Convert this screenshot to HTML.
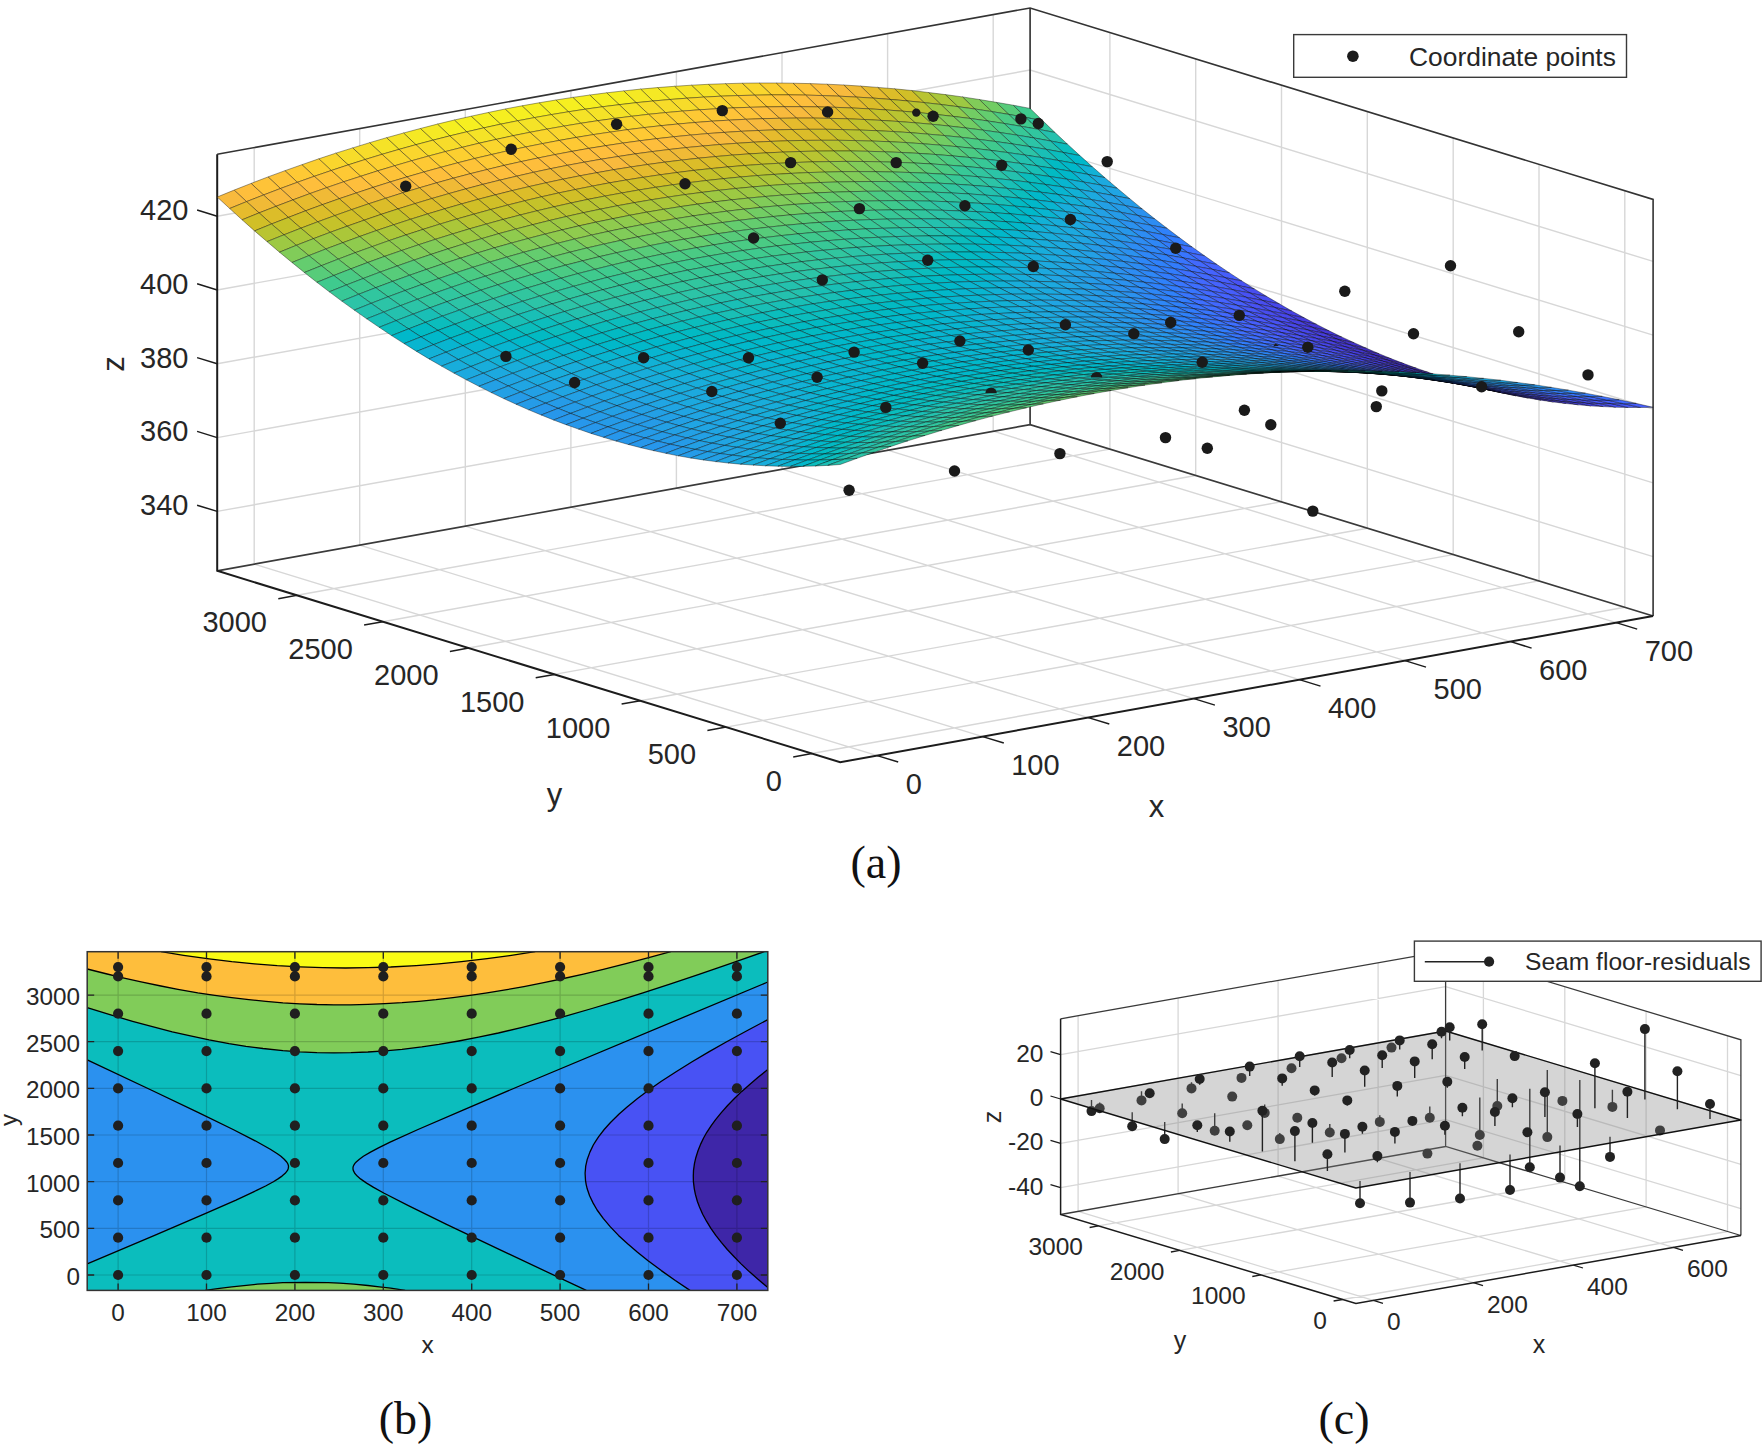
<!DOCTYPE html><html><head><meta charset="utf-8"><title>Surface fitting</title>
<style>html,body{margin:0;padding:0;background:#fff}svg{display:block}text{font-family:"Liberation Sans",Arial,sans-serif;fill:#262626}.s{font-family:"Liberation Serif","Times New Roman",serif;fill:#111}</style></head><body>
<svg width="1764" height="1448" viewBox="0 0 1764 1448">
<rect width="1764" height="1448" fill="#fff"/>
<g id="panel-a">
<path fill="none" stroke="#d7d7d7" stroke-width="1.4" d="M877.2,755.6L254.2,564.2M254.2,564.2L254.2,147.6M982.7,736.6L359.7,545.2M359.7,545.2L359.7,128.6M1088.3,717.6L465.3,526.2M465.3,526.2L465.3,109.6M1193.9,698.6L570.9,507.2M570.9,507.2L570.9,90.6M1299.4,679.6L676.4,488.2M676.4,488.2L676.4,71.6M1405.0,660.6L782.0,469.2M782.0,469.2L782.0,52.6M1510.6,641.6L887.6,450.2M887.6,450.2L887.6,33.6M1616.2,622.6L993.2,431.2M993.2,431.2L993.2,14.6M811.9,753.5L1624.8,607.3M1624.8,607.3L1624.8,190.7M726.1,727.1L1539.0,580.9M1539.0,580.9L1539.0,164.3M640.3,700.8L1453.2,554.6M1453.2,554.6L1453.2,138.0M554.4,674.4L1367.3,528.2M1367.3,528.2L1367.3,111.6M468.6,648.0L1281.5,501.8M1281.5,501.8L1281.5,85.2M382.8,621.7L1195.7,475.5M1195.7,475.5L1195.7,58.9M297.0,595.3L1109.9,449.1M1109.9,449.1L1109.9,32.5M217.2,511.4L1030.1,365.2M1030.1,365.2L1653.1,556.6M217.2,437.6L1030.1,291.4M1030.1,291.4L1653.1,482.8M217.2,363.8L1030.1,217.6M1030.1,217.6L1653.1,409.0M217.2,290.0L1030.1,143.8M1030.1,143.8L1653.1,335.2M217.2,216.2L1030.1,70.0M1030.1,70.0L1653.1,261.4"/>
<path fill="none" stroke="#3a3a3a" stroke-width="1.7" d="M217.2,570.8L1030.1,424.6L1653.1,616.0M1030.1,424.6L1030.1,8.0"/>
<path fill="none" stroke="#333" stroke-width="1.6" d="M217.2,154.2L1030.1,8.0L1653.1,199.4L1653.1,616.0"/>
<path fill="none" stroke="#1c1c1c" stroke-width="2" stroke-linejoin="miter" d="M1653.1,616.0L840.2,762.2L217.2,570.8L217.2,154.2"/>
<path fill="none" stroke="#1c1c1c" stroke-width="1.5" d="M877.2,755.6L898.2,762.0M982.7,736.6L1003.8,743.0M1088.3,717.6L1109.3,724.0M1193.9,698.6L1214.9,705.1M1299.4,679.6L1320.5,686.1M1405.0,660.6L1426.0,667.1M1510.6,641.6L1531.6,648.1M1616.2,622.6L1637.2,629.1M811.9,753.5L793.2,756.9M726.1,727.1L707.4,730.5M640.3,700.8L621.6,704.1M554.4,674.4L535.7,677.8M468.6,648.0L449.9,651.4M382.8,621.7L364.1,625.0M297.0,595.3L278.3,598.7M217.2,511.4L197.1,505.2M217.2,437.6L197.1,431.4M217.2,363.8L197.1,357.6M217.2,290.0L197.1,283.8M217.2,216.2L197.1,210.0"/>
<g font-size="29"><text x="188.5" y="515.2" text-anchor="end">340</text><text x="188.5" y="441.4" text-anchor="end">360</text><text x="188.5" y="367.6" text-anchor="end">380</text><text x="188.5" y="293.8" text-anchor="end">400</text><text x="188.5" y="220.0" text-anchor="end">420</text><text x="781.9" y="790.6" text-anchor="end">0</text><text x="696.1" y="764.2" text-anchor="end">500</text><text x="610.3" y="737.9" text-anchor="end">1000</text><text x="524.4" y="711.5" text-anchor="end">1500</text><text x="438.6" y="685.1" text-anchor="end">2000</text><text x="352.8" y="658.8" text-anchor="end">2500</text><text x="267.0" y="632.4" text-anchor="end">3000</text><text x="905.7" y="794.2">0</text><text x="1011.2" y="775.2">100</text><text x="1116.8" y="756.2">200</text><text x="1222.4" y="737.2">300</text><text x="1327.9" y="718.2">400</text><text x="1433.5" y="699.2">500</text><text x="1539.1" y="680.2">600</text><text x="1644.7" y="661.2">700</text></g>
<text x="1156.5" y="817" font-size="31" text-anchor="middle">x</text>
<text x="554.5" y="805" font-size="31" text-anchor="middle">y</text>
<text transform="translate(124,364) rotate(-90)" font-size="31" text-anchor="middle">z</text>
<g stroke="#000" stroke-opacity="0.5" stroke-width="0.75" stroke-linejoin="round"><path d="M1025.6,117.4L1042.6,120.6L1030.1,108.4L1013.2,105.2z" fill="#3fca8e"/><path d="M1038.1,129.3L1055.0,132.5L1042.6,120.6L1025.6,117.4z" fill="#31c69f"/><path d="M1050.5,141.0L1067.5,144.2L1055.0,132.5L1038.1,129.3z" fill="#24c1ae"/><path d="M1063.0,152.4L1079.9,155.6L1067.5,144.2L1050.5,141.0z" fill="#0bbdbd"/><path d="M1075.5,163.5L1092.4,166.8L1079.9,155.6L1063.0,152.4z" fill="#01b8ca"/><path d="M1087.9,174.4L1104.9,177.7L1092.4,166.8L1075.5,163.5z" fill="#12b1d6"/><path d="M1100.4,185.0L1117.3,188.3L1104.9,177.7L1087.9,174.4z" fill="#1ca9df"/><path d="M1112.8,195.4L1129.8,198.7L1117.3,188.3L1100.4,185.0z" fill="#20a5e3"/><path d="M1125.3,205.6L1142.2,208.9L1129.8,198.7L1112.8,195.4z" fill="#259be8"/><path d="M1137.8,215.5L1154.7,218.8L1142.2,208.9L1125.3,205.6z" fill="#2b91ef"/><path d="M1150.2,225.1L1167.2,228.4L1154.7,218.8L1137.8,215.5z" fill="#2d8cf3"/><path d="M1162.7,234.5L1179.6,237.8L1167.2,228.4L1150.2,225.1z" fill="#2f81fa"/><path d="M1175.1,243.6L1192.1,247.0L1179.6,237.8L1162.7,234.5z" fill="#327cfc"/><path d="M1187.6,252.5L1204.5,255.8L1192.1,247.0L1175.1,243.6z" fill="#3e6fff"/><path d="M1200.1,261.1L1217.0,264.5L1204.5,255.8L1187.6,252.5z" fill="#4269fe"/><path d="M1212.5,269.4L1229.5,272.9L1217.0,264.5L1200.1,261.1z" fill="#4563fd"/><path d="M1225.0,277.6L1241.9,281.0L1229.5,272.9L1212.5,269.4z" fill="#465efb"/><path d="M1237.4,285.4L1254.4,288.9L1241.9,281.0L1225.0,277.6z" fill="#4852f4"/><path d="M1249.9,293.0L1266.8,296.5L1254.4,288.9L1237.4,285.4z" fill="#484df0"/><path d="M1262.4,300.4L1279.3,303.8L1266.8,296.5L1249.9,293.0z" fill="#484df0"/><path d="M1274.8,307.5L1291.8,311.0L1279.3,303.8L1262.4,300.4z" fill="#4747eb"/><path d="M1287.3,314.3L1304.2,317.8L1291.8,311.0L1274.8,307.5z" fill="#4741e5"/><path d="M1299.7,320.9L1316.7,324.4L1304.2,317.8L1287.3,314.3z" fill="#463cde"/><path d="M1312.2,327.3L1329.1,330.8L1316.7,324.4L1299.7,320.9z" fill="#4537d5"/><path d="M1324.7,333.4L1341.6,336.9L1329.1,330.8L1312.2,327.3z" fill="#4537d5"/><path d="M1337.1,339.2L1354.1,342.7L1341.6,336.9L1324.7,333.4z" fill="#4332cb"/><path d="M1349.6,344.8L1366.5,348.3L1354.1,342.7L1337.1,339.2z" fill="#4332cb"/><path d="M1362.0,350.1L1379.0,353.7L1366.5,348.3L1349.6,344.8z" fill="#422ec0"/><path d="M1374.5,355.2L1391.4,358.8L1379.0,353.7L1362.0,350.1z" fill="#422ec0"/><path d="M1387.0,360.0L1403.9,363.6L1391.4,358.8L1374.5,355.2z" fill="#422ec0"/><path d="M1399.4,364.6L1416.4,368.2L1403.9,363.6L1387.0,360.0z" fill="#422ec0"/><path d="M1411.9,368.9L1428.8,372.5L1416.4,368.2L1399.4,364.6z" fill="#402ab4"/><path d="M1424.3,373.0L1441.3,376.6L1428.8,372.5L1411.9,368.9z" fill="#402ab4"/><path d="M1436.8,376.8L1453.7,380.4L1441.3,376.6L1424.3,373.0z" fill="#402ab4"/><path d="M1449.3,380.4L1466.2,384.0L1453.7,380.4L1436.8,376.8z" fill="#402ab4"/><path d="M1461.7,383.7L1478.7,387.3L1466.2,384.0L1449.3,380.4z" fill="#422ec0"/><path d="M1474.2,386.7L1491.1,390.4L1478.7,387.3L1461.7,383.7z" fill="#422ec0"/><path d="M1486.6,389.5L1503.6,393.2L1491.1,390.4L1474.2,386.7z" fill="#422ec0"/><path d="M1499.1,392.1L1516.0,395.8L1503.6,393.2L1486.6,389.5z" fill="#422ec0"/><path d="M1511.6,394.4L1528.5,398.1L1516.0,395.8L1499.1,392.1z" fill="#4332cb"/><path d="M1524.0,396.4L1541.0,400.2L1528.5,398.1L1511.6,394.4z" fill="#4332cb"/><path d="M1536.5,398.2L1553.4,402.0L1541.0,400.2L1524.0,396.4z" fill="#4537d5"/><path d="M1548.9,399.7L1565.9,403.5L1553.4,402.0L1536.5,398.2z" fill="#4537d5"/><path d="M1561.4,401.0L1578.3,404.8L1565.9,403.5L1548.9,399.7z" fill="#463cde"/><path d="M1573.9,402.1L1590.8,405.9L1578.3,404.8L1561.4,401.0z" fill="#4741e5"/><path d="M1586.3,402.8L1603.3,406.6L1590.8,405.9L1573.9,402.1z" fill="#4747eb"/><path d="M1598.8,403.4L1615.7,407.2L1603.3,406.6L1586.3,402.8z" fill="#484df0"/><path d="M1611.2,403.6L1628.2,407.5L1615.7,407.2L1598.8,403.4z" fill="#4852f4"/><path d="M1623.7,403.7L1640.6,407.5L1628.2,407.5L1611.2,403.6z" fill="#4758f8"/><path d="M1636.2,403.4L1653.1,407.3L1640.6,407.5L1623.7,403.7z" fill="#465efb"/><path d="M1008.7,114.4L1025.6,117.4L1013.2,105.2L996.2,102.3z" fill="#57cc7a"/><path d="M1021.1,126.3L1038.1,129.3L1025.6,117.4L1008.7,114.4z" fill="#3fca8e"/><path d="M1033.6,137.9L1050.5,141.0L1038.1,129.3L1021.1,126.3z" fill="#31c69f"/><path d="M1046.1,149.3L1063.0,152.4L1050.5,141.0L1033.6,137.9z" fill="#24c1ae"/><path d="M1058.5,160.5L1075.5,163.5L1063.0,152.4L1046.1,149.3z" fill="#0bbdbd"/><path d="M1071.0,171.3L1087.9,174.4L1075.5,163.5L1058.5,160.5z" fill="#01b8ca"/><path d="M1083.4,182.0L1100.4,185.0L1087.9,174.4L1071.0,171.3z" fill="#12b1d6"/><path d="M1095.9,192.3L1112.8,195.4L1100.4,185.0L1083.4,182.0z" fill="#1ca9df"/><path d="M1108.4,202.5L1125.3,205.6L1112.8,195.4L1095.9,192.3z" fill="#23a0e5"/><path d="M1120.8,212.3L1137.8,215.5L1125.3,205.6L1108.4,202.5z" fill="#259be8"/><path d="M1133.3,222.0L1150.2,225.1L1137.8,215.5L1120.8,212.3z" fill="#2b91ef"/><path d="M1145.7,231.3L1162.7,234.5L1150.2,225.1L1133.3,222.0z" fill="#2d8cf3"/><path d="M1158.2,240.4L1175.1,243.6L1162.7,234.5L1145.7,231.3z" fill="#2f81fa"/><path d="M1170.7,249.3L1187.6,252.5L1175.1,243.6L1158.2,240.4z" fill="#327cfc"/><path d="M1183.1,257.9L1200.1,261.1L1187.6,252.5L1170.7,249.3z" fill="#3875fe"/><path d="M1195.6,266.3L1212.5,269.4L1200.1,261.1L1183.1,257.9z" fill="#4269fe"/><path d="M1208.0,274.4L1225.0,277.6L1212.5,269.4L1195.6,266.3z" fill="#4563fd"/><path d="M1220.5,282.2L1237.4,285.4L1225.0,277.6L1208.0,274.4z" fill="#465efb"/><path d="M1233.0,289.8L1249.9,293.0L1237.4,285.4L1220.5,282.2z" fill="#4758f8"/><path d="M1245.4,297.1L1262.4,300.4L1249.9,293.0L1233.0,289.8z" fill="#4852f4"/><path d="M1257.9,304.2L1274.8,307.5L1262.4,300.4L1245.4,297.1z" fill="#484df0"/><path d="M1270.3,311.1L1287.3,314.3L1274.8,307.5L1257.9,304.2z" fill="#484df0"/><path d="M1282.8,317.6L1299.7,320.9L1287.3,314.3L1270.3,311.1z" fill="#4747eb"/><path d="M1295.3,324.0L1312.2,327.3L1299.7,320.9L1282.8,317.6z" fill="#4741e5"/><path d="M1307.7,330.0L1324.7,333.4L1312.2,327.3L1295.3,324.0z" fill="#463cde"/><path d="M1320.2,335.9L1337.1,339.2L1324.7,333.4L1307.7,330.0z" fill="#463cde"/><path d="M1332.6,341.4L1349.6,344.8L1337.1,339.2L1320.2,335.9z" fill="#4537d5"/><path d="M1345.1,346.8L1362.0,350.1L1349.6,344.8L1332.6,341.4z" fill="#4537d5"/><path d="M1357.6,351.8L1374.5,355.2L1362.0,350.1L1345.1,346.8z" fill="#4537d5"/><path d="M1370.0,356.6L1387.0,360.0L1374.5,355.2L1357.6,351.8z" fill="#4332cb"/><path d="M1382.5,361.2L1399.4,364.6L1387.0,360.0L1370.0,356.6z" fill="#4332cb"/><path d="M1394.9,365.5L1411.9,368.9L1399.4,364.6L1382.5,361.2z" fill="#4332cb"/><path d="M1407.4,369.6L1424.3,373.0L1411.9,368.9L1394.9,365.5z" fill="#4332cb"/><path d="M1419.9,373.4L1436.8,376.8L1424.3,373.0L1407.4,369.6z" fill="#4332cb"/><path d="M1432.3,376.9L1449.3,380.4L1436.8,376.8L1419.9,373.4z" fill="#4332cb"/><path d="M1444.8,380.2L1461.7,383.7L1449.3,380.4L1432.3,376.9z" fill="#4332cb"/><path d="M1457.2,383.3L1474.2,386.7L1461.7,383.7L1444.8,380.2z" fill="#4537d5"/><path d="M1469.7,386.0L1486.6,389.5L1474.2,386.7L1457.2,383.3z" fill="#4537d5"/><path d="M1482.2,388.6L1499.1,392.1L1486.6,389.5L1469.7,386.0z" fill="#4537d5"/><path d="M1494.6,390.9L1511.6,394.4L1499.1,392.1L1482.2,388.6z" fill="#463cde"/><path d="M1507.1,392.9L1524.0,396.4L1511.6,394.4L1494.6,390.9z" fill="#463cde"/><path d="M1519.5,394.7L1536.5,398.2L1524.0,396.4L1507.1,392.9z" fill="#4741e5"/><path d="M1532.0,396.2L1548.9,399.7L1536.5,398.2L1519.5,394.7z" fill="#4741e5"/><path d="M1544.5,397.5L1561.4,401.0L1548.9,399.7L1532.0,396.2z" fill="#4747eb"/><path d="M1556.9,398.5L1573.9,402.1L1561.4,401.0L1544.5,397.5z" fill="#484df0"/><path d="M1569.4,399.3L1586.3,402.8L1573.9,402.1L1556.9,398.5z" fill="#4852f4"/><path d="M1581.8,399.8L1598.8,403.4L1586.3,402.8L1569.4,399.3z" fill="#4852f4"/><path d="M1594.3,400.0L1611.2,403.6L1598.8,403.4L1581.8,399.8z" fill="#4758f8"/><path d="M1606.8,400.0L1623.7,403.7L1611.2,403.6L1594.3,400.0z" fill="#465efb"/><path d="M1619.2,399.8L1636.2,403.4L1623.7,403.7L1606.8,400.0z" fill="#4269fe"/><path d="M991.8,111.6L1008.7,114.4L996.2,102.3L979.3,99.5z" fill="#72cd64"/><path d="M1004.2,123.5L1021.1,126.3L1008.7,114.4L991.8,111.6z" fill="#4acb84"/><path d="M1016.7,135.1L1033.6,137.9L1021.1,126.3L1004.2,123.5z" fill="#37c897"/><path d="M1029.1,146.5L1046.1,149.3L1033.6,137.9L1016.7,135.1z" fill="#2cc4a7"/><path d="M1041.6,157.6L1058.5,160.5L1046.1,149.3L1029.1,146.5z" fill="#19bfb6"/><path d="M1054.1,168.5L1071.0,171.3L1058.5,160.5L1041.6,157.6z" fill="#02bac3"/><path d="M1066.5,179.1L1083.4,182.0L1071.0,171.3L1054.1,168.5z" fill="#01b8ca"/><path d="M1079.0,189.5L1095.9,192.3L1083.4,182.0L1066.5,179.1z" fill="#12b1d6"/><path d="M1091.4,199.6L1108.4,202.5L1095.9,192.3L1079.0,189.5z" fill="#1ca9df"/><path d="M1103.9,209.4L1120.8,212.3L1108.4,202.5L1091.4,199.6z" fill="#23a0e5"/><path d="M1116.4,219.0L1133.3,222.0L1120.8,212.3L1103.9,209.4z" fill="#259be8"/><path d="M1128.8,228.4L1145.7,231.3L1133.3,222.0L1116.4,219.0z" fill="#2b91ef"/><path d="M1141.3,237.5L1158.2,240.4L1145.7,231.3L1128.8,228.4z" fill="#2d8cf3"/><path d="M1153.7,246.3L1170.7,249.3L1158.2,240.4L1141.3,237.5z" fill="#2e87f7"/><path d="M1166.2,254.9L1183.1,257.9L1170.7,249.3L1153.7,246.3z" fill="#327cfc"/><path d="M1178.7,263.3L1195.6,266.3L1183.1,257.9L1166.2,254.9z" fill="#3875fe"/><path d="M1191.1,271.4L1208.0,274.4L1195.6,266.3L1178.7,263.3z" fill="#3e6fff"/><path d="M1203.6,279.2L1220.5,282.2L1208.0,274.4L1191.1,271.4z" fill="#4269fe"/><path d="M1216.0,286.8L1233.0,289.8L1220.5,282.2L1203.6,279.2z" fill="#4563fd"/><path d="M1228.5,294.1L1245.4,297.1L1233.0,289.8L1216.0,286.8z" fill="#465efb"/><path d="M1241.0,301.2L1257.9,304.2L1245.4,297.1L1228.5,294.1z" fill="#4758f8"/><path d="M1253.4,308.0L1270.3,311.1L1257.9,304.2L1241.0,301.2z" fill="#4852f4"/><path d="M1265.9,314.6L1282.8,317.6L1270.3,311.1L1253.4,308.0z" fill="#484df0"/><path d="M1278.3,320.9L1295.3,324.0L1282.8,317.6L1265.9,314.6z" fill="#484df0"/><path d="M1290.8,326.9L1307.7,330.0L1295.3,324.0L1278.3,320.9z" fill="#4747eb"/><path d="M1303.3,332.8L1320.2,335.9L1307.7,330.0L1290.8,326.9z" fill="#4747eb"/><path d="M1315.7,338.3L1332.6,341.4L1320.2,335.9L1303.3,332.8z" fill="#4741e5"/><path d="M1328.2,343.6L1345.1,346.8L1332.6,341.4L1315.7,338.3z" fill="#4741e5"/><path d="M1340.6,348.7L1357.6,351.8L1345.1,346.8L1328.2,343.6z" fill="#463cde"/><path d="M1353.1,353.5L1370.0,356.6L1357.6,351.8L1340.6,348.7z" fill="#463cde"/><path d="M1365.6,358.0L1382.5,361.2L1370.0,356.6L1353.1,353.5z" fill="#463cde"/><path d="M1378.0,362.3L1394.9,365.5L1382.5,361.2L1365.6,358.0z" fill="#463cde"/><path d="M1390.5,366.4L1407.4,369.6L1394.9,365.5L1378.0,362.3z" fill="#463cde"/><path d="M1402.9,370.1L1419.9,373.4L1407.4,369.6L1390.5,366.4z" fill="#463cde"/><path d="M1415.4,373.7L1432.3,376.9L1419.9,373.4L1402.9,370.1z" fill="#463cde"/><path d="M1427.9,377.0L1444.8,380.2L1432.3,376.9L1415.4,373.7z" fill="#463cde"/><path d="M1440.3,380.0L1457.2,383.3L1444.8,380.2L1427.9,377.0z" fill="#463cde"/><path d="M1452.8,382.8L1469.7,386.0L1457.2,383.3L1440.3,380.0z" fill="#4741e5"/><path d="M1465.2,385.3L1482.2,388.6L1469.7,386.0L1452.8,382.8z" fill="#4741e5"/><path d="M1477.7,387.6L1494.6,390.9L1482.2,388.6L1465.2,385.3z" fill="#4741e5"/><path d="M1490.2,389.6L1507.1,392.9L1494.6,390.9L1477.7,387.6z" fill="#4747eb"/><path d="M1502.6,391.4L1519.5,394.7L1507.1,392.9L1490.2,389.6z" fill="#4747eb"/><path d="M1515.1,392.9L1532.0,396.2L1519.5,394.7L1502.6,391.4z" fill="#484df0"/><path d="M1527.5,394.1L1544.5,397.5L1532.0,396.2L1515.1,392.9z" fill="#4852f4"/><path d="M1540.0,395.1L1556.9,398.5L1544.5,397.5L1527.5,394.1z" fill="#4852f4"/><path d="M1552.5,395.9L1569.4,399.3L1556.9,398.5L1540.0,395.1z" fill="#4758f8"/><path d="M1564.9,396.4L1581.8,399.8L1569.4,399.3L1552.5,395.9z" fill="#465efb"/><path d="M1577.4,396.6L1594.3,400.0L1581.8,399.8L1564.9,396.4z" fill="#4563fd"/><path d="M1589.8,396.6L1606.8,400.0L1594.3,400.0L1577.4,396.6z" fill="#4269fe"/><path d="M1602.3,396.4L1619.2,399.8L1606.8,400.0L1589.8,396.6z" fill="#3e6fff"/><path d="M974.8,109.0L991.8,111.6L979.3,99.5L962.4,96.9z" fill="#81cc59"/><path d="M987.3,120.9L1004.2,123.5L991.8,111.6L974.8,109.0z" fill="#64cd6f"/><path d="M999.7,132.5L1016.7,135.1L1004.2,123.5L987.3,120.9z" fill="#4acb84"/><path d="M1012.2,143.9L1029.1,146.5L1016.7,135.1L999.7,132.5z" fill="#37c897"/><path d="M1024.7,155.0L1041.6,157.6L1029.1,146.5L1012.2,143.9z" fill="#2cc4a7"/><path d="M1037.1,165.9L1054.1,168.5L1041.6,157.6L1024.7,155.0z" fill="#19bfb6"/><path d="M1049.6,176.5L1066.5,179.1L1054.1,168.5L1037.1,165.9z" fill="#02bac3"/><path d="M1062.0,186.8L1079.0,189.5L1066.5,179.1L1049.6,176.5z" fill="#08b5d0"/><path d="M1074.5,196.9L1091.4,199.6L1079.0,189.5L1062.0,186.8z" fill="#12b1d6"/><path d="M1087.0,206.7L1103.9,209.4L1091.4,199.6L1074.5,196.9z" fill="#1ca9df"/><path d="M1099.4,216.3L1116.4,219.0L1103.9,209.4L1087.0,206.7z" fill="#23a0e5"/><path d="M1111.9,225.7L1128.8,228.4L1116.4,219.0L1099.4,216.3z" fill="#259be8"/><path d="M1124.3,234.8L1141.3,237.5L1128.8,228.4L1111.9,225.7z" fill="#2797eb"/><path d="M1136.8,243.6L1153.7,246.3L1141.3,237.5L1124.3,234.8z" fill="#2d8cf3"/><path d="M1149.3,252.2L1166.2,254.9L1153.7,246.3L1136.8,243.6z" fill="#2e87f7"/><path d="M1161.7,260.5L1178.7,263.3L1166.2,254.9L1149.3,252.2z" fill="#2f81fa"/><path d="M1174.2,268.6L1191.1,271.4L1178.7,263.3L1161.7,260.5z" fill="#327cfc"/><path d="M1186.6,276.4L1203.6,279.2L1191.1,271.4L1174.2,268.6z" fill="#3e6fff"/><path d="M1199.1,284.0L1216.0,286.8L1203.6,279.2L1186.6,276.4z" fill="#4269fe"/><path d="M1211.6,291.3L1228.5,294.1L1216.0,286.8L1199.1,284.0z" fill="#4563fd"/><path d="M1224.0,298.3L1241.0,301.2L1228.5,294.1L1211.6,291.3z" fill="#4563fd"/><path d="M1236.5,305.2L1253.4,308.0L1241.0,301.2L1224.0,298.3z" fill="#465efb"/><path d="M1248.9,311.7L1265.9,314.6L1253.4,308.0L1236.5,305.2z" fill="#4758f8"/><path d="M1261.4,318.0L1278.3,320.9L1265.9,314.6L1248.9,311.7z" fill="#4852f4"/><path d="M1273.9,324.1L1290.8,326.9L1278.3,320.9L1261.4,318.0z" fill="#4852f4"/><path d="M1286.3,329.9L1303.3,332.8L1290.8,326.9L1273.9,324.1z" fill="#484df0"/><path d="M1298.8,335.4L1315.7,338.3L1303.3,332.8L1286.3,329.9z" fill="#484df0"/><path d="M1311.2,340.7L1328.2,343.6L1315.7,338.3L1298.8,335.4z" fill="#4747eb"/><path d="M1323.7,345.7L1340.6,348.7L1328.2,343.6L1311.2,340.7z" fill="#4747eb"/><path d="M1336.2,350.5L1353.1,353.5L1340.6,348.7L1323.7,345.7z" fill="#4747eb"/><path d="M1348.6,355.1L1365.6,358.0L1353.1,353.5L1336.2,350.5z" fill="#4747eb"/><path d="M1361.1,359.3L1378.0,362.3L1365.6,358.0L1348.6,355.1z" fill="#4741e5"/><path d="M1373.5,363.4L1390.5,366.4L1378.0,362.3L1361.1,359.3z" fill="#4741e5"/><path d="M1386.0,367.1L1402.9,370.1L1390.5,366.4L1373.5,363.4z" fill="#4741e5"/><path d="M1398.5,370.7L1415.4,373.7L1402.9,370.1L1386.0,367.1z" fill="#4741e5"/><path d="M1410.9,373.9L1427.9,377.0L1415.4,373.7L1398.5,370.7z" fill="#4747eb"/><path d="M1423.4,377.0L1440.3,380.0L1427.9,377.0L1410.9,373.9z" fill="#4747eb"/><path d="M1435.8,379.7L1452.8,382.8L1440.3,380.0L1423.4,377.0z" fill="#4747eb"/><path d="M1448.3,382.2L1465.2,385.3L1452.8,382.8L1435.8,379.7z" fill="#484df0"/><path d="M1460.8,384.5L1477.7,387.6L1465.2,385.3L1448.3,382.2z" fill="#484df0"/><path d="M1473.2,386.5L1490.2,389.6L1477.7,387.6L1460.8,384.5z" fill="#484df0"/><path d="M1485.7,388.2L1502.6,391.4L1490.2,389.6L1473.2,386.5z" fill="#4852f4"/><path d="M1498.1,389.7L1515.1,392.9L1502.6,391.4L1485.7,388.2z" fill="#4758f8"/><path d="M1510.6,391.0L1527.5,394.1L1515.1,392.9L1498.1,389.7z" fill="#4758f8"/><path d="M1523.1,392.0L1540.0,395.1L1527.5,394.1L1510.6,391.0z" fill="#465efb"/><path d="M1535.5,392.7L1552.5,395.9L1540.0,395.1L1523.1,392.0z" fill="#4563fd"/><path d="M1548.0,393.2L1564.9,396.4L1552.5,395.9L1535.5,392.7z" fill="#4269fe"/><path d="M1560.4,393.5L1577.4,396.6L1564.9,396.4L1548.0,393.2z" fill="#3e6fff"/><path d="M1572.9,393.4L1589.8,396.6L1577.4,396.6L1560.4,393.5z" fill="#3875fe"/><path d="M1585.4,393.2L1602.3,396.4L1589.8,396.6L1572.9,393.4z" fill="#327cfc"/><path d="M957.9,106.7L974.8,109.0L962.4,96.9L945.4,94.6z" fill="#9dc943"/><path d="M970.3,118.5L987.3,120.9L974.8,109.0L957.9,106.7z" fill="#72cd64"/><path d="M982.8,130.1L999.7,132.5L987.3,120.9L970.3,118.5z" fill="#57cc7a"/><path d="M995.3,141.5L1012.2,143.9L999.7,132.5L982.8,130.1z" fill="#3fca8e"/><path d="M1007.7,152.6L1024.7,155.0L1012.2,143.9L995.3,141.5z" fill="#31c69f"/><path d="M1020.2,163.4L1037.1,165.9L1024.7,155.0L1007.7,152.6z" fill="#24c1ae"/><path d="M1032.6,174.0L1049.6,176.5L1037.1,165.9L1020.2,163.4z" fill="#19bfb6"/><path d="M1045.1,184.4L1062.0,186.8L1049.6,176.5L1032.6,174.0z" fill="#02bac3"/><path d="M1057.6,194.4L1074.5,196.9L1062.0,186.8L1045.1,184.4z" fill="#08b5d0"/><path d="M1070.0,204.3L1087.0,206.7L1074.5,196.9L1057.6,194.4z" fill="#12b1d6"/><path d="M1082.5,213.9L1099.4,216.3L1087.0,206.7L1070.0,204.3z" fill="#1ca9df"/><path d="M1094.9,223.2L1111.9,225.7L1099.4,216.3L1082.5,213.9z" fill="#23a0e5"/><path d="M1107.4,232.2L1124.3,234.8L1111.9,225.7L1094.9,223.2z" fill="#259be8"/><path d="M1119.9,241.1L1136.8,243.6L1124.3,234.8L1107.4,232.2z" fill="#2797eb"/><path d="M1132.3,249.6L1149.3,252.2L1136.8,243.6L1119.9,241.1z" fill="#2d8cf3"/><path d="M1144.8,257.9L1161.7,260.5L1149.3,252.2L1132.3,249.6z" fill="#2e87f7"/><path d="M1157.2,266.0L1174.2,268.6L1161.7,260.5L1144.8,257.9z" fill="#2f81fa"/><path d="M1169.7,273.8L1186.6,276.4L1174.2,268.6L1157.2,266.0z" fill="#327cfc"/><path d="M1182.2,281.4L1199.1,284.0L1186.6,276.4L1169.7,273.8z" fill="#3875fe"/><path d="M1194.6,288.7L1211.6,291.3L1199.1,284.0L1182.2,281.4z" fill="#3e6fff"/><path d="M1207.1,295.7L1224.0,298.3L1211.6,291.3L1194.6,288.7z" fill="#4269fe"/><path d="M1219.5,302.5L1236.5,305.2L1224.0,298.3L1207.1,295.7z" fill="#4563fd"/><path d="M1232.0,309.1L1248.9,311.7L1236.5,305.2L1219.5,302.5z" fill="#4563fd"/><path d="M1244.5,315.4L1261.4,318.0L1248.9,311.7L1232.0,309.1z" fill="#465efb"/><path d="M1256.9,321.4L1273.9,324.1L1261.4,318.0L1244.5,315.4z" fill="#4758f8"/><path d="M1269.4,327.2L1286.3,329.9L1273.9,324.1L1256.9,321.4z" fill="#4758f8"/><path d="M1281.8,332.7L1298.8,335.4L1286.3,329.9L1269.4,327.2z" fill="#4852f4"/><path d="M1294.3,338.0L1311.2,340.7L1298.8,335.4L1281.8,332.7z" fill="#4852f4"/><path d="M1306.8,343.0L1323.7,345.7L1311.2,340.7L1294.3,338.0z" fill="#4852f4"/><path d="M1319.2,347.8L1336.2,350.5L1323.7,345.7L1306.8,343.0z" fill="#484df0"/><path d="M1331.7,352.3L1348.6,355.1L1336.2,350.5L1319.2,347.8z" fill="#484df0"/><path d="M1344.1,356.6L1361.1,359.3L1348.6,355.1L1331.7,352.3z" fill="#484df0"/><path d="M1356.6,360.6L1373.5,363.4L1361.1,359.3L1344.1,356.6z" fill="#484df0"/><path d="M1369.1,364.4L1386.0,367.1L1373.5,363.4L1356.6,360.6z" fill="#484df0"/><path d="M1381.5,367.9L1398.5,370.7L1386.0,367.1L1369.1,364.4z" fill="#484df0"/><path d="M1394.0,371.1L1410.9,373.9L1398.5,370.7L1381.5,367.9z" fill="#484df0"/><path d="M1406.4,374.1L1423.4,377.0L1410.9,373.9L1394.0,371.1z" fill="#484df0"/><path d="M1418.9,376.9L1435.8,379.7L1423.4,377.0L1406.4,374.1z" fill="#4852f4"/><path d="M1431.4,379.4L1448.3,382.2L1435.8,379.7L1418.9,376.9z" fill="#4852f4"/><path d="M1443.8,381.6L1460.8,384.5L1448.3,382.2L1431.4,379.4z" fill="#4758f8"/><path d="M1456.3,383.6L1473.2,386.5L1460.8,384.5L1443.8,381.6z" fill="#4758f8"/><path d="M1468.7,385.4L1485.7,388.2L1473.2,386.5L1456.3,383.6z" fill="#465efb"/><path d="M1481.2,386.8L1498.1,389.7L1485.7,388.2L1468.7,385.4z" fill="#465efb"/><path d="M1493.7,388.1L1510.6,391.0L1498.1,389.7L1481.2,386.8z" fill="#4563fd"/><path d="M1506.1,389.1L1523.1,392.0L1510.6,391.0L1493.7,388.1z" fill="#4269fe"/><path d="M1518.6,389.8L1535.5,392.7L1523.1,392.0L1506.1,389.1z" fill="#3e6fff"/><path d="M1531.0,390.3L1548.0,393.2L1535.5,392.7L1518.6,389.8z" fill="#3e6fff"/><path d="M1543.5,390.5L1560.4,393.5L1548.0,393.2L1531.0,390.3z" fill="#3875fe"/><path d="M1556.0,390.5L1572.9,393.4L1560.4,393.5L1543.5,390.5z" fill="#327cfc"/><path d="M1568.4,390.2L1585.4,393.2L1572.9,393.4L1556.0,390.5z" fill="#2e87f7"/><path d="M940.9,104.5L957.9,106.7L945.4,94.6L928.5,92.5z" fill="#abc739"/><path d="M953.4,116.4L970.3,118.5L957.9,106.7L940.9,104.5z" fill="#8fcb4e"/><path d="M965.9,128.0L982.8,130.1L970.3,118.5L953.4,116.4z" fill="#72cd64"/><path d="M978.3,139.3L995.3,141.5L982.8,130.1L965.9,128.0z" fill="#57cc7a"/><path d="M990.8,150.4L1007.7,152.6L995.3,141.5L978.3,139.3z" fill="#3fca8e"/><path d="M1003.2,161.2L1020.2,163.4L1007.7,152.6L990.8,150.4z" fill="#31c69f"/><path d="M1015.7,171.8L1032.6,174.0L1020.2,163.4L1003.2,161.2z" fill="#24c1ae"/><path d="M1028.2,182.1L1045.1,184.4L1032.6,174.0L1015.7,171.8z" fill="#0bbdbd"/><path d="M1040.6,192.2L1057.6,194.4L1045.1,184.4L1028.2,182.1z" fill="#02bac3"/><path d="M1053.1,202.0L1070.0,204.3L1057.6,194.4L1040.6,192.2z" fill="#08b5d0"/><path d="M1065.5,211.6L1082.5,213.9L1070.0,204.3L1053.1,202.0z" fill="#18addb"/><path d="M1078.0,220.9L1094.9,223.2L1082.5,213.9L1065.5,211.6z" fill="#1ca9df"/><path d="M1090.5,230.0L1107.4,232.2L1094.9,223.2L1078.0,220.9z" fill="#23a0e5"/><path d="M1102.9,238.8L1119.9,241.1L1107.4,232.2L1090.5,230.0z" fill="#259be8"/><path d="M1115.4,247.3L1132.3,249.6L1119.9,241.1L1102.9,238.8z" fill="#2797eb"/><path d="M1127.8,255.6L1144.8,257.9L1132.3,249.6L1115.4,247.3z" fill="#2b91ef"/><path d="M1140.3,263.7L1157.2,266.0L1144.8,257.9L1127.8,255.6z" fill="#2e87f7"/><path d="M1152.8,271.5L1169.7,273.8L1157.2,266.0L1140.3,263.7z" fill="#2f81fa"/><path d="M1165.2,279.0L1182.2,281.4L1169.7,273.8L1152.8,271.5z" fill="#327cfc"/><path d="M1177.7,286.3L1194.6,288.7L1182.2,281.4L1165.2,279.0z" fill="#3875fe"/><path d="M1190.1,293.3L1207.1,295.7L1194.6,288.7L1177.7,286.3z" fill="#3875fe"/><path d="M1202.6,300.1L1219.5,302.5L1207.1,295.7L1190.1,293.3z" fill="#3e6fff"/><path d="M1215.1,306.6L1232.0,309.1L1219.5,302.5L1202.6,300.1z" fill="#4269fe"/><path d="M1227.5,312.9L1244.5,315.4L1232.0,309.1L1215.1,306.6z" fill="#4563fd"/><path d="M1240.0,318.9L1256.9,321.4L1244.5,315.4L1227.5,312.9z" fill="#4563fd"/><path d="M1252.4,324.7L1269.4,327.2L1256.9,321.4L1240.0,318.9z" fill="#465efb"/><path d="M1264.9,330.2L1281.8,332.7L1269.4,327.2L1252.4,324.7z" fill="#465efb"/><path d="M1277.4,335.5L1294.3,338.0L1281.8,332.7L1264.9,330.2z" fill="#4758f8"/><path d="M1289.8,340.5L1306.8,343.0L1294.3,338.0L1277.4,335.5z" fill="#4758f8"/><path d="M1302.3,345.3L1319.2,347.8L1306.8,343.0L1289.8,340.5z" fill="#4758f8"/><path d="M1314.7,349.8L1331.7,352.3L1319.2,347.8L1302.3,345.3z" fill="#4758f8"/><path d="M1327.2,354.0L1344.1,356.6L1331.7,352.3L1314.7,349.8z" fill="#4758f8"/><path d="M1339.7,358.0L1356.6,360.6L1344.1,356.6L1327.2,354.0z" fill="#4852f4"/><path d="M1352.1,361.8L1369.1,364.4L1356.6,360.6L1339.7,358.0z" fill="#4758f8"/><path d="M1364.6,365.3L1381.5,367.9L1369.1,364.4L1352.1,361.8z" fill="#4758f8"/><path d="M1377.0,368.5L1394.0,371.1L1381.5,367.9L1364.6,365.3z" fill="#4758f8"/><path d="M1389.5,371.5L1406.4,374.1L1394.0,371.1L1377.0,368.5z" fill="#4758f8"/><path d="M1402.0,374.3L1418.9,376.9L1406.4,374.1L1389.5,371.5z" fill="#4758f8"/><path d="M1414.4,376.7L1431.4,379.4L1418.9,376.9L1402.0,374.3z" fill="#465efb"/><path d="M1426.9,379.0L1443.8,381.6L1431.4,379.4L1414.4,376.7z" fill="#465efb"/><path d="M1439.3,381.0L1456.3,383.6L1443.8,381.6L1426.9,379.0z" fill="#4563fd"/><path d="M1451.8,382.7L1468.7,385.4L1456.3,383.6L1439.3,381.0z" fill="#4563fd"/><path d="M1464.3,384.2L1481.2,386.8L1468.7,385.4L1451.8,382.7z" fill="#4269fe"/><path d="M1476.7,385.4L1493.7,388.1L1481.2,386.8L1464.3,384.2z" fill="#3e6fff"/><path d="M1489.2,386.3L1506.1,389.1L1493.7,388.1L1476.7,385.4z" fill="#3e6fff"/><path d="M1501.6,387.1L1518.6,389.8L1506.1,389.1L1489.2,386.3z" fill="#3875fe"/><path d="M1514.1,387.5L1531.0,390.3L1518.6,389.8L1501.6,387.1z" fill="#327cfc"/><path d="M1526.6,387.7L1543.5,390.5L1531.0,390.3L1514.1,387.5z" fill="#2f81fa"/><path d="M1539.0,387.7L1556.0,390.5L1543.5,390.5L1526.6,387.7z" fill="#2e87f7"/><path d="M1551.5,387.4L1568.4,390.2L1556.0,390.5L1539.0,387.7z" fill="#2d8cf3"/><path d="M924.0,102.6L940.9,104.5L928.5,92.5L911.6,90.5z" fill="#b9c431"/><path d="M936.5,114.5L953.4,116.4L940.9,104.5L924.0,102.6z" fill="#9dc943"/><path d="M948.9,126.0L965.9,128.0L953.4,116.4L936.5,114.5z" fill="#81cc59"/><path d="M961.4,137.3L978.3,139.3L965.9,128.0L948.9,126.0z" fill="#64cd6f"/><path d="M973.9,148.4L990.8,150.4L978.3,139.3L961.4,137.3z" fill="#4acb84"/><path d="M986.3,159.2L1003.2,161.2L990.8,150.4L973.9,148.4z" fill="#37c897"/><path d="M998.8,169.8L1015.7,171.8L1003.2,161.2L986.3,159.2z" fill="#2cc4a7"/><path d="M1011.2,180.1L1028.2,182.1L1015.7,171.8L998.8,169.8z" fill="#24c1ae"/><path d="M1023.7,190.2L1040.6,192.2L1028.2,182.1L1011.2,180.1z" fill="#0bbdbd"/><path d="M1036.2,200.0L1053.1,202.0L1040.6,192.2L1023.7,190.2z" fill="#01b8ca"/><path d="M1048.6,209.5L1065.5,211.6L1053.1,202.0L1036.2,200.0z" fill="#08b5d0"/><path d="M1061.1,218.8L1078.0,220.9L1065.5,211.6L1048.6,209.5z" fill="#18addb"/><path d="M1073.5,227.9L1090.5,230.0L1078.0,220.9L1061.1,218.8z" fill="#1ca9df"/><path d="M1086.0,236.7L1102.9,238.8L1090.5,230.0L1073.5,227.9z" fill="#20a5e3"/><path d="M1098.5,245.2L1115.4,247.3L1102.9,238.8L1086.0,236.7z" fill="#259be8"/><path d="M1110.9,253.5L1127.8,255.6L1115.4,247.3L1098.5,245.2z" fill="#2797eb"/><path d="M1123.4,261.5L1140.3,263.7L1127.8,255.6L1110.9,253.5z" fill="#2b91ef"/><path d="M1135.8,269.3L1152.8,271.5L1140.3,263.7L1123.4,261.5z" fill="#2d8cf3"/><path d="M1148.3,276.8L1165.2,279.0L1152.8,271.5L1135.8,269.3z" fill="#2e87f7"/><path d="M1160.8,284.1L1177.7,286.3L1165.2,279.0L1148.3,276.8z" fill="#2f81fa"/><path d="M1173.2,291.1L1190.1,293.3L1177.7,286.3L1160.8,284.1z" fill="#327cfc"/><path d="M1185.7,297.9L1202.6,300.1L1190.1,293.3L1173.2,291.1z" fill="#3875fe"/><path d="M1198.1,304.4L1215.1,306.6L1202.6,300.1L1185.7,297.9z" fill="#3e6fff"/><path d="M1210.6,310.7L1227.5,312.9L1215.1,306.6L1198.1,304.4z" fill="#3e6fff"/><path d="M1223.1,316.7L1240.0,318.9L1227.5,312.9L1210.6,310.7z" fill="#4269fe"/><path d="M1235.5,322.5L1252.4,324.7L1240.0,318.9L1223.1,316.7z" fill="#4269fe"/><path d="M1248.0,328.0L1264.9,330.2L1252.4,324.7L1235.5,322.5z" fill="#4563fd"/><path d="M1260.4,333.2L1277.4,335.5L1264.9,330.2L1248.0,328.0z" fill="#4563fd"/><path d="M1272.9,338.2L1289.8,340.5L1277.4,335.5L1260.4,333.2z" fill="#4563fd"/><path d="M1285.4,343.0L1302.3,345.3L1289.8,340.5L1272.9,338.2z" fill="#465efb"/><path d="M1297.8,347.5L1314.7,349.8L1302.3,345.3L1285.4,343.0z" fill="#465efb"/><path d="M1310.3,351.7L1327.2,354.0L1314.7,349.8L1297.8,347.5z" fill="#465efb"/><path d="M1322.7,355.7L1339.7,358.0L1327.2,354.0L1310.3,351.7z" fill="#465efb"/><path d="M1335.2,359.4L1352.1,361.8L1339.7,358.0L1322.7,355.7z" fill="#465efb"/><path d="M1347.7,362.9L1364.6,365.3L1352.1,361.8L1335.2,359.4z" fill="#465efb"/><path d="M1360.1,366.1L1377.0,368.5L1364.6,365.3L1347.7,362.9z" fill="#465efb"/><path d="M1372.6,369.1L1389.5,371.5L1377.0,368.5L1360.1,366.1z" fill="#465efb"/><path d="M1385.0,371.8L1402.0,374.3L1389.5,371.5L1372.6,369.1z" fill="#4563fd"/><path d="M1397.5,374.3L1414.4,376.7L1402.0,374.3L1385.0,371.8z" fill="#4563fd"/><path d="M1410.0,376.5L1426.9,379.0L1414.4,376.7L1397.5,374.3z" fill="#4269fe"/><path d="M1422.4,378.5L1439.3,381.0L1426.9,379.0L1410.0,376.5z" fill="#4269fe"/><path d="M1434.9,380.2L1451.8,382.7L1439.3,381.0L1422.4,378.5z" fill="#3e6fff"/><path d="M1447.3,381.7L1464.3,384.2L1451.8,382.7L1434.9,380.2z" fill="#3e6fff"/><path d="M1459.8,382.9L1476.7,385.4L1464.3,384.2L1447.3,381.7z" fill="#3875fe"/><path d="M1472.3,383.8L1489.2,386.3L1476.7,385.4L1459.8,382.9z" fill="#327cfc"/><path d="M1484.7,384.5L1501.6,387.1L1489.2,386.3L1472.3,383.8z" fill="#2f81fa"/><path d="M1497.2,385.0L1514.1,387.5L1501.6,387.1L1484.7,384.5z" fill="#2e87f7"/><path d="M1509.6,385.2L1526.6,387.7L1514.1,387.5L1497.2,385.0z" fill="#2d8cf3"/><path d="M1522.1,385.1L1539.0,387.7L1526.6,387.7L1509.6,385.2z" fill="#2b91ef"/><path d="M1534.6,384.8L1551.5,387.4L1539.0,387.7L1522.1,385.1z" fill="#2797eb"/><path d="M907.1,100.9L924.0,102.6L911.6,90.5L894.6,88.8z" fill="#d1bf27"/><path d="M919.5,112.7L936.5,114.5L924.0,102.6L907.1,100.9z" fill="#b9c431"/><path d="M932.0,124.3L948.9,126.0L936.5,114.5L919.5,112.7z" fill="#8fcb4e"/><path d="M944.5,135.6L961.4,137.3L948.9,126.0L932.0,124.3z" fill="#72cd64"/><path d="M956.9,146.7L973.9,148.4L961.4,137.3L944.5,135.6z" fill="#57cc7a"/><path d="M969.4,157.5L986.3,159.2L973.9,148.4L956.9,146.7z" fill="#4acb84"/><path d="M981.8,168.0L998.8,169.8L986.3,159.2L969.4,157.5z" fill="#37c897"/><path d="M994.3,178.3L1011.2,180.1L998.8,169.8L981.8,168.0z" fill="#2cc4a7"/><path d="M1006.8,188.3L1023.7,190.2L1011.2,180.1L994.3,178.3z" fill="#19bfb6"/><path d="M1019.2,198.1L1036.2,200.0L1023.7,190.2L1006.8,188.3z" fill="#0bbdbd"/><path d="M1031.7,207.7L1048.6,209.5L1036.2,200.0L1019.2,198.1z" fill="#01b8ca"/><path d="M1044.1,217.0L1061.1,218.8L1048.6,209.5L1031.7,207.7z" fill="#08b5d0"/><path d="M1056.6,226.0L1073.5,227.9L1061.1,218.8L1044.1,217.0z" fill="#18addb"/><path d="M1069.1,234.8L1086.0,236.7L1073.5,227.9L1056.6,226.0z" fill="#1ca9df"/><path d="M1081.5,243.3L1098.5,245.2L1086.0,236.7L1069.1,234.8z" fill="#20a5e3"/><path d="M1094.0,251.6L1110.9,253.5L1098.5,245.2L1081.5,243.3z" fill="#259be8"/><path d="M1106.4,259.6L1123.4,261.5L1110.9,253.5L1094.0,251.6z" fill="#2797eb"/><path d="M1118.9,267.4L1135.8,269.3L1123.4,261.5L1106.4,259.6z" fill="#2b91ef"/><path d="M1131.4,274.9L1148.3,276.8L1135.8,269.3L1118.9,267.4z" fill="#2d8cf3"/><path d="M1143.8,282.2L1160.8,284.1L1148.3,276.8L1131.4,274.9z" fill="#2e87f7"/><path d="M1156.3,289.2L1173.2,291.1L1160.8,284.1L1143.8,282.2z" fill="#2f81fa"/><path d="M1168.7,295.9L1185.7,297.9L1173.2,291.1L1156.3,289.2z" fill="#2f81fa"/><path d="M1181.2,302.4L1198.1,304.4L1185.7,297.9L1168.7,295.9z" fill="#327cfc"/><path d="M1193.7,308.7L1210.6,310.7L1198.1,304.4L1181.2,302.4z" fill="#3875fe"/><path d="M1206.1,314.7L1223.1,316.7L1210.6,310.7L1193.7,308.7z" fill="#3875fe"/><path d="M1218.6,320.4L1235.5,322.5L1223.1,316.7L1206.1,314.7z" fill="#3e6fff"/><path d="M1231.0,325.9L1248.0,328.0L1235.5,322.5L1218.6,320.4z" fill="#3e6fff"/><path d="M1243.5,331.2L1260.4,333.2L1248.0,328.0L1231.0,325.9z" fill="#4269fe"/><path d="M1256.0,336.1L1272.9,338.2L1260.4,333.2L1243.5,331.2z" fill="#4269fe"/><path d="M1268.4,340.9L1285.4,343.0L1272.9,338.2L1256.0,336.1z" fill="#4269fe"/><path d="M1280.9,345.4L1297.8,347.5L1285.4,343.0L1268.4,340.9z" fill="#4269fe"/><path d="M1293.3,349.6L1310.3,351.7L1297.8,347.5L1280.9,345.4z" fill="#4563fd"/><path d="M1305.8,353.6L1322.7,355.7L1310.3,351.7L1293.3,349.6z" fill="#4563fd"/><path d="M1318.3,357.3L1335.2,359.4L1322.7,355.7L1305.8,353.6z" fill="#4563fd"/><path d="M1330.7,360.8L1347.7,362.9L1335.2,359.4L1318.3,357.3z" fill="#4563fd"/><path d="M1343.2,364.0L1360.1,366.1L1347.7,362.9L1330.7,360.8z" fill="#4269fe"/><path d="M1355.6,366.9L1372.6,369.1L1360.1,366.1L1343.2,364.0z" fill="#4269fe"/><path d="M1368.1,369.7L1385.0,371.8L1372.6,369.1L1355.6,366.9z" fill="#4269fe"/><path d="M1380.6,372.1L1397.5,374.3L1385.0,371.8L1368.1,369.7z" fill="#3e6fff"/><path d="M1393.0,374.3L1410.0,376.5L1397.5,374.3L1380.6,372.1z" fill="#3e6fff"/><path d="M1405.5,376.3L1422.4,378.5L1410.0,376.5L1393.0,374.3z" fill="#3875fe"/><path d="M1417.9,378.0L1434.9,380.2L1422.4,378.5L1405.5,376.3z" fill="#3875fe"/><path d="M1430.4,379.4L1447.3,381.7L1434.9,380.2L1417.9,378.0z" fill="#327cfc"/><path d="M1442.9,380.6L1459.8,382.9L1447.3,381.7L1430.4,379.4z" fill="#327cfc"/><path d="M1455.3,381.6L1472.3,383.8L1459.8,382.9L1442.9,380.6z" fill="#2f81fa"/><path d="M1467.8,382.2L1484.7,384.5L1472.3,383.8L1455.3,381.6z" fill="#2e87f7"/><path d="M1480.2,382.7L1497.2,385.0L1484.7,384.5L1467.8,382.2z" fill="#2d8cf3"/><path d="M1492.7,382.9L1509.6,385.2L1497.2,385.0L1480.2,382.7z" fill="#2b91ef"/><path d="M1505.2,382.8L1522.1,385.1L1509.6,385.2L1492.7,382.9z" fill="#2797eb"/><path d="M1517.6,382.5L1534.6,384.8L1522.1,385.1L1505.2,382.8z" fill="#259be8"/><path d="M890.1,99.4L907.1,100.9L894.6,88.8L877.7,87.4z" fill="#dcbd29"/><path d="M902.6,111.2L919.5,112.7L907.1,100.9L890.1,99.4z" fill="#c5c22a"/><path d="M915.1,122.8L932.0,124.3L919.5,112.7L902.6,111.2z" fill="#abc739"/><path d="M927.5,134.1L944.5,135.6L932.0,124.3L915.1,122.8z" fill="#8fcb4e"/><path d="M940.0,145.1L956.9,146.7L944.5,135.6L927.5,134.1z" fill="#72cd64"/><path d="M952.4,155.9L969.4,157.5L956.9,146.7L940.0,145.1z" fill="#57cc7a"/><path d="M964.9,166.4L981.8,168.0L969.4,157.5L952.4,155.9z" fill="#3fca8e"/><path d="M977.4,176.7L994.3,178.3L981.8,168.0L964.9,166.4z" fill="#31c69f"/><path d="M989.8,186.7L1006.8,188.3L994.3,178.3L977.4,176.7z" fill="#2cc4a7"/><path d="M1002.3,196.5L1019.2,198.1L1006.8,188.3L989.8,186.7z" fill="#19bfb6"/><path d="M1014.7,206.1L1031.7,207.7L1019.2,198.1L1002.3,196.5z" fill="#02bac3"/><path d="M1027.2,215.3L1044.1,217.0L1031.7,207.7L1014.7,206.1z" fill="#01b8ca"/><path d="M1039.7,224.3L1056.6,226.0L1044.1,217.0L1027.2,215.3z" fill="#12b1d6"/><path d="M1052.1,233.1L1069.1,234.8L1056.6,226.0L1039.7,224.3z" fill="#18addb"/><path d="M1064.6,241.6L1081.5,243.3L1069.1,234.8L1052.1,233.1z" fill="#1ca9df"/><path d="M1077.0,249.9L1094.0,251.6L1081.5,243.3L1064.6,241.6z" fill="#20a5e3"/><path d="M1089.5,257.9L1106.4,259.6L1094.0,251.6L1077.0,249.9z" fill="#23a0e5"/><path d="M1102.0,265.7L1118.9,267.4L1106.4,259.6L1089.5,257.9z" fill="#2797eb"/><path d="M1114.4,273.2L1131.4,274.9L1118.9,267.4L1102.0,265.7z" fill="#2b91ef"/><path d="M1126.9,280.4L1143.8,282.2L1131.4,274.9L1114.4,273.2z" fill="#2b91ef"/><path d="M1139.3,287.4L1156.3,289.2L1143.8,282.2L1126.9,280.4z" fill="#2d8cf3"/><path d="M1151.8,294.1L1168.7,295.9L1156.3,289.2L1139.3,287.4z" fill="#2e87f7"/><path d="M1164.3,300.6L1181.2,302.4L1168.7,295.9L1151.8,294.1z" fill="#2f81fa"/><path d="M1176.7,306.9L1193.7,308.7L1181.2,302.4L1164.3,300.6z" fill="#2f81fa"/><path d="M1189.2,312.9L1206.1,314.7L1193.7,308.7L1176.7,306.9z" fill="#327cfc"/><path d="M1201.6,318.6L1218.6,320.4L1206.1,314.7L1189.2,312.9z" fill="#3875fe"/><path d="M1214.1,324.1L1231.0,325.9L1218.6,320.4L1201.6,318.6z" fill="#3875fe"/><path d="M1226.6,329.3L1243.5,331.2L1231.0,325.9L1214.1,324.1z" fill="#3875fe"/><path d="M1239.0,334.3L1256.0,336.1L1243.5,331.2L1226.6,329.3z" fill="#3e6fff"/><path d="M1251.5,339.0L1268.4,340.9L1256.0,336.1L1239.0,334.3z" fill="#3e6fff"/><path d="M1263.9,343.5L1280.9,345.4L1268.4,340.9L1251.5,339.0z" fill="#3e6fff"/><path d="M1276.4,347.7L1293.3,349.6L1280.9,345.4L1263.9,343.5z" fill="#3e6fff"/><path d="M1288.9,351.6L1305.8,353.6L1293.3,349.6L1276.4,347.7z" fill="#3e6fff"/><path d="M1301.3,355.4L1318.3,357.3L1305.8,353.6L1288.9,351.6z" fill="#3e6fff"/><path d="M1313.8,358.8L1330.7,360.8L1318.3,357.3L1301.3,355.4z" fill="#3e6fff"/><path d="M1326.2,362.0L1343.2,364.0L1330.7,360.8L1313.8,358.8z" fill="#3e6fff"/><path d="M1338.7,365.0L1355.6,366.9L1343.2,364.0L1326.2,362.0z" fill="#3e6fff"/><path d="M1351.2,367.7L1368.1,369.7L1355.6,366.9L1338.7,365.0z" fill="#3875fe"/><path d="M1363.6,370.1L1380.6,372.1L1368.1,369.7L1351.2,367.7z" fill="#3875fe"/><path d="M1376.1,372.3L1393.0,374.3L1380.6,372.1L1363.6,370.1z" fill="#3875fe"/><path d="M1388.5,374.3L1405.5,376.3L1393.0,374.3L1376.1,372.3z" fill="#327cfc"/><path d="M1401.0,375.9L1417.9,378.0L1405.5,376.3L1388.5,374.3z" fill="#327cfc"/><path d="M1413.5,377.4L1430.4,379.4L1417.9,378.0L1401.0,375.9z" fill="#2f81fa"/><path d="M1425.9,378.6L1442.9,380.6L1430.4,379.4L1413.5,377.4z" fill="#2e87f7"/><path d="M1438.4,379.5L1455.3,381.6L1442.9,380.6L1425.9,378.6z" fill="#2d8cf3"/><path d="M1450.8,380.2L1467.8,382.2L1455.3,381.6L1438.4,379.5z" fill="#2d8cf3"/><path d="M1463.3,380.6L1480.2,382.7L1467.8,382.2L1450.8,380.2z" fill="#2b91ef"/><path d="M1475.8,380.8L1492.7,382.9L1480.2,382.7L1463.3,380.6z" fill="#2797eb"/><path d="M1488.2,380.7L1505.2,382.8L1492.7,382.9L1475.8,380.8z" fill="#259be8"/><path d="M1500.7,380.3L1517.6,382.5L1505.2,382.8L1488.2,380.7z" fill="#20a5e3"/><path d="M873.2,98.1L890.1,99.4L877.7,87.4L860.7,86.1z" fill="#e6bb2d"/><path d="M885.7,109.9L902.6,111.2L890.1,99.4L873.2,98.1z" fill="#d1bf27"/><path d="M898.1,121.5L915.1,122.8L902.6,111.2L885.7,109.9z" fill="#b9c431"/><path d="M910.6,132.7L927.5,134.1L915.1,122.8L898.1,121.5z" fill="#9dc943"/><path d="M923.0,143.8L940.0,145.1L927.5,134.1L910.6,132.7z" fill="#81cc59"/><path d="M935.5,154.5L952.4,155.9L940.0,145.1L923.0,143.8z" fill="#64cd6f"/><path d="M948.0,165.1L964.9,166.4L952.4,155.9L935.5,154.5z" fill="#4acb84"/><path d="M960.4,175.3L977.4,176.7L964.9,166.4L948.0,165.1z" fill="#37c897"/><path d="M972.9,185.4L989.8,186.7L977.4,176.7L960.4,175.3z" fill="#31c69f"/><path d="M985.3,195.1L1002.3,196.5L989.8,186.7L972.9,185.4z" fill="#24c1ae"/><path d="M997.8,204.6L1014.7,206.1L1002.3,196.5L985.3,195.1z" fill="#19bfb6"/><path d="M1010.3,213.9L1027.2,215.3L1014.7,206.1L997.8,204.6z" fill="#02bac3"/><path d="M1022.7,222.9L1039.7,224.3L1027.2,215.3L1010.3,213.9z" fill="#01b8ca"/><path d="M1035.2,231.7L1052.1,233.1L1039.7,224.3L1022.7,222.9z" fill="#12b1d6"/><path d="M1047.6,240.2L1064.6,241.6L1052.1,233.1L1035.2,231.7z" fill="#18addb"/><path d="M1060.1,248.4L1077.0,249.9L1064.6,241.6L1047.6,240.2z" fill="#1ca9df"/><path d="M1072.6,256.4L1089.5,257.9L1077.0,249.9L1060.1,248.4z" fill="#20a5e3"/><path d="M1085.0,264.1L1102.0,265.7L1089.5,257.9L1072.6,256.4z" fill="#23a0e5"/><path d="M1097.5,271.6L1114.4,273.2L1102.0,265.7L1085.0,264.1z" fill="#259be8"/><path d="M1109.9,278.9L1126.9,280.4L1114.4,273.2L1097.5,271.6z" fill="#2797eb"/><path d="M1122.4,285.9L1139.3,287.4L1126.9,280.4L1109.9,278.9z" fill="#2b91ef"/><path d="M1134.9,292.6L1151.8,294.1L1139.3,287.4L1122.4,285.9z" fill="#2d8cf3"/><path d="M1147.3,299.1L1164.3,300.6L1151.8,294.1L1134.9,292.6z" fill="#2e87f7"/><path d="M1159.8,305.3L1176.7,306.9L1164.3,300.6L1147.3,299.1z" fill="#2e87f7"/><path d="M1172.2,311.3L1189.2,312.9L1176.7,306.9L1159.8,305.3z" fill="#2f81fa"/><path d="M1184.7,317.0L1201.6,318.6L1189.2,312.9L1172.2,311.3z" fill="#2f81fa"/><path d="M1197.2,322.5L1214.1,324.1L1201.6,318.6L1184.7,317.0z" fill="#327cfc"/><path d="M1209.6,327.7L1226.6,329.3L1214.1,324.1L1197.2,322.5z" fill="#327cfc"/><path d="M1222.1,332.6L1239.0,334.3L1226.6,329.3L1209.6,327.7z" fill="#327cfc"/><path d="M1234.5,337.3L1251.5,339.0L1239.0,334.3L1222.1,332.6z" fill="#3875fe"/><path d="M1247.0,341.8L1263.9,343.5L1251.5,339.0L1234.5,337.3z" fill="#3875fe"/><path d="M1259.5,346.0L1276.4,347.7L1263.9,343.5L1247.0,341.8z" fill="#3875fe"/><path d="M1271.9,349.9L1288.9,351.6L1276.4,347.7L1259.5,346.0z" fill="#3875fe"/><path d="M1284.4,353.6L1301.3,355.4L1288.9,351.6L1271.9,349.9z" fill="#3875fe"/><path d="M1296.8,357.1L1313.8,358.8L1301.3,355.4L1284.4,353.6z" fill="#3875fe"/><path d="M1309.3,360.3L1326.2,362.0L1313.8,358.8L1296.8,357.1z" fill="#3875fe"/><path d="M1321.8,363.2L1338.7,365.0L1326.2,362.0L1309.3,360.3z" fill="#327cfc"/><path d="M1334.2,365.9L1351.2,367.7L1338.7,365.0L1321.8,363.2z" fill="#327cfc"/><path d="M1346.7,368.3L1363.6,370.1L1351.2,367.7L1334.2,365.9z" fill="#327cfc"/><path d="M1359.1,370.5L1376.1,372.3L1363.6,370.1L1346.7,368.3z" fill="#2f81fa"/><path d="M1371.6,372.4L1388.5,374.3L1376.1,372.3L1359.1,370.5z" fill="#2f81fa"/><path d="M1384.1,374.1L1401.0,375.9L1388.5,374.3L1371.6,372.4z" fill="#2e87f7"/><path d="M1396.5,375.5L1413.5,377.4L1401.0,375.9L1384.1,374.1z" fill="#2e87f7"/><path d="M1409.0,376.7L1425.9,378.6L1413.5,377.4L1396.5,375.5z" fill="#2d8cf3"/><path d="M1421.4,377.6L1438.4,379.5L1425.9,378.6L1409.0,376.7z" fill="#2b91ef"/><path d="M1433.9,378.3L1450.8,380.2L1438.4,379.5L1421.4,377.6z" fill="#2797eb"/><path d="M1446.4,378.7L1463.3,380.6L1450.8,380.2L1433.9,378.3z" fill="#259be8"/><path d="M1458.8,378.9L1475.8,380.8L1463.3,380.6L1446.4,378.7z" fill="#23a0e5"/><path d="M1471.3,378.8L1488.2,380.7L1475.8,380.8L1458.8,378.9z" fill="#20a5e3"/><path d="M1483.7,378.4L1500.7,380.3L1488.2,380.7L1471.3,378.8z" fill="#1ca9df"/><path d="M856.3,97.1L873.2,98.1L860.7,86.1L843.8,85.0z" fill="#f0ba36"/><path d="M868.7,108.8L885.7,109.9L873.2,98.1L856.3,97.1z" fill="#dcbd29"/><path d="M881.2,120.4L898.1,121.5L885.7,109.9L868.7,108.8z" fill="#c5c22a"/><path d="M893.7,131.6L910.6,132.7L898.1,121.5L881.2,120.4z" fill="#abc739"/><path d="M906.1,142.6L923.0,143.8L910.6,132.7L893.7,131.6z" fill="#8fcb4e"/><path d="M918.6,153.4L935.5,154.5L923.0,143.8L906.1,142.6z" fill="#72cd64"/><path d="M931.0,163.9L948.0,165.1L935.5,154.5L918.6,153.4z" fill="#57cc7a"/><path d="M943.5,174.2L960.4,175.3L948.0,165.1L931.0,163.9z" fill="#4acb84"/><path d="M956.0,184.2L972.9,185.4L960.4,175.3L943.5,174.2z" fill="#37c897"/><path d="M968.4,193.9L985.3,195.1L972.9,185.4L956.0,184.2z" fill="#2cc4a7"/><path d="M980.9,203.4L997.8,204.6L985.3,195.1L968.4,193.9z" fill="#24c1ae"/><path d="M993.3,212.7L1010.3,213.9L997.8,204.6L980.9,203.4z" fill="#0bbdbd"/><path d="M1005.8,221.7L1022.7,222.9L1010.3,213.9L993.3,212.7z" fill="#02bac3"/><path d="M1018.3,230.4L1035.2,231.7L1022.7,222.9L1005.8,221.7z" fill="#01b8ca"/><path d="M1030.7,238.9L1047.6,240.2L1035.2,231.7L1018.3,230.4z" fill="#12b1d6"/><path d="M1043.2,247.1L1060.1,248.4L1047.6,240.2L1030.7,238.9z" fill="#18addb"/><path d="M1055.6,255.1L1072.6,256.4L1060.1,248.4L1043.2,247.1z" fill="#1ca9df"/><path d="M1068.1,262.9L1085.0,264.1L1072.6,256.4L1055.6,255.1z" fill="#20a5e3"/><path d="M1080.6,270.3L1097.5,271.6L1085.0,264.1L1068.1,262.9z" fill="#23a0e5"/><path d="M1093.0,277.6L1109.9,278.9L1097.5,271.6L1080.6,270.3z" fill="#259be8"/><path d="M1105.5,284.5L1122.4,285.9L1109.9,278.9L1093.0,277.6z" fill="#2797eb"/><path d="M1117.9,291.3L1134.9,292.6L1122.4,285.9L1105.5,284.5z" fill="#2b91ef"/><path d="M1130.4,297.7L1147.3,299.1L1134.9,292.6L1117.9,291.3z" fill="#2b91ef"/><path d="M1142.9,303.9L1159.8,305.3L1147.3,299.1L1130.4,297.7z" fill="#2d8cf3"/><path d="M1155.3,309.9L1172.2,311.3L1159.8,305.3L1142.9,303.9z" fill="#2e87f7"/><path d="M1167.8,315.6L1184.7,317.0L1172.2,311.3L1155.3,309.9z" fill="#2e87f7"/><path d="M1180.2,321.0L1197.2,322.5L1184.7,317.0L1167.8,315.6z" fill="#2f81fa"/><path d="M1192.7,326.3L1209.6,327.7L1197.2,322.5L1180.2,321.0z" fill="#2f81fa"/><path d="M1205.2,331.2L1222.1,332.6L1209.6,327.7L1192.7,326.3z" fill="#2f81fa"/><path d="M1217.6,335.9L1234.5,337.3L1222.1,332.6L1205.2,331.2z" fill="#2f81fa"/><path d="M1230.1,340.3L1247.0,341.8L1234.5,337.3L1217.6,335.9z" fill="#327cfc"/><path d="M1242.5,344.5L1259.5,346.0L1247.0,341.8L1230.1,340.3z" fill="#327cfc"/><path d="M1255.0,348.5L1271.9,349.9L1259.5,346.0L1242.5,344.5z" fill="#327cfc"/><path d="M1267.5,352.1L1284.4,353.6L1271.9,349.9L1255.0,348.5z" fill="#327cfc"/><path d="M1279.9,355.6L1296.8,357.1L1284.4,353.6L1267.5,352.1z" fill="#327cfc"/><path d="M1292.4,358.8L1309.3,360.3L1296.8,357.1L1279.9,355.6z" fill="#2f81fa"/><path d="M1304.8,361.7L1321.8,363.2L1309.3,360.3L1292.4,358.8z" fill="#2f81fa"/><path d="M1317.3,364.4L1334.2,365.9L1321.8,363.2L1304.8,361.7z" fill="#2f81fa"/><path d="M1329.8,366.8L1346.7,368.3L1334.2,365.9L1317.3,364.4z" fill="#2f81fa"/><path d="M1342.2,368.9L1359.1,370.5L1346.7,368.3L1329.8,366.8z" fill="#2e87f7"/><path d="M1354.7,370.9L1371.6,372.4L1359.1,370.5L1342.2,368.9z" fill="#2e87f7"/><path d="M1367.1,372.5L1384.1,374.1L1371.6,372.4L1354.7,370.9z" fill="#2d8cf3"/><path d="M1379.6,373.9L1396.5,375.5L1384.1,374.1L1367.1,372.5z" fill="#2b91ef"/><path d="M1392.1,375.1L1409.0,376.7L1396.5,375.5L1379.6,373.9z" fill="#2b91ef"/><path d="M1404.5,376.0L1421.4,377.6L1409.0,376.7L1392.1,375.1z" fill="#2797eb"/><path d="M1417.0,376.6L1433.9,378.3L1421.4,377.6L1404.5,376.0z" fill="#259be8"/><path d="M1429.4,377.0L1446.4,378.7L1433.9,378.3L1417.0,376.6z" fill="#23a0e5"/><path d="M1441.9,377.2L1458.8,378.9L1446.4,378.7L1429.4,377.0z" fill="#20a5e3"/><path d="M1454.4,377.1L1471.3,378.8L1458.8,378.9L1441.9,377.2z" fill="#1ca9df"/><path d="M1466.8,376.7L1483.7,378.4L1471.3,378.8L1454.4,377.1z" fill="#18addb"/><path d="M839.3,96.2L856.3,97.1L843.8,85.0L826.9,84.2z" fill="#f8ba3d"/><path d="M851.8,108.0L868.7,108.8L856.3,97.1L839.3,96.2z" fill="#e6bb2d"/><path d="M864.3,119.5L881.2,120.4L868.7,108.8L851.8,108.0z" fill="#d1bf27"/><path d="M876.7,130.7L893.7,131.6L881.2,120.4L864.3,119.5z" fill="#b9c431"/><path d="M889.2,141.7L906.1,142.6L893.7,131.6L876.7,130.7z" fill="#9dc943"/><path d="M901.6,152.5L918.6,153.4L906.1,142.6L889.2,141.7z" fill="#81cc59"/><path d="M914.1,163.0L931.0,163.9L918.6,153.4L901.6,152.5z" fill="#64cd6f"/><path d="M926.6,173.2L943.5,174.2L931.0,163.9L914.1,163.0z" fill="#57cc7a"/><path d="M939.0,183.2L956.0,184.2L943.5,174.2L926.6,173.2z" fill="#3fca8e"/><path d="M951.5,193.0L968.4,193.9L956.0,184.2L939.0,183.2z" fill="#31c69f"/><path d="M963.9,202.5L980.9,203.4L968.4,193.9L951.5,193.0z" fill="#2cc4a7"/><path d="M976.4,211.7L993.3,212.7L980.9,203.4L963.9,202.5z" fill="#19bfb6"/><path d="M988.9,220.7L1005.8,221.7L993.3,212.7L976.4,211.7z" fill="#0bbdbd"/><path d="M1001.3,229.4L1018.3,230.4L1005.8,221.7L988.9,220.7z" fill="#02bac3"/><path d="M1013.8,237.9L1030.7,238.9L1018.3,230.4L1001.3,229.4z" fill="#08b5d0"/><path d="M1026.2,246.1L1043.2,247.1L1030.7,238.9L1013.8,237.9z" fill="#12b1d6"/><path d="M1038.7,254.1L1055.6,255.1L1043.2,247.1L1026.2,246.1z" fill="#18addb"/><path d="M1051.2,261.8L1068.1,262.9L1055.6,255.1L1038.7,254.1z" fill="#1ca9df"/><path d="M1063.6,269.2L1080.6,270.3L1068.1,262.9L1051.2,261.8z" fill="#20a5e3"/><path d="M1076.1,276.5L1093.0,277.6L1080.6,270.3L1063.6,269.2z" fill="#23a0e5"/><path d="M1088.5,283.4L1105.5,284.5L1093.0,277.6L1076.1,276.5z" fill="#259be8"/><path d="M1101.0,290.1L1117.9,291.3L1105.5,284.5L1088.5,283.4z" fill="#2797eb"/><path d="M1113.5,296.6L1130.4,297.7L1117.9,291.3L1101.0,290.1z" fill="#2797eb"/><path d="M1125.9,302.8L1142.9,303.9L1130.4,297.7L1113.5,296.6z" fill="#2b91ef"/><path d="M1138.4,308.7L1155.3,309.9L1142.9,303.9L1125.9,302.8z" fill="#2b91ef"/><path d="M1150.8,314.4L1167.8,315.6L1155.3,309.9L1138.4,308.7z" fill="#2d8cf3"/><path d="M1163.3,319.9L1180.2,321.0L1167.8,315.6L1150.8,314.4z" fill="#2d8cf3"/><path d="M1175.8,325.0L1192.7,326.3L1180.2,321.0L1163.3,319.9z" fill="#2e87f7"/><path d="M1188.2,330.0L1205.2,331.2L1192.7,326.3L1175.8,325.0z" fill="#2e87f7"/><path d="M1200.7,334.7L1217.6,335.9L1205.2,331.2L1188.2,330.0z" fill="#2e87f7"/><path d="M1213.1,339.1L1230.1,340.3L1217.6,335.9L1200.7,334.7z" fill="#2e87f7"/><path d="M1225.6,343.3L1242.5,344.5L1230.1,340.3L1213.1,339.1z" fill="#2f81fa"/><path d="M1238.1,347.2L1255.0,348.5L1242.5,344.5L1225.6,343.3z" fill="#2f81fa"/><path d="M1250.5,350.9L1267.5,352.1L1255.0,348.5L1238.1,347.2z" fill="#2f81fa"/><path d="M1263.0,354.3L1279.9,355.6L1267.5,352.1L1250.5,350.9z" fill="#2e87f7"/><path d="M1275.4,357.4L1292.4,358.8L1279.9,355.6L1263.0,354.3z" fill="#2e87f7"/><path d="M1287.9,360.4L1304.8,361.7L1292.4,358.8L1275.4,357.4z" fill="#2e87f7"/><path d="M1300.4,363.0L1317.3,364.4L1304.8,361.7L1287.9,360.4z" fill="#2e87f7"/><path d="M1312.8,365.4L1329.8,366.8L1317.3,364.4L1300.4,363.0z" fill="#2d8cf3"/><path d="M1325.3,367.6L1342.2,368.9L1329.8,366.8L1312.8,365.4z" fill="#2d8cf3"/><path d="M1337.7,369.5L1354.7,370.9L1342.2,368.9L1325.3,367.6z" fill="#2b91ef"/><path d="M1350.2,371.1L1367.1,372.5L1354.7,370.9L1337.7,369.5z" fill="#2b91ef"/><path d="M1362.7,372.5L1379.6,373.9L1367.1,372.5L1350.2,371.1z" fill="#2797eb"/><path d="M1375.1,373.7L1392.1,375.1L1379.6,373.9L1362.7,372.5z" fill="#259be8"/><path d="M1387.6,374.6L1404.5,376.0L1392.1,375.1L1375.1,373.7z" fill="#259be8"/><path d="M1400.0,375.2L1417.0,376.6L1404.5,376.0L1387.6,374.6z" fill="#23a0e5"/><path d="M1412.5,375.6L1429.4,377.0L1417.0,376.6L1400.0,375.2z" fill="#20a5e3"/><path d="M1425.0,375.7L1441.9,377.2L1429.4,377.0L1412.5,375.6z" fill="#1ca9df"/><path d="M1437.4,375.6L1454.4,377.1L1441.9,377.2L1425.0,375.7z" fill="#18addb"/><path d="M1449.9,375.2L1466.8,376.7L1454.4,377.1L1437.4,375.6z" fill="#12b1d6"/><path d="M822.4,95.6L839.3,96.2L826.9,84.2L809.9,83.6z" fill="#febe3c"/><path d="M834.9,107.3L851.8,108.0L839.3,96.2L822.4,95.6z" fill="#f0ba36"/><path d="M847.3,118.8L864.3,119.5L851.8,108.0L834.9,107.3z" fill="#dcbd29"/><path d="M859.8,130.1L876.7,130.7L864.3,119.5L847.3,118.8z" fill="#c5c22a"/><path d="M872.2,141.1L889.2,141.7L876.7,130.7L859.8,130.1z" fill="#abc739"/><path d="M884.7,151.8L901.6,152.5L889.2,141.7L872.2,141.1z" fill="#8fcb4e"/><path d="M897.2,162.3L914.1,163.0L901.6,152.5L884.7,151.8z" fill="#72cd64"/><path d="M909.6,172.5L926.6,173.2L914.1,163.0L897.2,162.3z" fill="#64cd6f"/><path d="M922.1,182.5L939.0,183.2L926.6,173.2L909.6,172.5z" fill="#4acb84"/><path d="M934.5,192.2L951.5,193.0L939.0,183.2L922.1,182.5z" fill="#37c897"/><path d="M947.0,201.7L963.9,202.5L951.5,193.0L934.5,192.2z" fill="#31c69f"/><path d="M959.5,210.9L976.4,211.7L963.9,202.5L947.0,201.7z" fill="#24c1ae"/><path d="M971.9,219.9L988.9,220.7L976.4,211.7L959.5,210.9z" fill="#19bfb6"/><path d="M984.4,228.6L1001.3,229.4L988.9,220.7L971.9,219.9z" fill="#0bbdbd"/><path d="M996.8,237.1L1013.8,237.9L1001.3,229.4L984.4,228.6z" fill="#01b8ca"/><path d="M1009.3,245.3L1026.2,246.1L1013.8,237.9L996.8,237.1z" fill="#08b5d0"/><path d="M1021.8,253.2L1038.7,254.1L1026.2,246.1L1009.3,245.3z" fill="#12b1d6"/><path d="M1034.2,260.9L1051.2,261.8L1038.7,254.1L1021.8,253.2z" fill="#18addb"/><path d="M1046.7,268.4L1063.6,269.2L1051.2,261.8L1034.2,260.9z" fill="#1ca9df"/><path d="M1059.1,275.6L1076.1,276.5L1063.6,269.2L1046.7,268.4z" fill="#20a5e3"/><path d="M1071.6,282.5L1088.5,283.4L1076.1,276.5L1059.1,275.6z" fill="#23a0e5"/><path d="M1084.1,289.2L1101.0,290.1L1088.5,283.4L1071.6,282.5z" fill="#23a0e5"/><path d="M1096.5,295.7L1113.5,296.6L1101.0,290.1L1084.1,289.2z" fill="#259be8"/><path d="M1109.0,301.8L1125.9,302.8L1113.5,296.6L1096.5,295.7z" fill="#2797eb"/><path d="M1121.4,307.8L1138.4,308.7L1125.9,302.8L1109.0,301.8z" fill="#2797eb"/><path d="M1133.9,313.5L1150.8,314.4L1138.4,308.7L1121.4,307.8z" fill="#2b91ef"/><path d="M1146.4,318.9L1163.3,319.9L1150.8,314.4L1133.9,313.5z" fill="#2b91ef"/><path d="M1158.8,324.1L1175.8,325.0L1163.3,319.9L1146.4,318.9z" fill="#2d8cf3"/><path d="M1171.3,329.0L1188.2,330.0L1175.8,325.0L1158.8,324.1z" fill="#2d8cf3"/><path d="M1183.7,333.6L1200.7,334.7L1188.2,330.0L1171.3,329.0z" fill="#2d8cf3"/><path d="M1196.2,338.1L1213.1,339.1L1200.7,334.7L1183.7,333.6z" fill="#2d8cf3"/><path d="M1208.7,342.2L1225.6,343.3L1213.1,339.1L1196.2,338.1z" fill="#2d8cf3"/><path d="M1221.1,346.1L1238.1,347.2L1225.6,343.3L1208.7,342.2z" fill="#2d8cf3"/><path d="M1233.6,349.8L1250.5,350.9L1238.1,347.2L1221.1,346.1z" fill="#2d8cf3"/><path d="M1246.0,353.2L1263.0,354.3L1250.5,350.9L1233.6,349.8z" fill="#2d8cf3"/><path d="M1258.5,356.4L1275.4,357.4L1263.0,354.3L1246.0,353.2z" fill="#2d8cf3"/><path d="M1271.0,359.3L1287.9,360.4L1275.4,357.4L1258.5,356.4z" fill="#2d8cf3"/><path d="M1283.4,361.9L1300.4,363.0L1287.9,360.4L1271.0,359.3z" fill="#2d8cf3"/><path d="M1295.9,364.3L1312.8,365.4L1300.4,363.0L1283.4,361.9z" fill="#2b91ef"/><path d="M1308.3,366.4L1325.3,367.6L1312.8,365.4L1295.9,364.3z" fill="#2b91ef"/><path d="M1320.8,368.3L1337.7,369.5L1325.3,367.6L1308.3,366.4z" fill="#2797eb"/><path d="M1333.3,370.0L1350.2,371.1L1337.7,369.5L1320.8,368.3z" fill="#2797eb"/><path d="M1345.7,371.3L1362.7,372.5L1350.2,371.1L1333.3,370.0z" fill="#259be8"/><path d="M1358.2,372.5L1375.1,373.7L1362.7,372.5L1345.7,371.3z" fill="#23a0e5"/><path d="M1370.6,373.3L1387.6,374.6L1375.1,373.7L1358.2,372.5z" fill="#20a5e3"/><path d="M1383.1,374.0L1400.0,375.2L1387.6,374.6L1370.6,373.3z" fill="#20a5e3"/><path d="M1395.6,374.3L1412.5,375.6L1400.0,375.2L1383.1,374.0z" fill="#1ca9df"/><path d="M1408.0,374.5L1425.0,375.7L1412.5,375.6L1395.6,374.3z" fill="#18addb"/><path d="M1420.5,374.3L1437.4,375.6L1425.0,375.7L1408.0,374.5z" fill="#12b1d6"/><path d="M1432.9,373.9L1449.9,375.2L1437.4,375.6L1420.5,374.3z" fill="#01b8ca"/><path d="M805.5,95.1L822.4,95.6L809.9,83.6L793.0,83.2z" fill="#fec338"/><path d="M817.9,106.9L834.9,107.3L822.4,95.6L805.5,95.1z" fill="#f8ba3d"/><path d="M830.4,118.4L847.3,118.8L834.9,107.3L817.9,106.9z" fill="#e6bb2d"/><path d="M842.8,129.6L859.8,130.1L847.3,118.8L830.4,118.4z" fill="#d1bf27"/><path d="M855.3,140.6L872.2,141.1L859.8,130.1L842.8,129.6z" fill="#b9c431"/><path d="M867.8,151.3L884.7,151.8L872.2,141.1L855.3,140.6z" fill="#9dc943"/><path d="M880.2,161.8L897.2,162.3L884.7,151.8L867.8,151.3z" fill="#81cc59"/><path d="M892.7,172.0L909.6,172.5L897.2,162.3L880.2,161.8z" fill="#72cd64"/><path d="M905.1,182.0L922.1,182.5L909.6,172.5L892.7,172.0z" fill="#57cc7a"/><path d="M917.6,191.7L934.5,192.2L922.1,182.5L905.1,182.0z" fill="#3fca8e"/><path d="M930.1,201.1L947.0,201.7L934.5,192.2L917.6,191.7z" fill="#37c897"/><path d="M942.5,210.3L959.5,210.9L947.0,201.7L930.1,201.1z" fill="#2cc4a7"/><path d="M955.0,219.3L971.9,219.9L959.5,210.9L942.5,210.3z" fill="#24c1ae"/><path d="M967.4,228.0L984.4,228.6L971.9,219.9L955.0,219.3z" fill="#19bfb6"/><path d="M979.9,236.4L996.8,237.1L984.4,228.6L967.4,228.0z" fill="#02bac3"/><path d="M992.4,244.6L1009.3,245.3L996.8,237.1L979.9,236.4z" fill="#01b8ca"/><path d="M1004.8,252.6L1021.8,253.2L1009.3,245.3L992.4,244.6z" fill="#08b5d0"/><path d="M1017.3,260.3L1034.2,260.9L1021.8,253.2L1004.8,252.6z" fill="#12b1d6"/><path d="M1029.7,267.7L1046.7,268.4L1034.2,260.9L1017.3,260.3z" fill="#18addb"/><path d="M1042.2,274.9L1059.1,275.6L1046.7,268.4L1029.7,267.7z" fill="#1ca9df"/><path d="M1054.7,281.8L1071.6,282.5L1059.1,275.6L1042.2,274.9z" fill="#20a5e3"/><path d="M1067.1,288.5L1084.1,289.2L1071.6,282.5L1054.7,281.8z" fill="#20a5e3"/><path d="M1079.6,294.9L1096.5,295.7L1084.1,289.2L1067.1,288.5z" fill="#23a0e5"/><path d="M1092.0,301.1L1109.0,301.8L1096.5,295.7L1079.6,294.9z" fill="#259be8"/><path d="M1104.5,307.0L1121.4,307.8L1109.0,301.8L1092.0,301.1z" fill="#259be8"/><path d="M1117.0,312.7L1133.9,313.5L1121.4,307.8L1104.5,307.0z" fill="#2797eb"/><path d="M1129.4,318.1L1146.4,318.9L1133.9,313.5L1117.0,312.7z" fill="#2797eb"/><path d="M1141.9,323.3L1158.8,324.1L1146.4,318.9L1129.4,318.1z" fill="#2b91ef"/><path d="M1154.3,328.2L1171.3,329.0L1158.8,324.1L1141.9,323.3z" fill="#2b91ef"/><path d="M1166.8,332.8L1183.7,333.6L1171.3,329.0L1154.3,328.2z" fill="#2b91ef"/><path d="M1179.3,337.2L1196.2,338.1L1183.7,333.6L1166.8,332.8z" fill="#2b91ef"/><path d="M1191.7,341.4L1208.7,342.2L1196.2,338.1L1179.3,337.2z" fill="#2b91ef"/><path d="M1204.2,345.3L1221.1,346.1L1208.7,342.2L1191.7,341.4z" fill="#2b91ef"/><path d="M1216.6,348.9L1233.6,349.8L1221.1,346.1L1204.2,345.3z" fill="#2b91ef"/><path d="M1229.1,352.3L1246.0,353.2L1233.6,349.8L1216.6,348.9z" fill="#2b91ef"/><path d="M1241.6,355.5L1258.5,356.4L1246.0,353.2L1229.1,352.3z" fill="#2b91ef"/><path d="M1254.0,358.4L1271.0,359.3L1258.5,356.4L1241.6,355.5z" fill="#2b91ef"/><path d="M1266.5,361.0L1283.4,361.9L1271.0,359.3L1254.0,358.4z" fill="#2797eb"/><path d="M1278.9,363.4L1295.9,364.3L1283.4,361.9L1266.5,361.0z" fill="#2797eb"/><path d="M1291.4,365.5L1308.3,366.4L1295.9,364.3L1278.9,363.4z" fill="#2797eb"/><path d="M1303.9,367.4L1320.8,368.3L1308.3,366.4L1291.4,365.5z" fill="#259be8"/><path d="M1316.3,369.0L1333.3,370.0L1320.8,368.3L1303.9,367.4z" fill="#259be8"/><path d="M1328.8,370.4L1345.7,371.3L1333.3,370.0L1316.3,369.0z" fill="#23a0e5"/><path d="M1341.2,371.5L1358.2,372.5L1345.7,371.3L1328.8,370.4z" fill="#20a5e3"/><path d="M1353.7,372.3L1370.6,373.3L1358.2,372.5L1341.2,371.5z" fill="#1ca9df"/><path d="M1366.2,373.0L1383.1,374.0L1370.6,373.3L1353.7,372.3z" fill="#18addb"/><path d="M1378.6,373.3L1395.6,374.3L1383.1,374.0L1366.2,373.0z" fill="#12b1d6"/><path d="M1391.1,373.4L1408.0,374.5L1395.6,374.3L1378.6,373.3z" fill="#08b5d0"/><path d="M1403.5,373.3L1420.5,374.3L1408.0,374.5L1391.1,373.4z" fill="#01b8ca"/><path d="M1416.0,372.9L1432.9,373.9L1420.5,374.3L1403.5,373.3z" fill="#02bac3"/><path d="M788.5,94.9L805.5,95.1L793.0,83.2L776.1,83.0z" fill="#fec934"/><path d="M801.0,106.7L817.9,106.9L805.5,95.1L788.5,94.9z" fill="#febe3c"/><path d="M813.4,118.1L830.4,118.4L817.9,106.9L801.0,106.7z" fill="#f0ba36"/><path d="M825.9,129.3L842.8,129.6L830.4,118.4L813.4,118.1z" fill="#dcbd29"/><path d="M838.4,140.3L855.3,140.6L842.8,129.6L825.9,129.3z" fill="#c5c22a"/><path d="M850.8,151.0L867.8,151.3L855.3,140.6L838.4,140.3z" fill="#abc739"/><path d="M863.3,161.5L880.2,161.8L867.8,151.3L850.8,151.0z" fill="#8fcb4e"/><path d="M875.7,171.7L892.7,172.0L880.2,161.8L863.3,161.5z" fill="#81cc59"/><path d="M888.2,181.6L905.1,182.0L892.7,172.0L875.7,171.7z" fill="#64cd6f"/><path d="M900.7,191.3L917.6,191.7L905.1,182.0L888.2,181.6z" fill="#4acb84"/><path d="M913.1,200.8L930.1,201.1L917.6,191.7L900.7,191.3z" fill="#3fca8e"/><path d="M925.6,210.0L942.5,210.3L930.1,201.1L913.1,200.8z" fill="#31c69f"/><path d="M938.0,218.9L955.0,219.3L942.5,210.3L925.6,210.0z" fill="#2cc4a7"/><path d="M950.5,227.6L967.4,228.0L955.0,219.3L938.0,218.9z" fill="#24c1ae"/><path d="M963.0,236.1L979.9,236.4L967.4,228.0L950.5,227.6z" fill="#0bbdbd"/><path d="M975.4,244.2L992.4,244.6L979.9,236.4L963.0,236.1z" fill="#02bac3"/><path d="M987.9,252.2L1004.8,252.6L992.4,244.6L975.4,244.2z" fill="#01b8ca"/><path d="M1000.3,259.8L1017.3,260.3L1004.8,252.6L987.9,252.2z" fill="#08b5d0"/><path d="M1012.8,267.3L1029.7,267.7L1017.3,260.3L1000.3,259.8z" fill="#12b1d6"/><path d="M1025.3,274.4L1042.2,274.9L1029.7,267.7L1012.8,267.3z" fill="#18addb"/><path d="M1037.7,281.4L1054.7,281.8L1042.2,274.9L1025.3,274.4z" fill="#1ca9df"/><path d="M1050.2,288.0L1067.1,288.5L1054.7,281.8L1037.7,281.4z" fill="#1ca9df"/><path d="M1062.6,294.4L1079.6,294.9L1067.1,288.5L1050.2,288.0z" fill="#20a5e3"/><path d="M1075.1,300.6L1092.0,301.1L1079.6,294.9L1062.6,294.4z" fill="#23a0e5"/><path d="M1087.6,306.5L1104.5,307.0L1092.0,301.1L1075.1,300.6z" fill="#23a0e5"/><path d="M1100.0,312.2L1117.0,312.7L1104.5,307.0L1087.6,306.5z" fill="#259be8"/><path d="M1112.5,317.6L1129.4,318.1L1117.0,312.7L1100.0,312.2z" fill="#259be8"/><path d="M1124.9,322.7L1141.9,323.3L1129.4,318.1L1112.5,317.6z" fill="#2797eb"/><path d="M1137.4,327.6L1154.3,328.2L1141.9,323.3L1124.9,322.7z" fill="#2797eb"/><path d="M1149.9,332.3L1166.8,332.8L1154.3,328.2L1137.4,327.6z" fill="#2797eb"/><path d="M1162.3,336.6L1179.3,337.2L1166.8,332.8L1149.9,332.3z" fill="#2797eb"/><path d="M1174.8,340.8L1191.7,341.4L1179.3,337.2L1162.3,336.6z" fill="#2797eb"/><path d="M1187.2,344.7L1204.2,345.3L1191.7,341.4L1174.8,340.8z" fill="#2797eb"/><path d="M1199.7,348.3L1216.6,348.9L1204.2,345.3L1187.2,344.7z" fill="#2797eb"/><path d="M1212.2,351.7L1229.1,352.3L1216.6,348.9L1199.7,348.3z" fill="#2797eb"/><path d="M1224.6,354.8L1241.6,355.5L1229.1,352.3L1212.2,351.7z" fill="#2797eb"/><path d="M1237.1,357.7L1254.0,358.4L1241.6,355.5L1224.6,354.8z" fill="#2797eb"/><path d="M1249.5,360.3L1266.5,361.0L1254.0,358.4L1237.1,357.7z" fill="#259be8"/><path d="M1262.0,362.7L1278.9,363.4L1266.5,361.0L1249.5,360.3z" fill="#259be8"/><path d="M1274.5,364.8L1291.4,365.5L1278.9,363.4L1262.0,362.7z" fill="#259be8"/><path d="M1286.9,366.6L1303.9,367.4L1291.4,365.5L1274.5,364.8z" fill="#23a0e5"/><path d="M1299.4,368.3L1316.3,369.0L1303.9,367.4L1286.9,366.6z" fill="#20a5e3"/><path d="M1311.8,369.6L1328.8,370.4L1316.3,369.0L1299.4,368.3z" fill="#20a5e3"/><path d="M1324.3,370.7L1341.2,371.5L1328.8,370.4L1311.8,369.6z" fill="#1ca9df"/><path d="M1336.8,371.6L1353.7,372.3L1341.2,371.5L1324.3,370.7z" fill="#18addb"/><path d="M1349.2,372.2L1366.2,373.0L1353.7,372.3L1336.8,371.6z" fill="#12b1d6"/><path d="M1361.7,372.5L1378.6,373.3L1366.2,373.0L1349.2,372.2z" fill="#08b5d0"/><path d="M1374.1,372.6L1391.1,373.4L1378.6,373.3L1361.7,372.5z" fill="#01b8ca"/><path d="M1386.6,372.4L1403.5,373.3L1391.1,373.4L1374.1,372.6z" fill="#02bac3"/><path d="M1399.1,372.0L1416.0,372.9L1403.5,373.3L1386.6,372.4z" fill="#0bbdbd"/><path d="M771.6,94.9L788.5,94.9L776.1,83.0L759.1,83.0z" fill="#fccf30"/><path d="M784.1,106.7L801.0,106.7L788.5,94.9L771.6,94.9z" fill="#fec338"/><path d="M796.5,118.1L813.4,118.1L801.0,106.7L784.1,106.7z" fill="#f8ba3d"/><path d="M809.0,129.3L825.9,129.3L813.4,118.1L796.5,118.1z" fill="#e6bb2d"/><path d="M821.4,140.3L838.4,140.3L825.9,129.3L809.0,129.3z" fill="#d1bf27"/><path d="M833.9,151.0L850.8,151.0L838.4,140.3L821.4,140.3z" fill="#b9c431"/><path d="M846.4,161.4L863.3,161.5L850.8,151.0L833.9,151.0z" fill="#9dc943"/><path d="M858.8,171.6L875.7,171.7L863.3,161.5L846.4,161.4z" fill="#81cc59"/><path d="M871.3,181.5L888.2,181.6L875.7,171.7L858.8,171.6z" fill="#72cd64"/><path d="M883.7,191.2L900.7,191.3L888.2,181.6L871.3,181.5z" fill="#57cc7a"/><path d="M896.2,200.7L913.1,200.8L900.7,191.3L883.7,191.2z" fill="#4acb84"/><path d="M908.7,209.9L925.6,210.0L913.1,200.8L896.2,200.7z" fill="#37c897"/><path d="M921.1,218.8L938.0,218.9L925.6,210.0L908.7,209.9z" fill="#31c69f"/><path d="M933.6,227.5L950.5,227.6L938.0,218.9L921.1,218.8z" fill="#24c1ae"/><path d="M946.0,235.9L963.0,236.1L950.5,227.6L933.6,227.5z" fill="#19bfb6"/><path d="M958.5,244.0L975.4,244.2L963.0,236.1L946.0,235.9z" fill="#0bbdbd"/><path d="M971.0,252.0L987.9,252.2L975.4,244.2L958.5,244.0z" fill="#02bac3"/><path d="M983.4,259.6L1000.3,259.8L987.9,252.2L971.0,252.0z" fill="#01b8ca"/><path d="M995.9,267.0L1012.8,267.3L1000.3,259.8L983.4,259.6z" fill="#08b5d0"/><path d="M1008.3,274.2L1025.3,274.4L1012.8,267.3L995.9,267.0z" fill="#12b1d6"/><path d="M1020.8,281.1L1037.7,281.4L1025.3,274.4L1008.3,274.2z" fill="#18addb"/><path d="M1033.3,287.8L1050.2,288.0L1037.7,281.4L1020.8,281.1z" fill="#1ca9df"/><path d="M1045.7,294.2L1062.6,294.4L1050.2,288.0L1033.3,287.8z" fill="#1ca9df"/><path d="M1058.2,300.3L1075.1,300.6L1062.6,294.4L1045.7,294.2z" fill="#20a5e3"/><path d="M1070.6,306.2L1087.6,306.5L1075.1,300.6L1058.2,300.3z" fill="#20a5e3"/><path d="M1083.1,311.8L1100.0,312.2L1087.6,306.5L1070.6,306.2z" fill="#23a0e5"/><path d="M1095.6,317.2L1112.5,317.6L1100.0,312.2L1083.1,311.8z" fill="#23a0e5"/><path d="M1108.0,322.4L1124.9,322.7L1112.5,317.6L1095.6,317.2z" fill="#259be8"/><path d="M1120.5,327.3L1137.4,327.6L1124.9,322.7L1108.0,322.4z" fill="#259be8"/><path d="M1132.9,331.9L1149.9,332.3L1137.4,327.6L1120.5,327.3z" fill="#259be8"/><path d="M1145.4,336.3L1162.3,336.6L1149.9,332.3L1132.9,331.9z" fill="#259be8"/><path d="M1157.9,340.4L1174.8,340.8L1162.3,336.6L1145.4,336.3z" fill="#259be8"/><path d="M1170.3,344.3L1187.2,344.7L1174.8,340.8L1157.9,340.4z" fill="#259be8"/><path d="M1182.8,347.9L1199.7,348.3L1187.2,344.7L1170.3,344.3z" fill="#259be8"/><path d="M1195.2,351.2L1212.2,351.7L1199.7,348.3L1182.8,347.9z" fill="#259be8"/><path d="M1207.7,354.4L1224.6,354.8L1212.2,351.7L1195.2,351.2z" fill="#259be8"/><path d="M1220.2,357.2L1237.1,357.7L1224.6,354.8L1207.7,354.4z" fill="#259be8"/><path d="M1232.6,359.8L1249.5,360.3L1237.1,357.7L1220.2,357.2z" fill="#259be8"/><path d="M1245.1,362.2L1262.0,362.7L1249.5,360.3L1232.6,359.8z" fill="#23a0e5"/><path d="M1257.5,364.3L1274.5,364.8L1262.0,362.7L1245.1,362.2z" fill="#23a0e5"/><path d="M1270.0,366.1L1286.9,366.6L1274.5,364.8L1257.5,364.3z" fill="#20a5e3"/><path d="M1282.5,367.7L1299.4,368.3L1286.9,366.6L1270.0,366.1z" fill="#20a5e3"/><path d="M1294.9,369.1L1311.8,369.6L1299.4,368.3L1282.5,367.7z" fill="#1ca9df"/><path d="M1307.4,370.2L1324.3,370.7L1311.8,369.6L1294.9,369.1z" fill="#18addb"/><path d="M1319.8,371.0L1336.8,371.6L1324.3,370.7L1307.4,370.2z" fill="#12b1d6"/><path d="M1332.3,371.6L1349.2,372.2L1336.8,371.6L1319.8,371.0z" fill="#08b5d0"/><path d="M1344.8,371.9L1361.7,372.5L1349.2,372.2L1332.3,371.6z" fill="#01b8ca"/><path d="M1357.2,372.0L1374.1,372.6L1361.7,372.5L1344.8,371.9z" fill="#02bac3"/><path d="M1369.7,371.8L1386.6,372.4L1374.1,372.6L1357.2,372.0z" fill="#0bbdbd"/><path d="M1382.1,371.4L1399.1,372.0L1386.6,372.4L1369.7,371.8z" fill="#19bfb6"/><path d="M754.7,95.2L771.6,94.9L759.1,83.0L742.2,83.2z" fill="#fad62d"/><path d="M767.1,106.9L784.1,106.7L771.6,94.9L754.7,95.2z" fill="#fec934"/><path d="M779.6,118.3L796.5,118.1L784.1,106.7L767.1,106.9z" fill="#f8ba3d"/><path d="M792.0,129.5L809.0,129.3L796.5,118.1L779.6,118.3z" fill="#e6bb2d"/><path d="M804.5,140.4L821.4,140.3L809.0,129.3L792.0,129.5z" fill="#dcbd29"/><path d="M817.0,151.1L833.9,151.0L821.4,140.3L804.5,140.4z" fill="#c5c22a"/><path d="M829.4,161.6L846.4,161.4L833.9,151.0L817.0,151.1z" fill="#abc739"/><path d="M841.9,171.7L858.8,171.6L846.4,161.4L829.4,161.6z" fill="#8fcb4e"/><path d="M854.3,181.7L871.3,181.5L858.8,171.6L841.9,171.7z" fill="#81cc59"/><path d="M866.8,191.3L883.7,191.2L871.3,181.5L854.3,181.7z" fill="#64cd6f"/><path d="M879.3,200.8L896.2,200.7L883.7,191.2L866.8,191.3z" fill="#4acb84"/><path d="M891.7,209.9L908.7,209.9L896.2,200.7L879.3,200.8z" fill="#3fca8e"/><path d="M904.2,218.8L921.1,218.8L908.7,209.9L891.7,209.9z" fill="#37c897"/><path d="M916.6,227.5L933.6,227.5L921.1,218.8L904.2,218.8z" fill="#2cc4a7"/><path d="M929.1,235.9L946.0,235.9L933.6,227.5L916.6,227.5z" fill="#24c1ae"/><path d="M941.6,244.1L958.5,244.0L946.0,235.9L929.1,235.9z" fill="#19bfb6"/><path d="M954.0,252.0L971.0,252.0L958.5,244.0L941.6,244.1z" fill="#0bbdbd"/><path d="M966.5,259.6L983.4,259.6L971.0,252.0L954.0,252.0z" fill="#02bac3"/><path d="M978.9,267.0L995.9,267.0L983.4,259.6L966.5,259.6z" fill="#01b8ca"/><path d="M991.4,274.2L1008.3,274.2L995.9,267.0L978.9,267.0z" fill="#08b5d0"/><path d="M1003.9,281.1L1020.8,281.1L1008.3,274.2L991.4,274.2z" fill="#12b1d6"/><path d="M1016.3,287.7L1033.3,287.8L1020.8,281.1L1003.9,281.1z" fill="#18addb"/><path d="M1028.8,294.1L1045.7,294.2L1033.3,287.8L1016.3,287.7z" fill="#18addb"/><path d="M1041.2,300.2L1058.2,300.3L1045.7,294.2L1028.8,294.1z" fill="#1ca9df"/><path d="M1053.7,306.1L1070.6,306.2L1058.2,300.3L1041.2,300.2z" fill="#20a5e3"/><path d="M1066.2,311.7L1083.1,311.8L1070.6,306.2L1053.7,306.1z" fill="#20a5e3"/><path d="M1078.6,317.1L1095.6,317.2L1083.1,311.8L1066.2,311.7z" fill="#23a0e5"/><path d="M1091.1,322.2L1108.0,322.4L1095.6,317.2L1078.6,317.1z" fill="#23a0e5"/><path d="M1103.5,327.1L1120.5,327.3L1108.0,322.4L1091.1,322.2z" fill="#23a0e5"/><path d="M1116.0,331.7L1132.9,331.9L1120.5,327.3L1103.5,327.1z" fill="#23a0e5"/><path d="M1128.5,336.1L1145.4,336.3L1132.9,331.9L1116.0,331.7z" fill="#259be8"/><path d="M1140.9,340.2L1157.9,340.4L1145.4,336.3L1128.5,336.1z" fill="#259be8"/><path d="M1153.4,344.1L1170.3,344.3L1157.9,340.4L1140.9,340.2z" fill="#259be8"/><path d="M1165.8,347.7L1182.8,347.9L1170.3,344.3L1153.4,344.1z" fill="#259be8"/><path d="M1178.3,351.0L1195.2,351.2L1182.8,347.9L1165.8,347.7z" fill="#23a0e5"/><path d="M1190.8,354.1L1207.7,354.4L1195.2,351.2L1178.3,351.0z" fill="#23a0e5"/><path d="M1203.2,357.0L1220.2,357.2L1207.7,354.4L1190.8,354.1z" fill="#23a0e5"/><path d="M1215.7,359.6L1232.6,359.8L1220.2,357.2L1203.2,357.0z" fill="#23a0e5"/><path d="M1228.1,361.9L1245.1,362.2L1232.6,359.8L1215.7,359.6z" fill="#20a5e3"/><path d="M1240.6,364.0L1257.5,364.3L1245.1,362.2L1228.1,361.9z" fill="#20a5e3"/><path d="M1253.1,365.8L1270.0,366.1L1257.5,364.3L1240.6,364.0z" fill="#1ca9df"/><path d="M1265.5,367.4L1282.5,367.7L1270.0,366.1L1253.1,365.8z" fill="#1ca9df"/><path d="M1278.0,368.7L1294.9,369.1L1282.5,367.7L1265.5,367.4z" fill="#18addb"/><path d="M1290.4,369.8L1307.4,370.2L1294.9,369.1L1278.0,368.7z" fill="#12b1d6"/><path d="M1302.9,370.6L1319.8,371.0L1307.4,370.2L1290.4,369.8z" fill="#08b5d0"/><path d="M1315.4,371.2L1332.3,371.6L1319.8,371.0L1302.9,370.6z" fill="#01b8ca"/><path d="M1327.8,371.5L1344.8,371.9L1332.3,371.6L1315.4,371.2z" fill="#01b8ca"/><path d="M1340.3,371.6L1357.2,372.0L1344.8,371.9L1327.8,371.5z" fill="#02bac3"/><path d="M1352.7,371.4L1369.7,371.8L1357.2,372.0L1340.3,371.6z" fill="#19bfb6"/><path d="M1365.2,371.0L1382.1,371.4L1369.7,371.8L1352.7,371.4z" fill="#24c1ae"/><path d="M737.7,95.6L754.7,95.2L742.2,83.2L725.3,83.7z" fill="#fad62d"/><path d="M750.2,107.3L767.1,106.9L754.7,95.2L737.7,95.6z" fill="#fec934"/><path d="M762.6,118.7L779.6,118.3L767.1,106.9L750.2,107.3z" fill="#febe3c"/><path d="M775.1,129.9L792.0,129.5L779.6,118.3L762.6,118.7z" fill="#f0ba36"/><path d="M787.6,140.8L804.5,140.4L792.0,129.5L775.1,129.9z" fill="#dcbd29"/><path d="M800.0,151.5L817.0,151.1L804.5,140.4L787.6,140.8z" fill="#c5c22a"/><path d="M812.5,161.9L829.4,161.6L817.0,151.1L800.0,151.5z" fill="#b9c431"/><path d="M824.9,172.1L841.9,171.7L829.4,161.6L812.5,161.9z" fill="#9dc943"/><path d="M837.4,182.0L854.3,181.7L841.9,171.7L824.9,172.1z" fill="#81cc59"/><path d="M849.9,191.7L866.8,191.3L854.3,181.7L837.4,182.0z" fill="#72cd64"/><path d="M862.3,201.1L879.3,200.8L866.8,191.3L849.9,191.7z" fill="#57cc7a"/><path d="M874.8,210.2L891.7,209.9L879.3,200.8L862.3,201.1z" fill="#4acb84"/><path d="M887.2,219.1L904.2,218.8L891.7,209.9L874.8,210.2z" fill="#37c897"/><path d="M899.7,227.8L916.6,227.5L904.2,218.8L887.2,219.1z" fill="#31c69f"/><path d="M912.2,236.2L929.1,235.9L916.6,227.5L899.7,227.8z" fill="#2cc4a7"/><path d="M924.6,244.3L941.6,244.1L929.1,235.9L912.2,236.2z" fill="#24c1ae"/><path d="M937.1,252.2L954.0,252.0L941.6,244.1L924.6,244.3z" fill="#19bfb6"/><path d="M949.5,259.8L966.5,259.6L954.0,252.0L937.1,252.2z" fill="#02bac3"/><path d="M962.0,267.2L978.9,267.0L966.5,259.6L949.5,259.8z" fill="#02bac3"/><path d="M974.5,274.4L991.4,274.2L978.9,267.0L962.0,267.2z" fill="#01b8ca"/><path d="M986.9,281.2L1003.9,281.1L991.4,274.2L974.5,274.4z" fill="#08b5d0"/><path d="M999.4,287.9L1016.3,287.7L1003.9,281.1L986.9,281.2z" fill="#12b1d6"/><path d="M1011.8,294.2L1028.8,294.1L1016.3,287.7L999.4,287.9z" fill="#18addb"/><path d="M1024.3,300.4L1041.2,300.2L1028.8,294.1L1011.8,294.2z" fill="#18addb"/><path d="M1036.8,306.2L1053.7,306.1L1041.2,300.2L1024.3,300.4z" fill="#1ca9df"/><path d="M1049.2,311.9L1066.2,311.7L1053.7,306.1L1036.8,306.2z" fill="#1ca9df"/><path d="M1061.7,317.2L1078.6,317.1L1066.2,311.7L1049.2,311.9z" fill="#20a5e3"/><path d="M1074.1,322.3L1091.1,322.2L1078.6,317.1L1061.7,317.2z" fill="#20a5e3"/><path d="M1086.6,327.2L1103.5,327.1L1091.1,322.2L1074.1,322.3z" fill="#20a5e3"/><path d="M1099.1,331.8L1116.0,331.7L1103.5,327.1L1086.6,327.2z" fill="#23a0e5"/><path d="M1111.5,336.1L1128.5,336.1L1116.0,331.7L1099.1,331.8z" fill="#23a0e5"/><path d="M1124.0,340.2L1140.9,340.2L1128.5,336.1L1111.5,336.1z" fill="#23a0e5"/><path d="M1136.4,344.1L1153.4,344.1L1140.9,340.2L1124.0,340.2z" fill="#23a0e5"/><path d="M1148.9,347.7L1165.8,347.7L1153.4,344.1L1136.4,344.1z" fill="#23a0e5"/><path d="M1161.4,351.0L1178.3,351.0L1165.8,347.7L1148.9,347.7z" fill="#23a0e5"/><path d="M1173.8,354.1L1190.8,354.1L1178.3,351.0L1161.4,351.0z" fill="#20a5e3"/><path d="M1186.3,356.9L1203.2,357.0L1190.8,354.1L1173.8,354.1z" fill="#20a5e3"/><path d="M1198.7,359.5L1215.7,359.6L1203.2,357.0L1186.3,356.9z" fill="#20a5e3"/><path d="M1211.2,361.8L1228.1,361.9L1215.7,359.6L1198.7,359.5z" fill="#1ca9df"/><path d="M1223.7,363.9L1240.6,364.0L1228.1,361.9L1211.2,361.8z" fill="#1ca9df"/><path d="M1236.1,365.7L1253.1,365.8L1240.6,364.0L1223.7,363.9z" fill="#18addb"/><path d="M1248.6,367.3L1265.5,367.4L1253.1,365.8L1236.1,365.7z" fill="#18addb"/><path d="M1261.0,368.6L1278.0,368.7L1265.5,367.4L1248.6,367.3z" fill="#12b1d6"/><path d="M1273.5,369.7L1290.4,369.8L1278.0,368.7L1261.0,368.6z" fill="#08b5d0"/><path d="M1286.0,370.5L1302.9,370.6L1290.4,369.8L1273.5,369.7z" fill="#08b5d0"/><path d="M1298.4,371.1L1315.4,371.2L1302.9,370.6L1286.0,370.5z" fill="#01b8ca"/><path d="M1310.9,371.4L1327.8,371.5L1315.4,371.2L1298.4,371.1z" fill="#02bac3"/><path d="M1323.3,371.4L1340.3,371.6L1327.8,371.5L1310.9,371.4z" fill="#0bbdbd"/><path d="M1335.8,371.2L1352.7,371.4L1340.3,371.6L1323.3,371.4z" fill="#19bfb6"/><path d="M1348.3,370.8L1365.2,371.0L1352.7,371.4L1335.8,371.2z" fill="#2cc4a7"/><path d="M720.8,96.2L737.7,95.6L725.3,83.7L708.3,84.3z" fill="#f7dc2a"/><path d="M733.2,107.9L750.2,107.3L737.7,95.6L720.8,96.2z" fill="#fccf30"/><path d="M745.7,119.3L762.6,118.7L750.2,107.3L733.2,107.9z" fill="#fec338"/><path d="M758.2,130.5L775.1,129.9L762.6,118.7L745.7,119.3z" fill="#f8ba3d"/><path d="M770.6,141.4L787.6,140.8L775.1,129.9L758.2,130.5z" fill="#e6bb2d"/><path d="M783.1,152.1L800.0,151.5L787.6,140.8L770.6,141.4z" fill="#d1bf27"/><path d="M795.5,162.5L812.5,161.9L800.0,151.5L783.1,152.1z" fill="#b9c431"/><path d="M808.0,172.6L824.9,172.1L812.5,161.9L795.5,162.5z" fill="#abc739"/><path d="M820.5,182.5L837.4,182.0L824.9,172.1L808.0,172.6z" fill="#8fcb4e"/><path d="M832.9,192.2L849.9,191.7L837.4,182.0L820.5,182.5z" fill="#72cd64"/><path d="M845.4,201.6L862.3,201.1L849.9,191.7L832.9,192.2z" fill="#64cd6f"/><path d="M857.8,210.7L874.8,210.2L862.3,201.1L845.4,201.6z" fill="#4acb84"/><path d="M870.3,219.6L887.2,219.1L874.8,210.2L857.8,210.7z" fill="#3fca8e"/><path d="M882.8,228.3L899.7,227.8L887.2,219.1L870.3,219.6z" fill="#37c897"/><path d="M895.2,236.6L912.2,236.2L899.7,227.8L882.8,228.3z" fill="#2cc4a7"/><path d="M907.7,244.8L924.6,244.3L912.2,236.2L895.2,236.6z" fill="#24c1ae"/><path d="M920.1,252.6L937.1,252.2L924.6,244.3L907.7,244.8z" fill="#19bfb6"/><path d="M932.6,260.3L949.5,259.8L937.1,252.2L920.1,252.6z" fill="#0bbdbd"/><path d="M945.1,267.6L962.0,267.2L949.5,259.8L932.6,260.3z" fill="#02bac3"/><path d="M957.5,274.8L974.5,274.4L962.0,267.2L945.1,267.6z" fill="#01b8ca"/><path d="M970.0,281.6L986.9,281.2L974.5,274.4L957.5,274.8z" fill="#01b8ca"/><path d="M982.4,288.2L999.4,287.9L986.9,281.2L970.0,281.6z" fill="#08b5d0"/><path d="M994.9,294.6L1011.8,294.2L999.4,287.9L982.4,288.2z" fill="#12b1d6"/><path d="M1007.4,300.7L1024.3,300.4L1011.8,294.2L994.9,294.6z" fill="#18addb"/><path d="M1019.8,306.6L1036.8,306.2L1024.3,300.4L1007.4,300.7z" fill="#18addb"/><path d="M1032.3,312.2L1049.2,311.9L1036.8,306.2L1019.8,306.6z" fill="#1ca9df"/><path d="M1044.7,317.5L1061.7,317.2L1049.2,311.9L1032.3,312.2z" fill="#1ca9df"/><path d="M1057.2,322.6L1074.1,322.3L1061.7,317.2L1044.7,317.5z" fill="#1ca9df"/><path d="M1069.7,327.5L1086.6,327.2L1074.1,322.3L1057.2,322.6z" fill="#20a5e3"/><path d="M1082.1,332.1L1099.1,331.8L1086.6,327.2L1069.7,327.5z" fill="#20a5e3"/><path d="M1094.6,336.4L1111.5,336.1L1099.1,331.8L1082.1,332.1z" fill="#20a5e3"/><path d="M1107.0,340.5L1124.0,340.2L1111.5,336.1L1094.6,336.4z" fill="#20a5e3"/><path d="M1119.5,344.3L1136.4,344.1L1124.0,340.2L1107.0,340.5z" fill="#20a5e3"/><path d="M1132.0,347.9L1148.9,347.7L1136.4,344.1L1119.5,344.3z" fill="#20a5e3"/><path d="M1144.4,351.2L1161.4,351.0L1148.9,347.7L1132.0,347.9z" fill="#20a5e3"/><path d="M1156.9,354.3L1173.8,354.1L1161.4,351.0L1144.4,351.2z" fill="#20a5e3"/><path d="M1169.3,357.1L1186.3,356.9L1173.8,354.1L1156.9,354.3z" fill="#1ca9df"/><path d="M1181.8,359.7L1198.7,359.5L1186.3,356.9L1169.3,357.1z" fill="#1ca9df"/><path d="M1194.3,362.0L1211.2,361.8L1198.7,359.5L1181.8,359.7z" fill="#1ca9df"/><path d="M1206.7,364.1L1223.7,363.9L1211.2,361.8L1194.3,362.0z" fill="#18addb"/><path d="M1219.2,365.9L1236.1,365.7L1223.7,363.9L1206.7,364.1z" fill="#18addb"/><path d="M1231.6,367.4L1248.6,367.3L1236.1,365.7L1219.2,365.9z" fill="#12b1d6"/><path d="M1244.1,368.7L1261.0,368.6L1248.6,367.3L1231.6,367.4z" fill="#08b5d0"/><path d="M1256.6,369.8L1273.5,369.7L1261.0,368.6L1244.1,368.7z" fill="#08b5d0"/><path d="M1269.0,370.6L1286.0,370.5L1273.5,369.7L1256.6,369.8z" fill="#01b8ca"/><path d="M1281.5,371.1L1298.4,371.1L1286.0,370.5L1269.0,370.6z" fill="#02bac3"/><path d="M1293.9,371.4L1310.9,371.4L1298.4,371.1L1281.5,371.1z" fill="#0bbdbd"/><path d="M1306.4,371.5L1323.3,371.4L1310.9,371.4L1293.9,371.4z" fill="#19bfb6"/><path d="M1318.9,371.2L1335.8,371.2L1323.3,371.4L1306.4,371.5z" fill="#24c1ae"/><path d="M1331.3,370.8L1348.3,370.8L1335.8,371.2L1318.9,371.2z" fill="#2cc4a7"/><path d="M703.9,97.1L720.8,96.2L708.3,84.3L691.4,85.2z" fill="#f5e327"/><path d="M716.3,108.8L733.2,107.9L720.8,96.2L703.9,97.1z" fill="#fad62d"/><path d="M728.8,120.2L745.7,119.3L733.2,107.9L716.3,108.8z" fill="#fec338"/><path d="M741.2,131.3L758.2,130.5L745.7,119.3L728.8,120.2z" fill="#f8ba3d"/><path d="M753.7,142.2L770.6,141.4L758.2,130.5L741.2,131.3z" fill="#f0ba36"/><path d="M766.2,152.9L783.1,152.1L770.6,141.4L753.7,142.2z" fill="#dcbd29"/><path d="M778.6,163.3L795.5,162.5L783.1,152.1L766.2,152.9z" fill="#c5c22a"/><path d="M791.1,173.4L808.0,172.6L795.5,162.5L778.6,163.3z" fill="#abc739"/><path d="M803.5,183.3L820.5,182.5L808.0,172.6L791.1,173.4z" fill="#9dc943"/><path d="M816.0,192.9L832.9,192.2L820.5,182.5L803.5,183.3z" fill="#81cc59"/><path d="M828.5,202.3L845.4,201.6L832.9,192.2L816.0,192.9z" fill="#64cd6f"/><path d="M840.9,211.4L857.8,210.7L845.4,201.6L828.5,202.3z" fill="#57cc7a"/><path d="M853.4,220.3L870.3,219.6L857.8,210.7L840.9,211.4z" fill="#4acb84"/><path d="M865.8,228.9L882.8,228.3L870.3,219.6L853.4,220.3z" fill="#37c897"/><path d="M878.3,237.3L895.2,236.6L882.8,228.3L865.8,228.9z" fill="#31c69f"/><path d="M890.8,245.4L907.7,244.8L895.2,236.6L878.3,237.3z" fill="#2cc4a7"/><path d="M903.2,253.3L920.1,252.6L907.7,244.8L890.8,245.4z" fill="#24c1ae"/><path d="M915.7,260.9L932.6,260.3L920.1,252.6L903.2,253.3z" fill="#19bfb6"/><path d="M928.1,268.3L945.1,267.6L932.6,260.3L915.7,260.9z" fill="#0bbdbd"/><path d="M940.6,275.4L957.5,274.8L945.1,267.6L928.1,268.3z" fill="#02bac3"/><path d="M953.1,282.2L970.0,281.6L957.5,274.8L940.6,275.4z" fill="#01b8ca"/><path d="M965.5,288.8L982.4,288.2L970.0,281.6L953.1,282.2z" fill="#08b5d0"/><path d="M978.0,295.2L994.9,294.6L982.4,288.2L965.5,288.8z" fill="#08b5d0"/><path d="M990.4,301.3L1007.4,300.7L994.9,294.6L978.0,295.2z" fill="#12b1d6"/><path d="M1002.9,307.1L1019.8,306.6L1007.4,300.7L990.4,301.3z" fill="#12b1d6"/><path d="M1015.4,312.7L1032.3,312.2L1019.8,306.6L1002.9,307.1z" fill="#18addb"/><path d="M1027.8,318.0L1044.7,317.5L1032.3,312.2L1015.4,312.7z" fill="#18addb"/><path d="M1040.3,323.1L1057.2,322.6L1044.7,317.5L1027.8,318.0z" fill="#1ca9df"/><path d="M1052.7,328.0L1069.7,327.5L1057.2,322.6L1040.3,323.1z" fill="#1ca9df"/><path d="M1065.2,332.5L1082.1,332.1L1069.7,327.5L1052.7,328.0z" fill="#1ca9df"/><path d="M1077.7,336.9L1094.6,336.4L1082.1,332.1L1065.2,332.5z" fill="#1ca9df"/><path d="M1090.1,340.9L1107.0,340.5L1094.6,336.4L1077.7,336.9z" fill="#1ca9df"/><path d="M1102.6,344.8L1119.5,344.3L1107.0,340.5L1090.1,340.9z" fill="#1ca9df"/><path d="M1115.0,348.3L1132.0,347.9L1119.5,344.3L1102.6,344.8z" fill="#1ca9df"/><path d="M1127.5,351.6L1144.4,351.2L1132.0,347.9L1115.0,348.3z" fill="#1ca9df"/><path d="M1140.0,354.7L1156.9,354.3L1144.4,351.2L1127.5,351.6z" fill="#1ca9df"/><path d="M1152.4,357.5L1169.3,357.1L1156.9,354.3L1140.0,354.7z" fill="#1ca9df"/><path d="M1164.9,360.1L1181.8,359.7L1169.3,357.1L1152.4,357.5z" fill="#18addb"/><path d="M1177.3,362.4L1194.3,362.0L1181.8,359.7L1164.9,360.1z" fill="#18addb"/><path d="M1189.8,364.4L1206.7,364.1L1194.3,362.0L1177.3,362.4z" fill="#12b1d6"/><path d="M1202.3,366.2L1219.2,365.9L1206.7,364.1L1189.8,364.4z" fill="#12b1d6"/><path d="M1214.7,367.8L1231.6,367.4L1219.2,365.9L1202.3,366.2z" fill="#08b5d0"/><path d="M1227.2,369.0L1244.1,368.7L1231.6,367.4L1214.7,367.8z" fill="#08b5d0"/><path d="M1239.6,370.1L1256.6,369.8L1244.1,368.7L1227.2,369.0z" fill="#01b8ca"/><path d="M1252.1,370.9L1269.0,370.6L1256.6,369.8L1239.6,370.1z" fill="#02bac3"/><path d="M1264.6,371.4L1281.5,371.1L1269.0,370.6L1252.1,370.9z" fill="#0bbdbd"/><path d="M1277.0,371.7L1293.9,371.4L1281.5,371.1L1264.6,371.4z" fill="#19bfb6"/><path d="M1289.5,371.7L1306.4,371.5L1293.9,371.4L1277.0,371.7z" fill="#24c1ae"/><path d="M1301.9,371.5L1318.9,371.2L1306.4,371.5L1289.5,371.7z" fill="#2cc4a7"/><path d="M1314.4,371.0L1331.3,370.8L1318.9,371.2L1301.9,371.5z" fill="#31c69f"/><path d="M686.9,98.2L703.9,97.1L691.4,85.2L674.5,86.3z" fill="#f5e327"/><path d="M699.4,109.8L716.3,108.8L703.9,97.1L686.9,98.2z" fill="#fad62d"/><path d="M711.8,121.2L728.8,120.2L716.3,108.8L699.4,109.8z" fill="#fec934"/><path d="M724.3,132.4L741.2,131.3L728.8,120.2L711.8,121.2z" fill="#febe3c"/><path d="M736.8,143.3L753.7,142.2L741.2,131.3L724.3,132.4z" fill="#f0ba36"/><path d="M749.2,153.9L766.2,152.9L753.7,142.2L736.8,143.3z" fill="#dcbd29"/><path d="M761.7,164.3L778.6,163.3L766.2,152.9L749.2,153.9z" fill="#c5c22a"/><path d="M774.1,174.4L791.1,173.4L778.6,163.3L761.7,164.3z" fill="#b9c431"/><path d="M786.6,184.3L803.5,183.3L791.1,173.4L774.1,174.4z" fill="#9dc943"/><path d="M799.1,193.9L816.0,192.9L803.5,183.3L786.6,184.3z" fill="#8fcb4e"/><path d="M811.5,203.3L828.5,202.3L816.0,192.9L799.1,193.9z" fill="#72cd64"/><path d="M824.0,212.4L840.9,211.4L828.5,202.3L811.5,203.3z" fill="#64cd6f"/><path d="M836.4,221.2L853.4,220.3L840.9,211.4L824.0,212.4z" fill="#4acb84"/><path d="M848.9,229.9L865.8,228.9L853.4,220.3L836.4,221.2z" fill="#3fca8e"/><path d="M861.4,238.2L878.3,237.3L865.8,228.9L848.9,229.9z" fill="#37c897"/><path d="M873.8,246.3L890.8,245.4L878.3,237.3L861.4,238.2z" fill="#31c69f"/><path d="M886.3,254.2L903.2,253.3L890.8,245.4L873.8,246.3z" fill="#24c1ae"/><path d="M898.7,261.8L915.7,260.9L903.2,253.3L886.3,254.2z" fill="#19bfb6"/><path d="M911.2,269.1L928.1,268.3L915.7,260.9L898.7,261.8z" fill="#0bbdbd"/><path d="M923.7,276.2L940.6,275.4L928.1,268.3L911.2,269.1z" fill="#0bbdbd"/><path d="M936.1,283.1L953.1,282.2L940.6,275.4L923.7,276.2z" fill="#02bac3"/><path d="M948.6,289.6L965.5,288.8L953.1,282.2L936.1,283.1z" fill="#01b8ca"/><path d="M961.0,296.0L978.0,295.2L965.5,288.8L948.6,289.6z" fill="#08b5d0"/><path d="M973.5,302.1L990.4,301.3L978.0,295.2L961.0,296.0z" fill="#08b5d0"/><path d="M986.0,307.9L1002.9,307.1L990.4,301.3L973.5,302.1z" fill="#12b1d6"/><path d="M998.4,313.5L1015.4,312.7L1002.9,307.1L986.0,307.9z" fill="#12b1d6"/><path d="M1010.9,318.8L1027.8,318.0L1015.4,312.7L998.4,313.5z" fill="#18addb"/><path d="M1023.3,323.9L1040.3,323.1L1027.8,318.0L1010.9,318.8z" fill="#18addb"/><path d="M1035.8,328.7L1052.7,328.0L1040.3,323.1L1023.3,323.9z" fill="#18addb"/><path d="M1048.3,333.2L1065.2,332.5L1052.7,328.0L1035.8,328.7z" fill="#18addb"/><path d="M1060.7,337.6L1077.7,336.9L1065.2,332.5L1048.3,333.2z" fill="#1ca9df"/><path d="M1073.2,341.6L1090.1,340.9L1077.7,336.9L1060.7,337.6z" fill="#1ca9df"/><path d="M1085.6,345.4L1102.6,344.8L1090.1,340.9L1073.2,341.6z" fill="#1ca9df"/><path d="M1098.1,349.0L1115.0,348.3L1102.6,344.8L1085.6,345.4z" fill="#1ca9df"/><path d="M1110.6,352.3L1127.5,351.6L1115.0,348.3L1098.1,349.0z" fill="#18addb"/><path d="M1123.0,355.3L1140.0,354.7L1127.5,351.6L1110.6,352.3z" fill="#18addb"/><path d="M1135.5,358.1L1152.4,357.5L1140.0,354.7L1123.0,355.3z" fill="#18addb"/><path d="M1147.9,360.7L1164.9,360.1L1152.4,357.5L1135.5,358.1z" fill="#18addb"/><path d="M1160.4,363.0L1177.3,362.4L1164.9,360.1L1147.9,360.7z" fill="#12b1d6"/><path d="M1172.9,365.0L1189.8,364.4L1177.3,362.4L1160.4,363.0z" fill="#12b1d6"/><path d="M1185.3,366.8L1202.3,366.2L1189.8,364.4L1172.9,365.0z" fill="#08b5d0"/><path d="M1197.8,368.3L1214.7,367.8L1202.3,366.2L1185.3,366.8z" fill="#08b5d0"/><path d="M1210.2,369.6L1227.2,369.0L1214.7,367.8L1197.8,368.3z" fill="#01b8ca"/><path d="M1222.7,370.6L1239.6,370.1L1227.2,369.0L1210.2,369.6z" fill="#02bac3"/><path d="M1235.2,371.4L1252.1,370.9L1239.6,370.1L1222.7,370.6z" fill="#0bbdbd"/><path d="M1247.6,371.9L1264.6,371.4L1252.1,370.9L1235.2,371.4z" fill="#19bfb6"/><path d="M1260.1,372.2L1277.0,371.7L1264.6,371.4L1247.6,371.9z" fill="#24c1ae"/><path d="M1272.5,372.2L1289.5,371.7L1277.0,371.7L1260.1,372.2z" fill="#2cc4a7"/><path d="M1285.0,371.9L1301.9,371.5L1289.5,371.7L1272.5,372.2z" fill="#31c69f"/><path d="M1297.5,371.4L1314.4,371.0L1301.9,371.5L1285.0,371.9z" fill="#37c897"/><path d="M670.0,99.5L686.9,98.2L674.5,86.3L657.5,87.6z" fill="#f5e924"/><path d="M682.4,111.1L699.4,109.8L686.9,98.2L670.0,99.5z" fill="#f7dc2a"/><path d="M694.9,122.5L711.8,121.2L699.4,109.8L682.4,111.1z" fill="#fec934"/><path d="M707.4,133.6L724.3,132.4L711.8,121.2L694.9,122.5z" fill="#febe3c"/><path d="M719.8,144.5L736.8,143.3L724.3,132.4L707.4,133.6z" fill="#f8ba3d"/><path d="M732.3,155.1L749.2,153.9L736.8,143.3L719.8,144.5z" fill="#e6bb2d"/><path d="M744.7,165.5L761.7,164.3L749.2,153.9L732.3,155.1z" fill="#d1bf27"/><path d="M757.2,175.6L774.1,174.4L761.7,164.3L744.7,165.5z" fill="#b9c431"/><path d="M769.7,185.5L786.6,184.3L774.1,174.4L757.2,175.6z" fill="#abc739"/><path d="M782.1,195.1L799.1,193.9L786.6,184.3L769.7,185.5z" fill="#8fcb4e"/><path d="M794.6,204.4L811.5,203.3L799.1,193.9L782.1,195.1z" fill="#81cc59"/><path d="M807.0,213.5L824.0,212.4L811.5,203.3L794.6,204.4z" fill="#64cd6f"/><path d="M819.5,222.4L836.4,221.2L824.0,212.4L807.0,213.5z" fill="#57cc7a"/><path d="M832.0,231.0L848.9,229.9L836.4,221.2L819.5,222.4z" fill="#3fca8e"/><path d="M844.4,239.3L861.4,238.2L848.9,229.9L832.0,231.0z" fill="#37c897"/><path d="M856.9,247.4L873.8,246.3L861.4,238.2L844.4,239.3z" fill="#31c69f"/><path d="M869.3,255.3L886.3,254.2L873.8,246.3L856.9,247.4z" fill="#2cc4a7"/><path d="M881.8,262.8L898.7,261.8L886.3,254.2L869.3,255.3z" fill="#24c1ae"/><path d="M894.3,270.2L911.2,269.1L898.7,261.8L881.8,262.8z" fill="#19bfb6"/><path d="M906.7,277.3L923.7,276.2L911.2,269.1L894.3,270.2z" fill="#0bbdbd"/><path d="M919.2,284.1L936.1,283.1L923.7,276.2L906.7,277.3z" fill="#02bac3"/><path d="M931.6,290.7L948.6,289.6L936.1,283.1L919.2,284.1z" fill="#02bac3"/><path d="M944.1,297.0L961.0,296.0L948.6,289.6L931.6,290.7z" fill="#01b8ca"/><path d="M956.6,303.1L973.5,302.1L961.0,296.0L944.1,297.0z" fill="#08b5d0"/><path d="M969.0,308.9L986.0,307.9L973.5,302.1L956.6,303.1z" fill="#08b5d0"/><path d="M981.5,314.4L998.4,313.5L986.0,307.9L969.0,308.9z" fill="#12b1d6"/><path d="M993.9,319.7L1010.9,318.8L998.4,313.5L981.5,314.4z" fill="#12b1d6"/><path d="M1006.4,324.8L1023.3,323.9L1010.9,318.8L993.9,319.7z" fill="#12b1d6"/><path d="M1018.9,329.6L1035.8,328.7L1023.3,323.9L1006.4,324.8z" fill="#18addb"/><path d="M1031.3,334.2L1048.3,333.2L1035.8,328.7L1018.9,329.6z" fill="#18addb"/><path d="M1043.8,338.5L1060.7,337.6L1048.3,333.2L1031.3,334.2z" fill="#18addb"/><path d="M1056.2,342.5L1073.2,341.6L1060.7,337.6L1043.8,338.5z" fill="#18addb"/><path d="M1068.7,346.3L1085.6,345.4L1073.2,341.6L1056.2,342.5z" fill="#18addb"/><path d="M1081.2,349.8L1098.1,349.0L1085.6,345.4L1068.7,346.3z" fill="#18addb"/><path d="M1093.6,353.1L1110.6,352.3L1098.1,349.0L1081.2,349.8z" fill="#18addb"/><path d="M1106.1,356.2L1123.0,355.3L1110.6,352.3L1093.6,353.1z" fill="#18addb"/><path d="M1118.5,358.9L1135.5,358.1L1123.0,355.3L1106.1,356.2z" fill="#12b1d6"/><path d="M1131.0,361.5L1147.9,360.7L1135.5,358.1L1118.5,358.9z" fill="#12b1d6"/><path d="M1143.5,363.8L1160.4,363.0L1147.9,360.7L1131.0,361.5z" fill="#12b1d6"/><path d="M1155.9,365.8L1172.9,365.0L1160.4,363.0L1143.5,363.8z" fill="#08b5d0"/><path d="M1168.4,367.5L1185.3,366.8L1172.9,365.0L1155.9,365.8z" fill="#08b5d0"/><path d="M1180.8,369.1L1197.8,368.3L1185.3,366.8L1168.4,367.5z" fill="#01b8ca"/><path d="M1193.3,370.3L1210.2,369.6L1197.8,368.3L1180.8,369.1z" fill="#02bac3"/><path d="M1205.8,371.3L1222.7,370.6L1210.2,369.6L1193.3,370.3z" fill="#0bbdbd"/><path d="M1218.2,372.1L1235.2,371.4L1222.7,370.6L1205.8,371.3z" fill="#0bbdbd"/><path d="M1230.7,372.6L1247.6,371.9L1235.2,371.4L1218.2,372.1z" fill="#19bfb6"/><path d="M1243.1,372.9L1260.1,372.2L1247.6,371.9L1230.7,372.6z" fill="#24c1ae"/><path d="M1255.6,372.9L1272.5,372.2L1260.1,372.2L1243.1,372.9z" fill="#2cc4a7"/><path d="M1268.1,372.6L1285.0,371.9L1272.5,372.2L1255.6,372.9z" fill="#31c69f"/><path d="M1280.5,372.1L1297.5,371.4L1285.0,371.9L1268.1,372.6z" fill="#3fca8e"/><path d="M653.0,101.0L670.0,99.5L657.5,87.6L640.6,89.1z" fill="#f5e924"/><path d="M665.5,112.6L682.4,111.1L670.0,99.5L653.0,101.0z" fill="#f7dc2a"/><path d="M678.0,124.0L694.9,122.5L682.4,111.1L665.5,112.6z" fill="#fccf30"/><path d="M690.4,135.1L707.4,133.6L694.9,122.5L678.0,124.0z" fill="#fec338"/><path d="M702.9,146.0L719.8,144.5L707.4,133.6L690.4,135.1z" fill="#f8ba3d"/><path d="M715.3,156.6L732.3,155.1L719.8,144.5L702.9,146.0z" fill="#e6bb2d"/><path d="M727.8,166.9L744.7,165.5L732.3,155.1L715.3,156.6z" fill="#d1bf27"/><path d="M740.3,177.0L757.2,175.6L744.7,165.5L727.8,166.9z" fill="#c5c22a"/><path d="M752.7,186.9L769.7,185.5L757.2,175.6L740.3,177.0z" fill="#abc739"/><path d="M765.2,196.5L782.1,195.1L769.7,185.5L752.7,186.9z" fill="#8fcb4e"/><path d="M777.6,205.8L794.6,204.4L782.1,195.1L765.2,196.5z" fill="#81cc59"/><path d="M790.1,214.9L807.0,213.5L794.6,204.4L777.6,205.8z" fill="#72cd64"/><path d="M802.6,223.7L819.5,222.4L807.0,213.5L790.1,214.9z" fill="#57cc7a"/><path d="M815.0,232.3L832.0,231.0L819.5,222.4L802.6,223.7z" fill="#4acb84"/><path d="M827.5,240.7L844.4,239.3L832.0,231.0L815.0,232.3z" fill="#3fca8e"/><path d="M839.9,248.7L856.9,247.4L844.4,239.3L827.5,240.7z" fill="#37c897"/><path d="M852.4,256.6L869.3,255.3L856.9,247.4L839.9,248.7z" fill="#2cc4a7"/><path d="M864.9,264.1L881.8,262.8L869.3,255.3L852.4,256.6z" fill="#24c1ae"/><path d="M877.3,271.5L894.3,270.2L881.8,262.8L864.9,264.1z" fill="#24c1ae"/><path d="M889.8,278.5L906.7,277.3L894.3,270.2L877.3,271.5z" fill="#19bfb6"/><path d="M902.2,285.3L919.2,284.1L906.7,277.3L889.8,278.5z" fill="#0bbdbd"/><path d="M914.7,291.9L931.6,290.7L919.2,284.1L902.2,285.3z" fill="#02bac3"/><path d="M927.2,298.2L944.1,297.0L931.6,290.7L914.7,291.9z" fill="#01b8ca"/><path d="M939.6,304.3L956.6,303.1L944.1,297.0L927.2,298.2z" fill="#01b8ca"/><path d="M952.1,310.1L969.0,308.9L956.6,303.1L939.6,304.3z" fill="#08b5d0"/><path d="M964.5,315.6L981.5,314.4L969.0,308.9L952.1,310.1z" fill="#08b5d0"/><path d="M977.0,320.9L993.9,319.7L981.5,314.4L964.5,315.6z" fill="#12b1d6"/><path d="M989.5,326.0L1006.4,324.8L993.9,319.7L977.0,320.9z" fill="#12b1d6"/><path d="M1001.9,330.8L1018.9,329.6L1006.4,324.8L989.5,326.0z" fill="#12b1d6"/><path d="M1014.4,335.3L1031.3,334.2L1018.9,329.6L1001.9,330.8z" fill="#12b1d6"/><path d="M1026.8,339.6L1043.8,338.5L1031.3,334.2L1014.4,335.3z" fill="#18addb"/><path d="M1039.3,343.6L1056.2,342.5L1043.8,338.5L1026.8,339.6z" fill="#18addb"/><path d="M1051.8,347.4L1068.7,346.3L1056.2,342.5L1039.3,343.6z" fill="#18addb"/><path d="M1064.2,350.9L1081.2,349.8L1068.7,346.3L1051.8,347.4z" fill="#12b1d6"/><path d="M1076.7,354.2L1093.6,353.1L1081.2,349.8L1064.2,350.9z" fill="#12b1d6"/><path d="M1089.1,357.2L1106.1,356.2L1093.6,353.1L1076.7,354.2z" fill="#12b1d6"/><path d="M1101.6,360.0L1118.5,358.9L1106.1,356.2L1089.1,357.2z" fill="#12b1d6"/><path d="M1114.1,362.5L1131.0,361.5L1118.5,358.9L1101.6,360.0z" fill="#08b5d0"/><path d="M1126.5,364.8L1143.5,363.8L1131.0,361.5L1114.1,362.5z" fill="#08b5d0"/><path d="M1139.0,366.8L1155.9,365.8L1143.5,363.8L1126.5,364.8z" fill="#08b5d0"/><path d="M1151.4,368.5L1168.4,367.5L1155.9,365.8L1139.0,366.8z" fill="#01b8ca"/><path d="M1163.9,370.0L1180.8,369.1L1168.4,367.5L1151.4,368.5z" fill="#02bac3"/><path d="M1176.4,371.3L1193.3,370.3L1180.8,369.1L1163.9,370.0z" fill="#02bac3"/><path d="M1188.8,372.3L1205.8,371.3L1193.3,370.3L1176.4,371.3z" fill="#0bbdbd"/><path d="M1201.3,373.0L1218.2,372.1L1205.8,371.3L1188.8,372.3z" fill="#19bfb6"/><path d="M1213.7,373.5L1230.7,372.6L1218.2,372.1L1201.3,373.0z" fill="#24c1ae"/><path d="M1226.2,373.8L1243.1,372.9L1230.7,372.6L1213.7,373.5z" fill="#2cc4a7"/><path d="M1238.7,373.8L1255.6,372.9L1243.1,372.9L1226.2,373.8z" fill="#31c69f"/><path d="M1251.1,373.5L1268.1,372.6L1255.6,372.9L1238.7,373.8z" fill="#37c897"/><path d="M1263.6,373.0L1280.5,372.1L1268.1,372.6L1251.1,373.5z" fill="#3fca8e"/><path d="M636.1,102.7L653.0,101.0L640.6,89.1L623.7,90.9z" fill="#f5e924"/><path d="M648.6,114.3L665.5,112.6L653.0,101.0L636.1,102.7z" fill="#f7dc2a"/><path d="M661.0,125.7L678.0,124.0L665.5,112.6L648.6,114.3z" fill="#fccf30"/><path d="M673.5,136.8L690.4,135.1L678.0,124.0L661.0,125.7z" fill="#fec338"/><path d="M686.0,147.6L702.9,146.0L690.4,135.1L673.5,136.8z" fill="#f8ba3d"/><path d="M698.4,158.2L715.3,156.6L702.9,146.0L686.0,147.6z" fill="#f0ba36"/><path d="M710.9,168.6L727.8,166.9L715.3,156.6L698.4,158.2z" fill="#dcbd29"/><path d="M723.3,178.7L740.3,177.0L727.8,166.9L710.9,168.6z" fill="#c5c22a"/><path d="M735.8,188.5L752.7,186.9L740.3,177.0L723.3,178.7z" fill="#abc739"/><path d="M748.2,198.1L765.2,196.5L752.7,186.9L735.8,188.5z" fill="#9dc943"/><path d="M760.7,207.4L777.6,205.8L765.2,196.5L748.2,198.1z" fill="#81cc59"/><path d="M773.2,216.5L790.1,214.9L777.6,205.8L760.7,207.4z" fill="#72cd64"/><path d="M785.6,225.3L802.6,223.7L790.1,214.9L773.2,216.5z" fill="#64cd6f"/><path d="M798.1,233.9L815.0,232.3L802.6,223.7L785.6,225.3z" fill="#4acb84"/><path d="M810.6,242.2L827.5,240.7L815.0,232.3L798.1,233.9z" fill="#3fca8e"/><path d="M823.0,250.3L839.9,248.7L827.5,240.7L810.6,242.2z" fill="#37c897"/><path d="M835.5,258.1L852.4,256.6L839.9,248.7L823.0,250.3z" fill="#31c69f"/><path d="M847.9,265.6L864.9,264.1L852.4,256.6L835.5,258.1z" fill="#2cc4a7"/><path d="M860.4,272.9L877.3,271.5L864.9,264.1L847.9,265.6z" fill="#24c1ae"/><path d="M872.9,280.0L889.8,278.5L877.3,271.5L860.4,272.9z" fill="#19bfb6"/><path d="M885.3,286.8L902.2,285.3L889.8,278.5L872.9,280.0z" fill="#0bbdbd"/><path d="M897.8,293.3L914.7,291.9L902.2,285.3L885.3,286.8z" fill="#0bbdbd"/><path d="M910.2,299.6L927.2,298.2L914.7,291.9L897.8,293.3z" fill="#02bac3"/><path d="M922.7,305.7L939.6,304.3L927.2,298.2L910.2,299.6z" fill="#01b8ca"/><path d="M935.2,311.5L952.1,310.1L939.6,304.3L922.7,305.7z" fill="#01b8ca"/><path d="M947.6,317.0L964.5,315.6L952.1,310.1L935.2,311.5z" fill="#08b5d0"/><path d="M960.1,322.3L977.0,320.9L964.5,315.6L947.6,317.0z" fill="#08b5d0"/><path d="M972.5,327.3L989.5,326.0L977.0,320.9L960.1,322.3z" fill="#08b5d0"/><path d="M985.0,332.1L1001.9,330.8L989.5,326.0L972.5,327.3z" fill="#12b1d6"/><path d="M997.5,336.6L1014.4,335.3L1001.9,330.8L985.0,332.1z" fill="#12b1d6"/><path d="M1009.9,340.9L1026.8,339.6L1014.4,335.3L997.5,336.6z" fill="#12b1d6"/><path d="M1022.4,344.9L1039.3,343.6L1026.8,339.6L1009.9,340.9z" fill="#12b1d6"/><path d="M1034.8,348.7L1051.8,347.4L1039.3,343.6L1022.4,344.9z" fill="#12b1d6"/><path d="M1047.3,352.2L1064.2,350.9L1051.8,347.4L1034.8,348.7z" fill="#12b1d6"/><path d="M1059.8,355.5L1076.7,354.2L1064.2,350.9L1047.3,352.2z" fill="#12b1d6"/><path d="M1072.2,358.5L1089.1,357.2L1076.7,354.2L1059.8,355.5z" fill="#12b1d6"/><path d="M1084.7,361.2L1101.6,360.0L1089.1,357.2L1072.2,358.5z" fill="#08b5d0"/><path d="M1097.1,363.7L1114.1,362.5L1101.6,360.0L1084.7,361.2z" fill="#08b5d0"/><path d="M1109.6,366.0L1126.5,364.8L1114.1,362.5L1097.1,363.7z" fill="#08b5d0"/><path d="M1122.1,368.0L1139.0,366.8L1126.5,364.8L1109.6,366.0z" fill="#01b8ca"/><path d="M1134.5,369.7L1151.4,368.5L1139.0,366.8L1122.1,368.0z" fill="#02bac3"/><path d="M1147.0,371.2L1163.9,370.0L1151.4,368.5L1134.5,369.7z" fill="#02bac3"/><path d="M1159.4,372.5L1176.4,371.3L1163.9,370.0L1147.0,371.2z" fill="#0bbdbd"/><path d="M1171.9,373.5L1188.8,372.3L1176.4,371.3L1159.4,372.5z" fill="#19bfb6"/><path d="M1184.4,374.2L1201.3,373.0L1188.8,372.3L1171.9,373.5z" fill="#19bfb6"/><path d="M1196.8,374.7L1213.7,373.5L1201.3,373.0L1184.4,374.2z" fill="#24c1ae"/><path d="M1209.3,374.9L1226.2,373.8L1213.7,373.5L1196.8,374.7z" fill="#2cc4a7"/><path d="M1221.7,374.9L1238.7,373.8L1226.2,373.8L1209.3,374.9z" fill="#31c69f"/><path d="M1234.2,374.6L1251.1,373.5L1238.7,373.8L1221.7,374.9z" fill="#3fca8e"/><path d="M1246.7,374.1L1263.6,373.0L1251.1,373.5L1234.2,374.6z" fill="#4acb84"/><path d="M619.2,104.7L636.1,102.7L623.7,90.9L606.7,92.8z" fill="#f6ef20"/><path d="M631.6,116.3L648.6,114.3L636.1,102.7L619.2,104.7z" fill="#f5e327"/><path d="M644.1,127.6L661.0,125.7L648.6,114.3L631.6,116.3z" fill="#fad62d"/><path d="M656.6,138.7L673.5,136.8L661.0,125.7L644.1,127.6z" fill="#fec934"/><path d="M669.0,149.5L686.0,147.6L673.5,136.8L656.6,138.7z" fill="#febe3c"/><path d="M681.5,160.1L698.4,158.2L686.0,147.6L669.0,149.5z" fill="#f0ba36"/><path d="M693.9,170.4L710.9,168.6L698.4,158.2L681.5,160.1z" fill="#dcbd29"/><path d="M706.4,180.5L723.3,178.7L710.9,168.6L693.9,170.4z" fill="#c5c22a"/><path d="M718.9,190.3L735.8,188.5L723.3,178.7L706.4,180.5z" fill="#b9c431"/><path d="M731.3,199.9L748.2,198.1L735.8,188.5L718.9,190.3z" fill="#9dc943"/><path d="M743.8,209.2L760.7,207.4L748.2,198.1L731.3,199.9z" fill="#8fcb4e"/><path d="M756.2,218.3L773.2,216.5L760.7,207.4L743.8,209.2z" fill="#72cd64"/><path d="M768.7,227.1L785.6,225.3L773.2,216.5L756.2,218.3z" fill="#64cd6f"/><path d="M781.2,235.6L798.1,233.9L785.6,225.3L768.7,227.1z" fill="#57cc7a"/><path d="M793.6,244.0L810.6,242.2L798.1,233.9L781.2,235.6z" fill="#3fca8e"/><path d="M806.1,252.0L823.0,250.3L810.6,242.2L793.6,244.0z" fill="#37c897"/><path d="M818.5,259.8L835.5,258.1L823.0,250.3L806.1,252.0z" fill="#31c69f"/><path d="M831.0,267.4L847.9,265.6L835.5,258.1L818.5,259.8z" fill="#2cc4a7"/><path d="M843.5,274.6L860.4,272.9L847.9,265.6L831.0,267.4z" fill="#24c1ae"/><path d="M855.9,281.7L872.9,280.0L860.4,272.9L843.5,274.6z" fill="#19bfb6"/><path d="M868.4,288.5L885.3,286.8L872.9,280.0L855.9,281.7z" fill="#19bfb6"/><path d="M880.8,295.0L897.8,293.3L885.3,286.8L868.4,288.5z" fill="#0bbdbd"/><path d="M893.3,301.3L910.2,299.6L897.8,293.3L880.8,295.0z" fill="#02bac3"/><path d="M905.8,307.3L922.7,305.7L910.2,299.6L893.3,301.3z" fill="#02bac3"/><path d="M918.2,313.1L935.2,311.5L922.7,305.7L905.8,307.3z" fill="#01b8ca"/><path d="M930.7,318.6L947.6,317.0L935.2,311.5L918.2,313.1z" fill="#01b8ca"/><path d="M943.1,323.9L960.1,322.3L947.6,317.0L930.7,318.6z" fill="#08b5d0"/><path d="M955.6,328.9L972.5,327.3L960.1,322.3L943.1,323.9z" fill="#08b5d0"/><path d="M968.1,333.7L985.0,332.1L972.5,327.3L955.6,328.9z" fill="#08b5d0"/><path d="M980.5,338.2L997.5,336.6L985.0,332.1L968.1,333.7z" fill="#12b1d6"/><path d="M993.0,342.5L1009.9,340.9L997.5,336.6L980.5,338.2z" fill="#12b1d6"/><path d="M1005.4,346.5L1022.4,344.9L1009.9,340.9L993.0,342.5z" fill="#12b1d6"/><path d="M1017.9,350.2L1034.8,348.7L1022.4,344.9L1005.4,346.5z" fill="#12b1d6"/><path d="M1030.4,353.7L1047.3,352.2L1034.8,348.7L1017.9,350.2z" fill="#12b1d6"/><path d="M1042.8,357.0L1059.8,355.5L1047.3,352.2L1030.4,353.7z" fill="#08b5d0"/><path d="M1055.3,360.0L1072.2,358.5L1059.8,355.5L1042.8,357.0z" fill="#08b5d0"/><path d="M1067.7,362.7L1084.7,361.2L1072.2,358.5L1055.3,360.0z" fill="#08b5d0"/><path d="M1080.2,365.2L1097.1,363.7L1084.7,361.2L1067.7,362.7z" fill="#08b5d0"/><path d="M1092.7,367.4L1109.6,366.0L1097.1,363.7L1080.2,365.2z" fill="#01b8ca"/><path d="M1105.1,369.4L1122.1,368.0L1109.6,366.0L1092.7,367.4z" fill="#01b8ca"/><path d="M1117.6,371.2L1134.5,369.7L1122.1,368.0L1105.1,369.4z" fill="#02bac3"/><path d="M1130.0,372.6L1147.0,371.2L1134.5,369.7L1117.6,371.2z" fill="#0bbdbd"/><path d="M1142.5,373.9L1159.4,372.5L1147.0,371.2L1130.0,372.6z" fill="#0bbdbd"/><path d="M1155.0,374.8L1171.9,373.5L1159.4,372.5L1142.5,373.9z" fill="#19bfb6"/><path d="M1167.4,375.5L1184.4,374.2L1171.9,373.5L1155.0,374.8z" fill="#24c1ae"/><path d="M1179.9,376.0L1196.8,374.7L1184.4,374.2L1167.4,375.5z" fill="#2cc4a7"/><path d="M1192.3,376.2L1209.3,374.9L1196.8,374.7L1179.9,376.0z" fill="#31c69f"/><path d="M1204.8,376.2L1221.7,374.9L1209.3,374.9L1192.3,376.2z" fill="#37c897"/><path d="M1217.3,375.9L1234.2,374.6L1221.7,374.9L1204.8,376.2z" fill="#3fca8e"/><path d="M1229.7,375.4L1246.7,374.1L1234.2,374.6L1217.3,375.9z" fill="#4acb84"/><path d="M602.2,106.8L619.2,104.7L606.7,92.8L589.8,95.0z" fill="#f6ef20"/><path d="M614.7,118.4L631.6,116.3L619.2,104.7L602.2,106.8z" fill="#f5e327"/><path d="M627.2,129.7L644.1,127.6L631.6,116.3L614.7,118.4z" fill="#fad62d"/><path d="M639.6,140.8L656.6,138.7L644.1,127.6L627.2,129.7z" fill="#fec934"/><path d="M652.1,151.6L669.0,149.5L656.6,138.7L639.6,140.8z" fill="#febe3c"/><path d="M664.5,162.2L681.5,160.1L669.0,149.5L652.1,151.6z" fill="#f0ba36"/><path d="M677.0,172.5L693.9,170.4L681.5,160.1L664.5,162.2z" fill="#dcbd29"/><path d="M689.5,182.6L706.4,180.5L693.9,170.4L677.0,172.5z" fill="#d1bf27"/><path d="M701.9,192.4L718.9,190.3L706.4,180.5L689.5,182.6z" fill="#b9c431"/><path d="M714.4,201.9L731.3,199.9L718.9,190.3L701.9,192.4z" fill="#9dc943"/><path d="M726.8,211.2L743.8,209.2L731.3,199.9L714.4,201.9z" fill="#8fcb4e"/><path d="M739.3,220.3L756.2,218.3L743.8,209.2L726.8,211.2z" fill="#81cc59"/><path d="M751.8,229.1L768.7,227.1L756.2,218.3L739.3,220.3z" fill="#64cd6f"/><path d="M764.2,237.6L781.2,235.6L768.7,227.1L751.8,229.1z" fill="#57cc7a"/><path d="M776.7,245.9L793.6,244.0L781.2,235.6L764.2,237.6z" fill="#4acb84"/><path d="M789.1,254.0L806.1,252.0L793.6,244.0L776.7,245.9z" fill="#3fca8e"/><path d="M801.6,261.7L818.5,259.8L806.1,252.0L789.1,254.0z" fill="#37c897"/><path d="M814.1,269.3L831.0,267.4L818.5,259.8L801.6,261.7z" fill="#31c69f"/><path d="M826.5,276.6L843.5,274.6L831.0,267.4L814.1,269.3z" fill="#2cc4a7"/><path d="M839.0,283.6L855.9,281.7L843.5,274.6L826.5,276.6z" fill="#24c1ae"/><path d="M851.4,290.4L868.4,288.5L855.9,281.7L839.0,283.6z" fill="#19bfb6"/><path d="M863.9,296.9L880.8,295.0L868.4,288.5L851.4,290.4z" fill="#0bbdbd"/><path d="M876.4,303.2L893.3,301.3L880.8,295.0L863.9,296.9z" fill="#0bbdbd"/><path d="M888.8,309.2L905.8,307.3L893.3,301.3L876.4,303.2z" fill="#02bac3"/><path d="M901.3,314.9L918.2,313.1L905.8,307.3L888.8,309.2z" fill="#01b8ca"/><path d="M913.7,320.5L930.7,318.6L918.2,313.1L901.3,314.9z" fill="#01b8ca"/><path d="M926.2,325.7L943.1,323.9L930.7,318.6L913.7,320.5z" fill="#01b8ca"/><path d="M938.7,330.7L955.6,328.9L943.1,323.9L926.2,325.7z" fill="#08b5d0"/><path d="M951.1,335.5L968.1,333.7L955.6,328.9L938.7,330.7z" fill="#08b5d0"/><path d="M963.6,340.0L980.5,338.2L968.1,333.7L951.1,335.5z" fill="#08b5d0"/><path d="M976.0,344.2L993.0,342.5L980.5,338.2L963.6,340.0z" fill="#08b5d0"/><path d="M988.5,348.2L1005.4,346.5L993.0,342.5L976.0,344.2z" fill="#08b5d0"/><path d="M1001.0,352.0L1017.9,350.2L1005.4,346.5L988.5,348.2z" fill="#08b5d0"/><path d="M1013.4,355.4L1030.4,353.7L1017.9,350.2L1001.0,352.0z" fill="#08b5d0"/><path d="M1025.9,358.7L1042.8,357.0L1030.4,353.7L1013.4,355.4z" fill="#08b5d0"/><path d="M1038.3,361.7L1055.3,360.0L1042.8,357.0L1025.9,358.7z" fill="#08b5d0"/><path d="M1050.8,364.4L1067.7,362.7L1055.3,360.0L1038.3,361.7z" fill="#08b5d0"/><path d="M1063.3,366.9L1080.2,365.2L1067.7,362.7L1050.8,364.4z" fill="#01b8ca"/><path d="M1075.7,369.1L1092.7,367.4L1080.2,365.2L1063.3,366.9z" fill="#01b8ca"/><path d="M1088.2,371.1L1105.1,369.4L1092.7,367.4L1075.7,369.1z" fill="#02bac3"/><path d="M1100.6,372.8L1117.6,371.2L1105.1,369.4L1088.2,371.1z" fill="#02bac3"/><path d="M1113.1,374.2L1130.0,372.6L1117.6,371.2L1100.6,372.8z" fill="#0bbdbd"/><path d="M1125.6,375.5L1142.5,373.9L1130.0,372.6L1113.1,374.2z" fill="#19bfb6"/><path d="M1138.0,376.4L1155.0,374.8L1142.5,373.9L1125.6,375.5z" fill="#19bfb6"/><path d="M1150.5,377.1L1167.4,375.5L1155.0,374.8L1138.0,376.4z" fill="#24c1ae"/><path d="M1162.9,377.6L1179.9,376.0L1167.4,375.5L1150.5,377.1z" fill="#2cc4a7"/><path d="M1175.4,377.8L1192.3,376.2L1179.9,376.0L1162.9,377.6z" fill="#31c69f"/><path d="M1187.9,377.7L1204.8,376.2L1192.3,376.2L1175.4,377.8z" fill="#37c897"/><path d="M1200.3,377.4L1217.3,375.9L1204.8,376.2L1187.9,377.7z" fill="#3fca8e"/><path d="M1212.8,376.9L1229.7,375.4L1217.3,375.9L1200.3,377.4z" fill="#57cc7a"/><path d="M585.3,109.2L602.2,106.8L589.8,95.0L572.8,97.4z" fill="#f6ef20"/><path d="M597.8,120.7L614.7,118.4L602.2,106.8L585.3,109.2z" fill="#f5e327"/><path d="M610.2,132.1L627.2,129.7L614.7,118.4L597.8,120.7z" fill="#fad62d"/><path d="M622.7,143.1L639.6,140.8L627.2,129.7L610.2,132.1z" fill="#fec934"/><path d="M635.1,153.9L652.1,151.6L639.6,140.8L622.7,143.1z" fill="#febe3c"/><path d="M647.6,164.5L664.5,162.2L652.1,151.6L635.1,153.9z" fill="#f0ba36"/><path d="M660.1,174.8L677.0,172.5L664.5,162.2L647.6,164.5z" fill="#e6bb2d"/><path d="M672.5,184.8L689.5,182.6L677.0,172.5L660.1,174.8z" fill="#d1bf27"/><path d="M685.0,194.6L701.9,192.4L689.5,182.6L672.5,184.8z" fill="#b9c431"/><path d="M697.4,204.2L714.4,201.9L701.9,192.4L685.0,194.6z" fill="#abc739"/><path d="M709.9,213.5L726.8,211.2L714.4,201.9L697.4,204.2z" fill="#8fcb4e"/><path d="M722.4,222.5L739.3,220.3L726.8,211.2L709.9,213.5z" fill="#81cc59"/><path d="M734.8,231.3L751.8,229.1L739.3,220.3L722.4,222.5z" fill="#64cd6f"/><path d="M747.3,239.8L764.2,237.6L751.8,229.1L734.8,231.3z" fill="#57cc7a"/><path d="M759.7,248.1L776.7,245.9L764.2,237.6L747.3,239.8z" fill="#4acb84"/><path d="M772.2,256.1L789.1,254.0L776.7,245.9L759.7,248.1z" fill="#3fca8e"/><path d="M784.7,263.9L801.6,261.7L789.1,254.0L772.2,256.1z" fill="#37c897"/><path d="M797.1,271.4L814.1,269.3L801.6,261.7L784.7,263.9z" fill="#31c69f"/><path d="M809.6,278.7L826.5,276.6L814.1,269.3L797.1,271.4z" fill="#2cc4a7"/><path d="M822.0,285.7L839.0,283.6L826.5,276.6L809.6,278.7z" fill="#24c1ae"/><path d="M834.5,292.5L851.4,290.4L839.0,283.6L822.0,285.7z" fill="#19bfb6"/><path d="M847.0,299.0L863.9,296.9L851.4,290.4L834.5,292.5z" fill="#0bbdbd"/><path d="M859.4,305.2L876.4,303.2L863.9,296.9L847.0,299.0z" fill="#0bbdbd"/><path d="M871.9,311.2L888.8,309.2L876.4,303.2L859.4,305.2z" fill="#02bac3"/><path d="M884.3,317.0L901.3,314.9L888.8,309.2L871.9,311.2z" fill="#02bac3"/><path d="M896.8,322.5L913.7,320.5L901.3,314.9L884.3,317.0z" fill="#01b8ca"/><path d="M909.3,327.7L926.2,325.7L913.7,320.5L896.8,322.5z" fill="#01b8ca"/><path d="M921.7,332.7L938.7,330.7L926.2,325.7L909.3,327.7z" fill="#01b8ca"/><path d="M934.2,337.5L951.1,335.5L938.7,330.7L921.7,332.7z" fill="#08b5d0"/><path d="M946.6,342.0L963.6,340.0L951.1,335.5L934.2,337.5z" fill="#08b5d0"/><path d="M959.1,346.2L976.0,344.2L963.6,340.0L946.6,342.0z" fill="#08b5d0"/><path d="M971.6,350.2L988.5,348.2L976.0,344.2L959.1,346.2z" fill="#08b5d0"/><path d="M984.0,353.9L1001.0,352.0L988.5,348.2L971.6,350.2z" fill="#08b5d0"/><path d="M996.5,357.4L1013.4,355.4L1001.0,352.0L984.0,353.9z" fill="#08b5d0"/><path d="M1008.9,360.6L1025.9,358.7L1013.4,355.4L996.5,357.4z" fill="#08b5d0"/><path d="M1021.4,363.6L1038.3,361.7L1025.9,358.7L1008.9,360.6z" fill="#08b5d0"/><path d="M1033.9,366.3L1050.8,364.4L1038.3,361.7L1021.4,363.6z" fill="#01b8ca"/><path d="M1046.3,368.8L1063.3,366.9L1050.8,364.4L1033.9,366.3z" fill="#01b8ca"/><path d="M1058.8,371.0L1075.7,369.1L1063.3,366.9L1046.3,368.8z" fill="#02bac3"/><path d="M1071.2,372.9L1088.2,371.1L1075.7,369.1L1058.8,371.0z" fill="#02bac3"/><path d="M1083.7,374.6L1100.6,372.8L1088.2,371.1L1071.2,372.9z" fill="#0bbdbd"/><path d="M1096.2,376.1L1113.1,374.2L1100.6,372.8L1083.7,374.6z" fill="#0bbdbd"/><path d="M1108.6,377.3L1125.6,375.5L1113.1,374.2L1096.2,376.1z" fill="#19bfb6"/><path d="M1121.1,378.2L1138.0,376.4L1125.6,375.5L1108.6,377.3z" fill="#24c1ae"/><path d="M1133.5,378.9L1150.5,377.1L1138.0,376.4L1121.1,378.2z" fill="#2cc4a7"/><path d="M1146.0,379.4L1162.9,377.6L1150.5,377.1L1133.5,378.9z" fill="#31c69f"/><path d="M1158.5,379.6L1175.4,377.8L1162.9,377.6L1146.0,379.4z" fill="#37c897"/><path d="M1170.9,379.5L1187.9,377.7L1175.4,377.8L1158.5,379.6z" fill="#3fca8e"/><path d="M1183.4,379.2L1200.3,377.4L1187.9,377.7L1170.9,379.5z" fill="#4acb84"/><path d="M1195.8,378.6L1212.8,376.9L1200.3,377.4L1183.4,379.2z" fill="#57cc7a"/><path d="M568.4,111.8L585.3,109.2L572.8,97.4L555.9,100.0z" fill="#f6ef20"/><path d="M580.8,123.3L597.8,120.7L585.3,109.2L568.4,111.8z" fill="#f5e327"/><path d="M593.3,134.6L610.2,132.1L597.8,120.7L580.8,123.3z" fill="#fad62d"/><path d="M605.7,145.7L622.7,143.1L610.2,132.1L593.3,134.6z" fill="#fec934"/><path d="M618.2,156.5L635.1,153.9L622.7,143.1L605.7,145.7z" fill="#febe3c"/><path d="M630.7,167.0L647.6,164.5L635.1,153.9L618.2,156.5z" fill="#f0ba36"/><path d="M643.1,177.3L660.1,174.8L647.6,164.5L630.7,167.0z" fill="#e6bb2d"/><path d="M655.6,187.3L672.5,184.8L660.1,174.8L643.1,177.3z" fill="#d1bf27"/><path d="M668.0,197.1L685.0,194.6L672.5,184.8L655.6,187.3z" fill="#b9c431"/><path d="M680.5,206.6L697.4,204.2L685.0,194.6L668.0,197.1z" fill="#abc739"/><path d="M693.0,215.9L709.9,213.5L697.4,204.2L680.5,206.6z" fill="#8fcb4e"/><path d="M705.4,224.9L722.4,222.5L709.9,213.5L693.0,215.9z" fill="#81cc59"/><path d="M717.9,233.7L734.8,231.3L722.4,222.5L705.4,224.9z" fill="#72cd64"/><path d="M730.3,242.2L747.3,239.8L734.8,231.3L717.9,233.7z" fill="#57cc7a"/><path d="M742.8,250.5L759.7,248.1L747.3,239.8L730.3,242.2z" fill="#4acb84"/><path d="M755.3,258.5L772.2,256.1L759.7,248.1L742.8,250.5z" fill="#3fca8e"/><path d="M767.7,266.3L784.7,263.9L772.2,256.1L755.3,258.5z" fill="#37c897"/><path d="M780.2,273.8L797.1,271.4L784.7,263.9L767.7,266.3z" fill="#31c69f"/><path d="M792.6,281.0L809.6,278.7L797.1,271.4L780.2,273.8z" fill="#2cc4a7"/><path d="M805.1,288.0L822.0,285.7L809.6,278.7L792.6,281.0z" fill="#24c1ae"/><path d="M817.6,294.8L834.5,292.5L822.0,285.7L805.1,288.0z" fill="#19bfb6"/><path d="M830.0,301.3L847.0,299.0L834.5,292.5L817.6,294.8z" fill="#19bfb6"/><path d="M842.5,307.5L859.4,305.2L847.0,299.0L830.0,301.3z" fill="#0bbdbd"/><path d="M854.9,313.5L871.9,311.2L859.4,305.2L842.5,307.5z" fill="#02bac3"/><path d="M867.4,319.3L884.3,317.0L871.9,311.2L854.9,313.5z" fill="#02bac3"/><path d="M879.9,324.8L896.8,322.5L884.3,317.0L867.4,319.3z" fill="#01b8ca"/><path d="M892.3,330.0L909.3,327.7L896.8,322.5L879.9,324.8z" fill="#01b8ca"/><path d="M904.8,335.0L921.7,332.7L909.3,327.7L892.3,330.0z" fill="#01b8ca"/><path d="M917.2,339.7L934.2,337.5L921.7,332.7L904.8,335.0z" fill="#01b8ca"/><path d="M929.7,344.2L946.6,342.0L934.2,337.5L917.2,339.7z" fill="#08b5d0"/><path d="M942.2,348.4L959.1,346.2L946.6,342.0L929.7,344.2z" fill="#08b5d0"/><path d="M954.6,352.4L971.6,350.2L959.1,346.2L942.2,348.4z" fill="#08b5d0"/><path d="M967.1,356.1L984.0,353.9L971.6,350.2L954.6,352.4z" fill="#08b5d0"/><path d="M979.5,359.5L996.5,357.4L984.0,353.9L967.1,356.1z" fill="#08b5d0"/><path d="M992.0,362.7L1008.9,360.6L996.5,357.4L979.5,359.5z" fill="#08b5d0"/><path d="M1004.5,365.7L1021.4,363.6L1008.9,360.6L992.0,362.7z" fill="#01b8ca"/><path d="M1016.9,368.4L1033.9,366.3L1021.4,363.6L1004.5,365.7z" fill="#01b8ca"/><path d="M1029.4,370.9L1046.3,368.8L1033.9,366.3L1016.9,368.4z" fill="#01b8ca"/><path d="M1041.8,373.1L1058.8,371.0L1046.3,368.8L1029.4,370.9z" fill="#02bac3"/><path d="M1054.3,375.0L1071.2,372.9L1058.8,371.0L1041.8,373.1z" fill="#02bac3"/><path d="M1066.8,376.7L1083.7,374.6L1071.2,372.9L1054.3,375.0z" fill="#0bbdbd"/><path d="M1079.2,378.1L1096.2,376.1L1083.7,374.6L1066.8,376.7z" fill="#19bfb6"/><path d="M1091.7,379.3L1108.6,377.3L1096.2,376.1L1079.2,378.1z" fill="#19bfb6"/><path d="M1104.1,380.2L1121.1,378.2L1108.6,377.3L1091.7,379.3z" fill="#24c1ae"/><path d="M1116.6,380.9L1133.5,378.9L1121.1,378.2L1104.1,380.2z" fill="#2cc4a7"/><path d="M1129.1,381.4L1146.0,379.4L1133.5,378.9L1116.6,380.9z" fill="#31c69f"/><path d="M1141.5,381.5L1158.5,379.6L1146.0,379.4L1129.1,381.4z" fill="#37c897"/><path d="M1154.0,381.5L1170.9,379.5L1158.5,379.6L1141.5,381.5z" fill="#3fca8e"/><path d="M1166.4,381.1L1183.4,379.2L1170.9,379.5L1154.0,381.5z" fill="#4acb84"/><path d="M1178.9,380.5L1195.8,378.6L1183.4,379.2L1166.4,381.1z" fill="#57cc7a"/><path d="M551.4,114.6L568.4,111.8L555.9,100.0L539.0,102.8z" fill="#f6ef20"/><path d="M563.9,126.1L580.8,123.3L568.4,111.8L551.4,114.6z" fill="#f5e327"/><path d="M576.4,137.4L593.3,134.6L580.8,123.3L563.9,126.1z" fill="#fad62d"/><path d="M588.8,148.4L605.7,145.7L593.3,134.6L576.4,137.4z" fill="#fec934"/><path d="M601.3,159.2L618.2,156.5L605.7,145.7L588.8,148.4z" fill="#febe3c"/><path d="M613.7,169.7L630.7,167.0L618.2,156.5L601.3,159.2z" fill="#f8ba3d"/><path d="M626.2,180.0L643.1,177.3L630.7,167.0L613.7,169.7z" fill="#e6bb2d"/><path d="M638.7,190.0L655.6,187.3L643.1,177.3L626.2,180.0z" fill="#d1bf27"/><path d="M651.1,199.8L668.0,197.1L655.6,187.3L638.7,190.0z" fill="#c5c22a"/><path d="M663.6,209.3L680.5,206.6L668.0,197.1L651.1,199.8z" fill="#abc739"/><path d="M676.0,218.6L693.0,215.9L680.5,206.6L663.6,209.3z" fill="#8fcb4e"/><path d="M688.5,227.6L705.4,224.9L693.0,215.9L676.0,218.6z" fill="#81cc59"/><path d="M701.0,236.4L717.9,233.7L705.4,224.9L688.5,227.6z" fill="#72cd64"/><path d="M713.4,244.9L730.3,242.2L717.9,233.7L701.0,236.4z" fill="#57cc7a"/><path d="M725.9,253.1L742.8,250.5L730.3,242.2L713.4,244.9z" fill="#4acb84"/><path d="M738.3,261.1L755.3,258.5L742.8,250.5L725.9,253.1z" fill="#3fca8e"/><path d="M750.8,268.9L767.7,266.3L755.3,258.5L738.3,261.1z" fill="#37c897"/><path d="M763.3,276.4L780.2,273.8L767.7,266.3L750.8,268.9z" fill="#31c69f"/><path d="M775.7,283.6L792.6,281.0L780.2,273.8L763.3,276.4z" fill="#2cc4a7"/><path d="M788.2,290.6L805.1,288.0L792.6,281.0L775.7,283.6z" fill="#24c1ae"/><path d="M800.6,297.3L817.6,294.8L805.1,288.0L788.2,290.6z" fill="#24c1ae"/><path d="M813.1,303.8L830.0,301.3L817.6,294.8L800.6,297.3z" fill="#19bfb6"/><path d="M825.6,310.1L842.5,307.5L830.0,301.3L813.1,303.8z" fill="#0bbdbd"/><path d="M838.0,316.0L854.9,313.5L842.5,307.5L825.6,310.1z" fill="#0bbdbd"/><path d="M850.5,321.8L867.4,319.3L854.9,313.5L838.0,316.0z" fill="#02bac3"/><path d="M862.9,327.2L879.9,324.8L867.4,319.3L850.5,321.8z" fill="#02bac3"/><path d="M875.4,332.4L892.3,330.0L879.9,324.8L862.9,327.2z" fill="#01b8ca"/><path d="M887.9,337.4L904.8,335.0L892.3,330.0L875.4,332.4z" fill="#01b8ca"/><path d="M900.3,342.1L917.2,339.7L904.8,335.0L887.9,337.4z" fill="#01b8ca"/><path d="M912.8,346.6L929.7,344.2L917.2,339.7L900.3,342.1z" fill="#08b5d0"/><path d="M925.2,350.8L942.2,348.4L929.7,344.2L912.8,346.6z" fill="#08b5d0"/><path d="M937.7,354.7L954.6,352.4L942.2,348.4L925.2,350.8z" fill="#08b5d0"/><path d="M950.2,358.5L967.1,356.1L954.6,352.4L937.7,354.7z" fill="#08b5d0"/><path d="M962.6,361.9L979.5,359.5L967.1,356.1L950.2,358.5z" fill="#08b5d0"/><path d="M975.1,365.1L992.0,362.7L979.5,359.5L962.6,361.9z" fill="#01b8ca"/><path d="M987.5,368.0L1004.5,365.7L992.0,362.7L975.1,365.1z" fill="#01b8ca"/><path d="M1000.0,370.7L1016.9,368.4L1004.5,365.7L987.5,368.0z" fill="#01b8ca"/><path d="M1012.5,373.2L1029.4,370.9L1016.9,368.4L1000.0,370.7z" fill="#02bac3"/><path d="M1024.9,375.4L1041.8,373.1L1029.4,370.9L1012.5,373.2z" fill="#02bac3"/><path d="M1037.4,377.3L1054.3,375.0L1041.8,373.1L1024.9,375.4z" fill="#0bbdbd"/><path d="M1049.8,379.0L1066.8,376.7L1054.3,375.0L1037.4,377.3z" fill="#0bbdbd"/><path d="M1062.3,380.4L1079.2,378.1L1066.8,376.7L1049.8,379.0z" fill="#19bfb6"/><path d="M1074.8,381.6L1091.7,379.3L1079.2,378.1L1062.3,380.4z" fill="#24c1ae"/><path d="M1087.2,382.5L1104.1,380.2L1091.7,379.3L1074.8,381.6z" fill="#24c1ae"/><path d="M1099.7,383.2L1116.6,380.9L1104.1,380.2L1087.2,382.5z" fill="#2cc4a7"/><path d="M1112.1,383.6L1129.1,381.4L1116.6,380.9L1099.7,383.2z" fill="#31c69f"/><path d="M1124.6,383.7L1141.5,381.5L1129.1,381.4L1112.1,383.6z" fill="#37c897"/><path d="M1137.1,383.6L1154.0,381.5L1141.5,381.5L1124.6,383.7z" fill="#3fca8e"/><path d="M1149.5,383.3L1166.4,381.1L1154.0,381.5L1137.1,383.6z" fill="#4acb84"/><path d="M1162.0,382.7L1178.9,380.5L1166.4,381.1L1149.5,383.3z" fill="#57cc7a"/><path d="M534.5,117.6L551.4,114.6L539.0,102.8L522.0,105.8z" fill="#f6ef20"/><path d="M547.0,129.1L563.9,126.1L551.4,114.6L534.5,117.6z" fill="#f5e327"/><path d="M559.4,140.4L576.4,137.4L563.9,126.1L547.0,129.1z" fill="#fad62d"/><path d="M571.9,151.4L588.8,148.4L576.4,137.4L559.4,140.4z" fill="#fec934"/><path d="M584.3,162.2L601.3,159.2L588.8,148.4L571.9,151.4z" fill="#febe3c"/><path d="M596.8,172.7L613.7,169.7L601.3,159.2L584.3,162.2z" fill="#f8ba3d"/><path d="M609.3,182.9L626.2,180.0L613.7,169.7L596.8,172.7z" fill="#e6bb2d"/><path d="M621.7,193.0L638.7,190.0L626.2,180.0L609.3,182.9z" fill="#d1bf27"/><path d="M634.2,202.7L651.1,199.8L638.7,190.0L621.7,193.0z" fill="#c5c22a"/><path d="M646.6,212.2L663.6,209.3L651.1,199.8L634.2,202.7z" fill="#abc739"/><path d="M659.1,221.5L676.0,218.6L663.6,209.3L646.6,212.2z" fill="#9dc943"/><path d="M671.6,230.5L688.5,227.6L676.0,218.6L659.1,221.5z" fill="#81cc59"/><path d="M684.0,239.2L701.0,236.4L688.5,227.6L671.6,230.5z" fill="#72cd64"/><path d="M696.5,247.7L713.4,244.9L701.0,236.4L684.0,239.2z" fill="#64cd6f"/><path d="M708.9,256.0L725.9,253.1L713.4,244.9L696.5,247.7z" fill="#4acb84"/><path d="M721.4,263.9L738.3,261.1L725.9,253.1L708.9,256.0z" fill="#3fca8e"/><path d="M733.9,271.7L750.8,268.9L738.3,261.1L721.4,263.9z" fill="#37c897"/><path d="M746.3,279.2L763.3,276.4L750.8,268.9L733.9,271.7z" fill="#31c69f"/><path d="M758.8,286.4L775.7,283.6L763.3,276.4L746.3,279.2z" fill="#2cc4a7"/><path d="M771.2,293.4L788.2,290.6L775.7,283.6L758.8,286.4z" fill="#24c1ae"/><path d="M783.7,300.1L800.6,297.3L788.2,290.6L771.2,293.4z" fill="#24c1ae"/><path d="M796.2,306.6L813.1,303.8L800.6,297.3L783.7,300.1z" fill="#19bfb6"/><path d="M808.6,312.8L825.6,310.1L813.1,303.8L796.2,306.6z" fill="#0bbdbd"/><path d="M821.1,318.7L838.0,316.0L825.6,310.1L808.6,312.8z" fill="#0bbdbd"/><path d="M833.5,324.5L850.5,321.8L838.0,316.0L821.1,318.7z" fill="#02bac3"/><path d="M846.0,329.9L862.9,327.2L850.5,321.8L833.5,324.5z" fill="#02bac3"/><path d="M858.5,335.1L875.4,332.4L862.9,327.2L846.0,329.9z" fill="#01b8ca"/><path d="M870.9,340.1L887.9,337.4L875.4,332.4L858.5,335.1z" fill="#01b8ca"/><path d="M883.4,344.8L900.3,342.1L887.9,337.4L870.9,340.1z" fill="#01b8ca"/><path d="M895.8,349.2L912.8,346.6L900.3,342.1L883.4,344.8z" fill="#01b8ca"/><path d="M908.3,353.4L925.2,350.8L912.8,346.6L895.8,349.2z" fill="#01b8ca"/><path d="M920.8,357.4L937.7,354.7L925.2,350.8L908.3,353.4z" fill="#08b5d0"/><path d="M933.2,361.0L950.2,358.5L937.7,354.7L920.8,357.4z" fill="#01b8ca"/><path d="M945.7,364.5L962.6,361.9L950.2,358.5L933.2,361.0z" fill="#01b8ca"/><path d="M958.1,367.7L975.1,365.1L962.6,361.9L945.7,364.5z" fill="#01b8ca"/><path d="M970.6,370.6L987.5,368.0L975.1,365.1L958.1,367.7z" fill="#01b8ca"/><path d="M983.1,373.3L1000.0,370.7L987.5,368.0L970.6,370.6z" fill="#01b8ca"/><path d="M995.5,375.7L1012.5,373.2L1000.0,370.7L983.1,373.3z" fill="#02bac3"/><path d="M1008.0,377.9L1024.9,375.4L1012.5,373.2L995.5,375.7z" fill="#02bac3"/><path d="M1020.4,379.8L1037.4,377.3L1024.9,375.4L1008.0,377.9z" fill="#0bbdbd"/><path d="M1032.9,381.5L1049.8,379.0L1037.4,377.3L1020.4,379.8z" fill="#0bbdbd"/><path d="M1045.4,382.9L1062.3,380.4L1049.8,379.0L1032.9,381.5z" fill="#19bfb6"/><path d="M1057.8,384.0L1074.8,381.6L1062.3,380.4L1045.4,382.9z" fill="#24c1ae"/><path d="M1070.3,384.9L1087.2,382.5L1074.8,381.6L1057.8,384.0z" fill="#24c1ae"/><path d="M1082.7,385.6L1099.7,383.2L1087.2,382.5L1070.3,384.9z" fill="#2cc4a7"/><path d="M1095.2,386.0L1112.1,383.6L1099.7,383.2L1082.7,385.6z" fill="#31c69f"/><path d="M1107.7,386.1L1124.6,383.7L1112.1,383.6L1095.2,386.0z" fill="#37c897"/><path d="M1120.1,386.0L1137.1,383.6L1124.6,383.7L1107.7,386.1z" fill="#3fca8e"/><path d="M1132.6,385.7L1149.5,383.3L1137.1,383.6L1120.1,386.0z" fill="#4acb84"/><path d="M1145.0,385.1L1162.0,382.7L1149.5,383.3L1132.6,385.7z" fill="#64cd6f"/><path d="M517.6,120.8L534.5,117.6L522.0,105.8L505.1,109.0z" fill="#f6ef20"/><path d="M530.0,132.3L547.0,129.1L534.5,117.6L517.6,120.8z" fill="#f5e327"/><path d="M542.5,143.6L559.4,140.4L547.0,129.1L530.0,132.3z" fill="#fad62d"/><path d="M554.9,154.6L571.9,151.4L559.4,140.4L542.5,143.6z" fill="#fec934"/><path d="M567.4,165.3L584.3,162.2L571.9,151.4L554.9,154.6z" fill="#febe3c"/><path d="M579.9,175.8L596.8,172.7L584.3,162.2L567.4,165.3z" fill="#f8ba3d"/><path d="M592.3,186.1L609.3,182.9L596.8,172.7L579.9,175.8z" fill="#e6bb2d"/><path d="M604.8,196.1L621.7,193.0L609.3,182.9L592.3,186.1z" fill="#d1bf27"/><path d="M617.2,205.8L634.2,202.7L621.7,193.0L604.8,196.1z" fill="#c5c22a"/><path d="M629.7,215.3L646.6,212.2L634.2,202.7L617.2,205.8z" fill="#abc739"/><path d="M642.2,224.6L659.1,221.5L646.6,212.2L629.7,215.3z" fill="#9dc943"/><path d="M654.6,233.6L671.6,230.5L659.1,221.5L642.2,224.6z" fill="#81cc59"/><path d="M667.1,242.3L684.0,239.2L671.6,230.5L654.6,233.6z" fill="#72cd64"/><path d="M679.5,250.8L696.5,247.7L684.0,239.2L667.1,242.3z" fill="#64cd6f"/><path d="M692.0,259.0L708.9,256.0L696.5,247.7L679.5,250.8z" fill="#4acb84"/><path d="M704.5,267.0L721.4,263.9L708.9,256.0L692.0,259.0z" fill="#3fca8e"/><path d="M716.9,274.7L733.9,271.7L721.4,263.9L704.5,267.0z" fill="#37c897"/><path d="M729.4,282.2L746.3,279.2L733.9,271.7L716.9,274.7z" fill="#31c69f"/><path d="M741.8,289.4L758.8,286.4L746.3,279.2L729.4,282.2z" fill="#2cc4a7"/><path d="M754.3,296.3L771.2,293.4L758.8,286.4L741.8,289.4z" fill="#24c1ae"/><path d="M766.8,303.1L783.7,300.1L771.2,293.4L754.3,296.3z" fill="#24c1ae"/><path d="M779.2,309.5L796.2,306.6L783.7,300.1L766.8,303.1z" fill="#19bfb6"/><path d="M791.7,315.7L808.6,312.8L796.2,306.6L779.2,309.5z" fill="#0bbdbd"/><path d="M804.1,321.7L821.1,318.7L808.6,312.8L791.7,315.7z" fill="#0bbdbd"/><path d="M816.6,327.4L833.5,324.5L821.1,318.7L804.1,321.7z" fill="#02bac3"/><path d="M829.1,332.8L846.0,329.9L833.5,324.5L816.6,327.4z" fill="#02bac3"/><path d="M841.5,338.0L858.5,335.1L846.0,329.9L829.1,332.8z" fill="#01b8ca"/><path d="M854.0,342.9L870.9,340.1L858.5,335.1L841.5,338.0z" fill="#01b8ca"/><path d="M866.4,347.6L883.4,344.8L870.9,340.1L854.0,342.9z" fill="#01b8ca"/><path d="M878.9,352.1L895.8,349.2L883.4,344.8L866.4,347.6z" fill="#01b8ca"/><path d="M891.4,356.3L908.3,353.4L895.8,349.2L878.9,352.1z" fill="#01b8ca"/><path d="M903.8,360.2L920.8,357.4L908.3,353.4L891.4,356.3z" fill="#01b8ca"/><path d="M916.3,363.9L933.2,361.0L920.8,357.4L903.8,360.2z" fill="#01b8ca"/><path d="M928.7,367.3L945.7,364.5L933.2,361.0L916.3,363.9z" fill="#01b8ca"/><path d="M941.2,370.4L958.1,367.7L945.7,364.5L928.7,367.3z" fill="#01b8ca"/><path d="M953.7,373.4L970.6,370.6L958.1,367.7L941.2,370.4z" fill="#01b8ca"/><path d="M966.1,376.0L983.1,373.3L970.6,370.6L953.7,373.4z" fill="#01b8ca"/><path d="M978.6,378.4L995.5,375.7L983.1,373.3L966.1,376.0z" fill="#02bac3"/><path d="M991.0,380.6L1008.0,377.9L995.5,375.7L978.6,378.4z" fill="#02bac3"/><path d="M1003.5,382.5L1020.4,379.8L1008.0,377.9L991.0,380.6z" fill="#0bbdbd"/><path d="M1016.0,384.2L1032.9,381.5L1020.4,379.8L1003.5,382.5z" fill="#0bbdbd"/><path d="M1028.4,385.6L1045.4,382.9L1032.9,381.5L1016.0,384.2z" fill="#19bfb6"/><path d="M1040.9,386.7L1057.8,384.0L1045.4,382.9L1028.4,385.6z" fill="#24c1ae"/><path d="M1053.3,387.6L1070.3,384.9L1057.8,384.0L1040.9,386.7z" fill="#2cc4a7"/><path d="M1065.8,388.2L1082.7,385.6L1070.3,384.9L1053.3,387.6z" fill="#2cc4a7"/><path d="M1078.3,388.6L1095.2,386.0L1082.7,385.6L1065.8,388.2z" fill="#31c69f"/><path d="M1090.7,388.8L1107.7,386.1L1095.2,386.0L1078.3,388.6z" fill="#37c897"/><path d="M1103.2,388.7L1120.1,386.0L1107.7,386.1L1090.7,388.8z" fill="#3fca8e"/><path d="M1115.6,388.3L1132.6,385.7L1120.1,386.0L1103.2,388.7z" fill="#57cc7a"/><path d="M1128.1,387.7L1145.0,385.1L1132.6,385.7L1115.6,388.3z" fill="#64cd6f"/><path d="M500.6,124.2L517.6,120.8L505.1,109.0L488.2,112.5z" fill="#f6ef20"/><path d="M513.1,135.7L530.0,132.3L517.6,120.8L500.6,124.2z" fill="#f5e327"/><path d="M525.5,147.0L542.5,143.6L530.0,132.3L513.1,135.7z" fill="#fad62d"/><path d="M538.0,158.0L554.9,154.6L542.5,143.6L525.5,147.0z" fill="#fec934"/><path d="M550.5,168.7L567.4,165.3L554.9,154.6L538.0,158.0z" fill="#febe3c"/><path d="M562.9,179.2L579.9,175.8L567.4,165.3L550.5,168.7z" fill="#f0ba36"/><path d="M575.4,189.5L592.3,186.1L579.9,175.8L562.9,179.2z" fill="#e6bb2d"/><path d="M587.8,199.4L604.8,196.1L592.3,186.1L575.4,189.5z" fill="#d1bf27"/><path d="M600.3,209.2L617.2,205.8L604.8,196.1L587.8,199.4z" fill="#b9c431"/><path d="M612.8,218.7L629.7,215.3L617.2,205.8L600.3,209.2z" fill="#abc739"/><path d="M625.2,227.9L642.2,224.6L629.7,215.3L612.8,218.7z" fill="#8fcb4e"/><path d="M637.7,236.9L654.6,233.6L642.2,224.6L625.2,227.9z" fill="#81cc59"/><path d="M650.1,245.6L667.1,242.3L654.6,233.6L637.7,236.9z" fill="#72cd64"/><path d="M662.6,254.0L679.5,250.8L667.1,242.3L650.1,245.6z" fill="#57cc7a"/><path d="M675.1,262.3L692.0,259.0L679.5,250.8L662.6,254.0z" fill="#4acb84"/><path d="M687.5,270.2L704.5,267.0L692.0,259.0L675.1,262.3z" fill="#3fca8e"/><path d="M700.0,277.9L716.9,274.7L704.5,267.0L687.5,270.2z" fill="#37c897"/><path d="M712.4,285.4L729.4,282.2L716.9,274.7L700.0,277.9z" fill="#31c69f"/><path d="M724.9,292.6L741.8,289.4L729.4,282.2L712.4,285.4z" fill="#2cc4a7"/><path d="M737.4,299.5L754.3,296.3L741.8,289.4L724.9,292.6z" fill="#24c1ae"/><path d="M749.8,306.2L766.8,303.1L754.3,296.3L737.4,299.5z" fill="#24c1ae"/><path d="M762.3,312.7L779.2,309.5L766.8,303.1L749.8,306.2z" fill="#19bfb6"/><path d="M774.7,318.9L791.7,315.7L779.2,309.5L762.3,312.7z" fill="#0bbdbd"/><path d="M787.2,324.8L804.1,321.7L791.7,315.7L774.7,318.9z" fill="#0bbdbd"/><path d="M799.7,330.5L816.6,327.4L804.1,321.7L787.2,324.8z" fill="#02bac3"/><path d="M812.1,335.9L829.1,332.8L816.6,327.4L799.7,330.5z" fill="#02bac3"/><path d="M824.6,341.1L841.5,338.0L829.1,332.8L812.1,335.9z" fill="#01b8ca"/><path d="M837.0,346.0L854.0,342.9L841.5,338.0L824.6,341.1z" fill="#01b8ca"/><path d="M849.5,350.7L866.4,347.6L854.0,342.9L837.0,346.0z" fill="#01b8ca"/><path d="M862.0,355.1L878.9,352.1L866.4,347.6L849.5,350.7z" fill="#01b8ca"/><path d="M874.4,359.3L891.4,356.3L878.9,352.1L862.0,355.1z" fill="#01b8ca"/><path d="M886.9,363.2L903.8,360.2L891.4,356.3L874.4,359.3z" fill="#01b8ca"/><path d="M899.3,366.9L916.3,363.9L903.8,360.2L886.9,363.2z" fill="#01b8ca"/><path d="M911.8,370.3L928.7,367.3L916.3,363.9L899.3,366.9z" fill="#01b8ca"/><path d="M924.3,373.4L941.2,370.4L928.7,367.3L911.8,370.3z" fill="#01b8ca"/><path d="M936.7,376.4L953.7,373.4L941.2,370.4L924.3,373.4z" fill="#01b8ca"/><path d="M949.2,379.0L966.1,376.0L953.7,373.4L936.7,376.4z" fill="#01b8ca"/><path d="M961.6,381.4L978.6,378.4L966.1,376.0L949.2,379.0z" fill="#02bac3"/><path d="M974.1,383.5L991.0,380.6L978.6,378.4L961.6,381.4z" fill="#02bac3"/><path d="M986.6,385.4L1003.5,382.5L991.0,380.6L974.1,383.5z" fill="#0bbdbd"/><path d="M999.0,387.1L1016.0,384.2L1003.5,382.5L986.6,385.4z" fill="#0bbdbd"/><path d="M1011.5,388.5L1028.4,385.6L1016.0,384.2L999.0,387.1z" fill="#19bfb6"/><path d="M1023.9,389.6L1040.9,386.7L1028.4,385.6L1011.5,388.5z" fill="#24c1ae"/><path d="M1036.4,390.5L1053.3,387.6L1040.9,386.7L1023.9,389.6z" fill="#2cc4a7"/><path d="M1048.9,391.1L1065.8,388.2L1053.3,387.6L1036.4,390.5z" fill="#2cc4a7"/><path d="M1061.3,391.5L1078.3,388.6L1065.8,388.2L1048.9,391.1z" fill="#31c69f"/><path d="M1073.8,391.6L1090.7,388.8L1078.3,388.6L1061.3,391.5z" fill="#37c897"/><path d="M1086.2,391.5L1103.2,388.7L1090.7,388.8L1073.8,391.6z" fill="#3fca8e"/><path d="M1098.7,391.1L1115.6,388.3L1103.2,388.7L1086.2,391.5z" fill="#57cc7a"/><path d="M1111.2,390.5L1128.1,387.7L1115.6,388.3L1098.7,391.1z" fill="#64cd6f"/><path d="M483.7,127.9L500.6,124.2L488.2,112.5L471.2,116.2z" fill="#f6ef20"/><path d="M496.2,139.4L513.1,135.7L500.6,124.2L483.7,127.9z" fill="#f5e327"/><path d="M508.6,150.6L525.5,147.0L513.1,135.7L496.2,139.4z" fill="#fad62d"/><path d="M521.1,161.6L538.0,158.0L525.5,147.0L508.6,150.6z" fill="#fec934"/><path d="M533.5,172.3L550.5,168.7L538.0,158.0L521.1,161.6z" fill="#febe3c"/><path d="M546.0,182.8L562.9,179.2L550.5,168.7L533.5,172.3z" fill="#f0ba36"/><path d="M558.5,193.0L575.4,189.5L562.9,179.2L546.0,182.8z" fill="#e6bb2d"/><path d="M570.9,203.0L587.8,199.4L575.4,189.5L558.5,193.0z" fill="#d1bf27"/><path d="M583.4,212.7L600.3,209.2L587.8,199.4L570.9,203.0z" fill="#b9c431"/><path d="M595.8,222.2L612.8,218.7L600.3,209.2L583.4,212.7z" fill="#abc739"/><path d="M608.3,231.4L625.2,227.9L612.8,218.7L595.8,222.2z" fill="#8fcb4e"/><path d="M620.8,240.4L637.7,236.9L625.2,227.9L608.3,231.4z" fill="#81cc59"/><path d="M633.2,249.1L650.1,245.6L637.7,236.9L620.8,240.4z" fill="#72cd64"/><path d="M645.7,257.5L662.6,254.0L650.1,245.6L633.2,249.1z" fill="#57cc7a"/><path d="M658.1,265.7L675.1,262.3L662.6,254.0L645.7,257.5z" fill="#4acb84"/><path d="M670.6,273.7L687.5,270.2L675.1,262.3L658.1,265.7z" fill="#3fca8e"/><path d="M683.1,281.4L700.0,277.9L687.5,270.2L670.6,273.7z" fill="#37c897"/><path d="M695.5,288.8L712.4,285.4L700.0,277.9L683.1,281.4z" fill="#31c69f"/><path d="M708.0,296.0L724.9,292.6L712.4,285.4L695.5,288.8z" fill="#2cc4a7"/><path d="M720.4,302.9L737.4,299.5L724.9,292.6L708.0,296.0z" fill="#24c1ae"/><path d="M732.9,309.6L749.8,306.2L737.4,299.5L720.4,302.9z" fill="#19bfb6"/><path d="M745.4,316.1L762.3,312.7L749.8,306.2L732.9,309.6z" fill="#19bfb6"/><path d="M757.8,322.2L774.7,318.9L762.3,312.7L745.4,316.1z" fill="#0bbdbd"/><path d="M770.3,328.2L787.2,324.8L774.7,318.9L757.8,322.2z" fill="#0bbdbd"/><path d="M782.7,333.8L799.7,330.5L787.2,324.8L770.3,328.2z" fill="#02bac3"/><path d="M795.2,339.3L812.1,335.9L799.7,330.5L782.7,333.8z" fill="#02bac3"/><path d="M807.7,344.4L824.6,341.1L812.1,335.9L795.2,339.3z" fill="#01b8ca"/><path d="M820.1,349.3L837.0,346.0L824.6,341.1L807.7,344.4z" fill="#01b8ca"/><path d="M832.6,354.0L849.5,350.7L837.0,346.0L820.1,349.3z" fill="#01b8ca"/><path d="M845.0,358.4L862.0,355.1L849.5,350.7L832.6,354.0z" fill="#01b8ca"/><path d="M857.5,362.6L874.4,359.3L862.0,355.1L845.0,358.4z" fill="#01b8ca"/><path d="M870.0,366.5L886.9,363.2L874.4,359.3L857.5,362.6z" fill="#08b5d0"/><path d="M882.4,370.1L899.3,366.9L886.9,363.2L870.0,366.5z" fill="#01b8ca"/><path d="M894.9,373.5L911.8,370.3L899.3,366.9L882.4,370.1z" fill="#01b8ca"/><path d="M907.3,376.7L924.3,373.4L911.8,370.3L894.9,373.5z" fill="#01b8ca"/><path d="M919.8,379.6L936.7,376.4L924.3,373.4L907.3,376.7z" fill="#01b8ca"/><path d="M932.3,382.2L949.2,379.0L936.7,376.4L919.8,379.6z" fill="#01b8ca"/><path d="M944.7,384.6L961.6,381.4L949.2,379.0L932.3,382.2z" fill="#02bac3"/><path d="M957.2,386.7L974.1,383.5L961.6,381.4L944.7,384.6z" fill="#02bac3"/><path d="M969.6,388.6L986.6,385.4L974.1,383.5L957.2,386.7z" fill="#0bbdbd"/><path d="M982.1,390.2L999.0,387.1L986.6,385.4L969.6,388.6z" fill="#0bbdbd"/><path d="M994.6,391.6L1011.5,388.5L999.0,387.1L982.1,390.2z" fill="#19bfb6"/><path d="M1007.0,392.7L1023.9,389.6L1011.5,388.5L994.6,391.6z" fill="#24c1ae"/><path d="M1019.5,393.6L1036.4,390.5L1023.9,389.6L1007.0,392.7z" fill="#2cc4a7"/><path d="M1031.9,394.2L1048.9,391.1L1036.4,390.5L1019.5,393.6z" fill="#2cc4a7"/><path d="M1044.4,394.6L1061.3,391.5L1048.9,391.1L1031.9,394.2z" fill="#31c69f"/><path d="M1056.9,394.7L1073.8,391.6L1061.3,391.5L1044.4,394.6z" fill="#37c897"/><path d="M1069.3,394.5L1086.2,391.5L1073.8,391.6L1056.9,394.7z" fill="#3fca8e"/><path d="M1081.8,394.1L1098.7,391.1L1086.2,391.5L1069.3,394.5z" fill="#57cc7a"/><path d="M1094.2,393.5L1111.2,390.5L1098.7,391.1L1081.8,394.1z" fill="#64cd6f"/><path d="M466.8,131.8L483.7,127.9L471.2,116.2L454.3,120.0z" fill="#f6ef20"/><path d="M479.2,143.2L496.2,139.4L483.7,127.9L466.8,131.8z" fill="#f5e327"/><path d="M491.7,154.5L508.6,150.6L496.2,139.4L479.2,143.2z" fill="#fad62d"/><path d="M504.1,165.4L521.1,161.6L508.6,150.6L491.7,154.5z" fill="#fec934"/><path d="M516.6,176.2L533.5,172.3L521.1,161.6L504.1,165.4z" fill="#febe3c"/><path d="M529.1,186.6L546.0,182.8L533.5,172.3L516.6,176.2z" fill="#f0ba36"/><path d="M541.5,196.8L558.5,193.0L546.0,182.8L529.1,186.6z" fill="#dcbd29"/><path d="M554.0,206.8L570.9,203.0L558.5,193.0L541.5,196.8z" fill="#d1bf27"/><path d="M566.4,216.5L583.4,212.7L570.9,203.0L554.0,206.8z" fill="#b9c431"/><path d="M578.9,225.9L595.8,222.2L583.4,212.7L566.4,216.5z" fill="#abc739"/><path d="M591.4,235.1L608.3,231.4L595.8,222.2L578.9,225.9z" fill="#8fcb4e"/><path d="M603.8,244.1L620.8,240.4L608.3,231.4L591.4,235.1z" fill="#81cc59"/><path d="M616.3,252.8L633.2,249.1L620.8,240.4L603.8,244.1z" fill="#64cd6f"/><path d="M628.7,261.2L645.7,257.5L633.2,249.1L616.3,252.8z" fill="#57cc7a"/><path d="M641.2,269.4L658.1,265.7L645.7,257.5L628.7,261.2z" fill="#4acb84"/><path d="M653.7,277.4L670.6,273.7L658.1,265.7L641.2,269.4z" fill="#3fca8e"/><path d="M666.1,285.0L683.1,281.4L670.6,273.7L653.7,277.4z" fill="#37c897"/><path d="M678.6,292.5L695.5,288.8L683.1,281.4L666.1,285.0z" fill="#31c69f"/><path d="M691.0,299.6L708.0,296.0L695.5,288.8L678.6,292.5z" fill="#2cc4a7"/><path d="M703.5,306.6L720.4,302.9L708.0,296.0L691.0,299.6z" fill="#24c1ae"/><path d="M716.0,313.2L732.9,309.6L720.4,302.9L703.5,306.6z" fill="#19bfb6"/><path d="M728.4,319.7L745.4,316.1L732.9,309.6L716.0,313.2z" fill="#19bfb6"/><path d="M740.9,325.8L757.8,322.2L745.4,316.1L728.4,319.7z" fill="#0bbdbd"/><path d="M753.3,331.7L770.3,328.2L757.8,322.2L740.9,325.8z" fill="#02bac3"/><path d="M765.8,337.4L782.7,333.8L770.3,328.2L753.3,331.7z" fill="#02bac3"/><path d="M778.3,342.8L795.2,339.3L782.7,333.8L765.8,337.4z" fill="#02bac3"/><path d="M790.7,348.0L807.7,344.4L795.2,339.3L778.3,342.8z" fill="#01b8ca"/><path d="M803.2,352.9L820.1,349.3L807.7,344.4L790.7,348.0z" fill="#01b8ca"/><path d="M815.6,357.5L832.6,354.0L820.1,349.3L803.2,352.9z" fill="#01b8ca"/><path d="M828.1,361.9L845.0,358.4L832.6,354.0L815.6,357.5z" fill="#08b5d0"/><path d="M840.6,366.0L857.5,362.6L845.0,358.4L828.1,361.9z" fill="#08b5d0"/><path d="M853.0,369.9L870.0,366.5L857.5,362.6L840.6,366.0z" fill="#08b5d0"/><path d="M865.5,373.6L882.4,370.1L870.0,366.5L853.0,369.9z" fill="#08b5d0"/><path d="M877.9,377.0L894.9,373.5L882.4,370.1L865.5,373.6z" fill="#01b8ca"/><path d="M890.4,380.1L907.3,376.7L894.9,373.5L877.9,377.0z" fill="#01b8ca"/><path d="M902.9,383.0L919.8,379.6L907.3,376.7L890.4,380.1z" fill="#01b8ca"/><path d="M915.3,385.6L932.3,382.2L919.8,379.6L902.9,383.0z" fill="#01b8ca"/><path d="M927.8,388.0L944.7,384.6L932.3,382.2L915.3,385.6z" fill="#02bac3"/><path d="M940.2,390.1L957.2,386.7L944.7,384.6L927.8,388.0z" fill="#02bac3"/><path d="M952.7,392.0L969.6,388.6L957.2,386.7L940.2,390.1z" fill="#0bbdbd"/><path d="M965.2,393.6L982.1,390.2L969.6,388.6L952.7,392.0z" fill="#0bbdbd"/><path d="M977.6,394.9L994.6,391.6L982.1,390.2L965.2,393.6z" fill="#19bfb6"/><path d="M990.1,396.0L1007.0,392.7L994.6,391.6L977.6,394.9z" fill="#24c1ae"/><path d="M1002.5,396.9L1019.5,393.6L1007.0,392.7L990.1,396.0z" fill="#2cc4a7"/><path d="M1015.0,397.5L1031.9,394.2L1019.5,393.6L1002.5,396.9z" fill="#2cc4a7"/><path d="M1027.5,397.8L1044.4,394.6L1031.9,394.2L1015.0,397.5z" fill="#31c69f"/><path d="M1039.9,397.9L1056.9,394.7L1044.4,394.6L1027.5,397.8z" fill="#37c897"/><path d="M1052.4,397.8L1069.3,394.5L1056.9,394.7L1039.9,397.9z" fill="#3fca8e"/><path d="M1064.8,397.4L1081.8,394.1L1069.3,394.5L1052.4,397.8z" fill="#57cc7a"/><path d="M1077.3,396.7L1094.2,393.5L1081.8,394.1L1064.8,397.4z" fill="#64cd6f"/><path d="M449.8,135.9L466.8,131.8L454.3,120.0L437.4,124.1z" fill="#f6ef20"/><path d="M462.3,147.3L479.2,143.2L466.8,131.8L449.8,135.9z" fill="#f7dc2a"/><path d="M474.7,158.5L491.7,154.5L479.2,143.2L462.3,147.3z" fill="#fccf30"/><path d="M487.2,169.5L504.1,165.4L491.7,154.5L474.7,158.5z" fill="#fec934"/><path d="M499.7,180.2L516.6,176.2L504.1,165.4L487.2,169.5z" fill="#febe3c"/><path d="M512.1,190.6L529.1,186.6L516.6,176.2L499.7,180.2z" fill="#f0ba36"/><path d="M524.6,200.8L541.5,196.8L529.1,186.6L512.1,190.6z" fill="#dcbd29"/><path d="M537.0,210.8L554.0,206.8L541.5,196.8L524.6,200.8z" fill="#c5c22a"/><path d="M549.5,220.5L566.4,216.5L554.0,206.8L537.0,210.8z" fill="#b9c431"/><path d="M562.0,229.9L578.9,225.9L566.4,216.5L549.5,220.5z" fill="#9dc943"/><path d="M574.4,239.1L591.4,235.1L578.9,225.9L562.0,229.9z" fill="#8fcb4e"/><path d="M586.9,248.0L603.8,244.1L591.4,235.1L574.4,239.1z" fill="#81cc59"/><path d="M599.3,256.7L616.3,252.8L603.8,244.1L586.9,248.0z" fill="#64cd6f"/><path d="M611.8,265.1L628.7,261.2L616.3,252.8L599.3,256.7z" fill="#57cc7a"/><path d="M624.3,273.3L641.2,269.4L628.7,261.2L611.8,265.1z" fill="#4acb84"/><path d="M636.7,281.2L653.7,277.4L641.2,269.4L624.3,273.3z" fill="#3fca8e"/><path d="M649.2,288.9L666.1,285.0L653.7,277.4L636.7,281.2z" fill="#37c897"/><path d="M661.6,296.3L678.6,292.5L666.1,285.0L649.2,288.9z" fill="#31c69f"/><path d="M674.1,303.5L691.0,299.6L678.6,292.5L661.6,296.3z" fill="#2cc4a7"/><path d="M686.6,310.4L703.5,306.6L691.0,299.6L674.1,303.5z" fill="#24c1ae"/><path d="M699.0,317.1L716.0,313.2L703.5,306.6L686.6,310.4z" fill="#19bfb6"/><path d="M711.5,323.5L728.4,319.7L716.0,313.2L699.0,317.1z" fill="#0bbdbd"/><path d="M723.9,329.6L740.9,325.8L728.4,319.7L711.5,323.5z" fill="#0bbdbd"/><path d="M736.4,335.5L753.3,331.7L740.9,325.8L723.9,329.6z" fill="#02bac3"/><path d="M748.9,341.2L765.8,337.4L753.3,331.7L736.4,335.5z" fill="#02bac3"/><path d="M761.3,346.6L778.3,342.8L765.8,337.4L748.9,341.2z" fill="#01b8ca"/><path d="M773.8,351.7L790.7,348.0L778.3,342.8L761.3,346.6z" fill="#01b8ca"/><path d="M786.2,356.6L803.2,352.9L790.7,348.0L773.8,351.7z" fill="#01b8ca"/><path d="M798.7,361.2L815.6,357.5L803.2,352.9L786.2,356.6z" fill="#08b5d0"/><path d="M811.2,365.6L828.1,361.9L815.6,357.5L798.7,361.2z" fill="#08b5d0"/><path d="M823.6,369.7L840.6,366.0L828.1,361.9L811.2,365.6z" fill="#08b5d0"/><path d="M836.1,373.6L853.0,369.9L840.6,366.0L823.6,369.7z" fill="#08b5d0"/><path d="M848.5,377.2L865.5,373.6L853.0,369.9L836.1,373.6z" fill="#08b5d0"/><path d="M861.0,380.6L877.9,377.0L865.5,373.6L848.5,377.2z" fill="#08b5d0"/><path d="M873.5,383.7L890.4,380.1L877.9,377.0L861.0,380.6z" fill="#01b8ca"/><path d="M885.9,386.6L902.9,383.0L890.4,380.1L873.5,383.7z" fill="#01b8ca"/><path d="M898.4,389.2L915.3,385.6L902.9,383.0L885.9,386.6z" fill="#01b8ca"/><path d="M910.8,391.6L927.8,388.0L915.3,385.6L898.4,389.2z" fill="#02bac3"/><path d="M923.3,393.7L940.2,390.1L927.8,388.0L910.8,391.6z" fill="#02bac3"/><path d="M935.8,395.5L952.7,392.0L940.2,390.1L923.3,393.7z" fill="#0bbdbd"/><path d="M948.2,397.1L965.2,393.6L952.7,392.0L935.8,395.5z" fill="#0bbdbd"/><path d="M960.7,398.5L977.6,394.9L965.2,393.6L948.2,397.1z" fill="#19bfb6"/><path d="M973.1,399.6L990.1,396.0L977.6,394.9L960.7,398.5z" fill="#24c1ae"/><path d="M985.6,400.4L1002.5,396.9L990.1,396.0L973.1,399.6z" fill="#24c1ae"/><path d="M998.1,401.0L1015.0,397.5L1002.5,396.9L985.6,400.4z" fill="#2cc4a7"/><path d="M1010.5,401.3L1027.5,397.8L1015.0,397.5L998.1,401.0z" fill="#31c69f"/><path d="M1023.0,401.4L1039.9,397.9L1027.5,397.8L1010.5,401.3z" fill="#37c897"/><path d="M1035.4,401.3L1052.4,397.8L1039.9,397.9L1023.0,401.4z" fill="#3fca8e"/><path d="M1047.9,400.8L1064.8,397.4L1052.4,397.8L1035.4,401.3z" fill="#4acb84"/><path d="M1060.4,400.2L1077.3,396.7L1064.8,397.4L1047.9,400.8z" fill="#64cd6f"/><path d="M432.9,140.2L449.8,135.9L437.4,124.1L420.4,128.5z" fill="#f5e924"/><path d="M445.3,151.6L462.3,147.3L449.8,135.9L432.9,140.2z" fill="#f7dc2a"/><path d="M457.8,162.8L474.7,158.5L462.3,147.3L445.3,151.6z" fill="#fccf30"/><path d="M470.3,173.7L487.2,169.5L474.7,158.5L457.8,162.8z" fill="#fec338"/><path d="M482.7,184.4L499.7,180.2L487.2,169.5L470.3,173.7z" fill="#f8ba3d"/><path d="M495.2,194.9L512.1,190.6L499.7,180.2L482.7,184.4z" fill="#f0ba36"/><path d="M507.6,205.1L524.6,200.8L512.1,190.6L495.2,194.9z" fill="#dcbd29"/><path d="M520.1,215.0L537.0,210.8L524.6,200.8L507.6,205.1z" fill="#c5c22a"/><path d="M532.6,224.7L549.5,220.5L537.0,210.8L520.1,215.0z" fill="#b9c431"/><path d="M545.0,234.1L562.0,229.9L549.5,220.5L532.6,224.7z" fill="#9dc943"/><path d="M557.5,243.3L574.4,239.1L562.0,229.9L545.0,234.1z" fill="#8fcb4e"/><path d="M569.9,252.2L586.9,248.0L574.4,239.1L557.5,243.3z" fill="#72cd64"/><path d="M582.4,260.9L599.3,256.7L586.9,248.0L569.9,252.2z" fill="#64cd6f"/><path d="M594.9,269.3L611.8,265.1L599.3,256.7L582.4,260.9z" fill="#57cc7a"/><path d="M607.3,277.4L624.3,273.3L611.8,265.1L594.9,269.3z" fill="#3fca8e"/><path d="M619.8,285.4L636.7,281.2L624.3,273.3L607.3,277.4z" fill="#37c897"/><path d="M632.2,293.0L649.2,288.9L636.7,281.2L619.8,285.4z" fill="#31c69f"/><path d="M644.7,300.4L661.6,296.3L649.2,288.9L632.2,293.0z" fill="#2cc4a7"/><path d="M657.2,307.6L674.1,303.5L661.6,296.3L644.7,300.4z" fill="#24c1ae"/><path d="M669.6,314.5L686.6,310.4L674.1,303.5L657.2,307.6z" fill="#24c1ae"/><path d="M682.1,321.1L699.0,317.1L686.6,310.4L669.6,314.5z" fill="#19bfb6"/><path d="M694.5,327.5L711.5,323.5L699.0,317.1L682.1,321.1z" fill="#0bbdbd"/><path d="M707.0,333.6L723.9,329.6L711.5,323.5L694.5,327.5z" fill="#0bbdbd"/><path d="M719.5,339.5L736.4,335.5L723.9,329.6L707.0,333.6z" fill="#02bac3"/><path d="M731.9,345.2L748.9,341.2L736.4,335.5L719.5,339.5z" fill="#01b8ca"/><path d="M744.4,350.5L761.3,346.6L748.9,341.2L731.9,345.2z" fill="#01b8ca"/><path d="M756.8,355.7L773.8,351.7L761.3,346.6L744.4,350.5z" fill="#01b8ca"/><path d="M769.3,360.5L786.2,356.6L773.8,351.7L756.8,355.7z" fill="#08b5d0"/><path d="M781.8,365.2L798.7,361.2L786.2,356.6L769.3,360.5z" fill="#08b5d0"/><path d="M794.2,369.5L811.2,365.6L798.7,361.2L781.8,365.2z" fill="#08b5d0"/><path d="M806.7,373.7L823.6,369.7L811.2,365.6L794.2,369.5z" fill="#08b5d0"/><path d="M819.1,377.5L836.1,373.6L823.6,369.7L806.7,373.7z" fill="#08b5d0"/><path d="M831.6,381.1L848.5,377.2L836.1,373.6L819.1,377.5z" fill="#08b5d0"/><path d="M844.1,384.5L861.0,380.6L848.5,377.2L831.6,381.1z" fill="#08b5d0"/><path d="M856.5,387.6L873.5,383.7L861.0,380.6L844.1,384.5z" fill="#08b5d0"/><path d="M869.0,390.4L885.9,386.6L873.5,383.7L856.5,387.6z" fill="#01b8ca"/><path d="M881.4,393.0L898.4,389.2L885.9,386.6L869.0,390.4z" fill="#01b8ca"/><path d="M893.9,395.4L910.8,391.6L898.4,389.2L881.4,393.0z" fill="#01b8ca"/><path d="M906.4,397.5L923.3,393.7L910.8,391.6L893.9,395.4z" fill="#02bac3"/><path d="M918.8,399.3L935.8,395.5L923.3,393.7L906.4,397.5z" fill="#02bac3"/><path d="M931.3,400.9L948.2,397.1L935.8,395.5L918.8,399.3z" fill="#0bbdbd"/><path d="M943.7,402.2L960.7,398.5L948.2,397.1L931.3,400.9z" fill="#19bfb6"/><path d="M956.2,403.3L973.1,399.6L960.7,398.5L943.7,402.2z" fill="#19bfb6"/><path d="M968.7,404.2L985.6,400.4L973.1,399.6L956.2,403.3z" fill="#24c1ae"/><path d="M981.1,404.7L998.1,401.0L985.6,400.4L968.7,404.2z" fill="#2cc4a7"/><path d="M993.6,405.1L1010.5,401.3L998.1,401.0L981.1,404.7z" fill="#31c69f"/><path d="M1006.0,405.1L1023.0,401.4L1010.5,401.3L993.6,405.1z" fill="#37c897"/><path d="M1018.5,404.9L1035.4,401.3L1023.0,401.4L1006.0,405.1z" fill="#3fca8e"/><path d="M1031.0,404.5L1047.9,400.8L1035.4,401.3L1018.5,404.9z" fill="#4acb84"/><path d="M1043.4,403.8L1060.4,400.2L1047.9,400.8L1031.0,404.5z" fill="#64cd6f"/><path d="M415.9,144.7L432.9,140.2L420.4,128.5L403.5,133.0z" fill="#f5e924"/><path d="M428.4,156.1L445.3,151.6L432.9,140.2L415.9,144.7z" fill="#f7dc2a"/><path d="M440.9,167.3L457.8,162.8L445.3,151.6L428.4,156.1z" fill="#fccf30"/><path d="M453.3,178.2L470.3,173.7L457.8,162.8L440.9,167.3z" fill="#fec338"/><path d="M465.8,188.9L482.7,184.4L470.3,173.7L453.3,178.2z" fill="#f8ba3d"/><path d="M478.2,199.3L495.2,194.9L482.7,184.4L465.8,188.9z" fill="#e6bb2d"/><path d="M490.7,209.5L507.6,205.1L495.2,194.9L478.2,199.3z" fill="#d1bf27"/><path d="M503.2,219.4L520.1,215.0L507.6,205.1L490.7,209.5z" fill="#c5c22a"/><path d="M515.6,229.1L532.6,224.7L520.1,215.0L503.2,219.4z" fill="#abc739"/><path d="M528.1,238.5L545.0,234.1L532.6,224.7L515.6,229.1z" fill="#9dc943"/><path d="M540.5,247.7L557.5,243.3L545.0,234.1L528.1,238.5z" fill="#81cc59"/><path d="M553.0,256.6L569.9,252.2L557.5,243.3L540.5,247.7z" fill="#72cd64"/><path d="M565.5,265.2L582.4,260.9L569.9,252.2L553.0,256.6z" fill="#64cd6f"/><path d="M577.9,273.6L594.9,269.3L582.4,260.9L565.5,265.2z" fill="#4acb84"/><path d="M590.4,281.8L607.3,277.4L594.9,269.3L577.9,273.6z" fill="#3fca8e"/><path d="M602.8,289.7L619.8,285.4L607.3,277.4L590.4,281.8z" fill="#37c897"/><path d="M615.3,297.3L632.2,293.0L619.8,285.4L602.8,289.7z" fill="#31c69f"/><path d="M627.8,304.7L644.7,300.4L632.2,293.0L615.3,297.3z" fill="#2cc4a7"/><path d="M640.2,311.8L657.2,307.6L644.7,300.4L627.8,304.7z" fill="#24c1ae"/><path d="M652.7,318.7L669.6,314.5L657.2,307.6L640.2,311.8z" fill="#19bfb6"/><path d="M665.1,325.4L682.1,321.1L669.6,314.5L652.7,318.7z" fill="#19bfb6"/><path d="M677.6,331.7L694.5,327.5L682.1,321.1L665.1,325.4z" fill="#0bbdbd"/><path d="M690.1,337.9L707.0,333.6L694.5,327.5L677.6,331.7z" fill="#02bac3"/><path d="M702.5,343.7L719.5,339.5L707.0,333.6L690.1,337.9z" fill="#02bac3"/><path d="M715.0,349.4L731.9,345.2L719.5,339.5L702.5,343.7z" fill="#01b8ca"/><path d="M727.4,354.7L744.4,350.5L731.9,345.2L715.0,349.4z" fill="#01b8ca"/><path d="M739.9,359.8L756.8,355.7L744.4,350.5L727.4,354.7z" fill="#08b5d0"/><path d="M752.4,364.7L769.3,360.5L756.8,355.7L739.9,359.8z" fill="#08b5d0"/><path d="M764.8,369.3L781.8,365.2L769.3,360.5L752.4,364.7z" fill="#08b5d0"/><path d="M777.3,373.7L794.2,369.5L781.8,365.2L764.8,369.3z" fill="#08b5d0"/><path d="M789.7,377.8L806.7,373.7L794.2,369.5L777.3,373.7z" fill="#08b5d0"/><path d="M802.2,381.6L819.1,377.5L806.7,373.7L789.7,377.8z" fill="#08b5d0"/><path d="M814.7,385.2L831.6,381.1L819.1,377.5L802.2,381.6z" fill="#08b5d0"/><path d="M827.1,388.6L844.1,384.5L831.6,381.1L814.7,385.2z" fill="#08b5d0"/><path d="M839.6,391.7L856.5,387.6L844.1,384.5L827.1,388.6z" fill="#08b5d0"/><path d="M852.0,394.5L869.0,390.4L856.5,387.6L839.6,391.7z" fill="#08b5d0"/><path d="M864.5,397.1L881.4,393.0L869.0,390.4L852.0,394.5z" fill="#01b8ca"/><path d="M877.0,399.4L893.9,395.4L881.4,393.0L864.5,397.1z" fill="#01b8ca"/><path d="M889.4,401.5L906.4,397.5L893.9,395.4L877.0,399.4z" fill="#02bac3"/><path d="M901.9,403.3L918.8,399.3L906.4,397.5L889.4,401.5z" fill="#02bac3"/><path d="M914.3,404.9L931.3,400.9L918.8,399.3L901.9,403.3z" fill="#0bbdbd"/><path d="M926.8,406.2L943.7,402.2L931.3,400.9L914.3,404.9z" fill="#0bbdbd"/><path d="M939.3,407.3L956.2,403.3L943.7,402.2L926.8,406.2z" fill="#19bfb6"/><path d="M951.7,408.1L968.7,404.2L956.2,403.3L939.3,407.3z" fill="#24c1ae"/><path d="M964.2,408.7L981.1,404.7L968.7,404.2L951.7,408.1z" fill="#2cc4a7"/><path d="M976.6,409.0L993.6,405.1L981.1,404.7L964.2,408.7z" fill="#31c69f"/><path d="M989.1,409.0L1006.0,405.1L993.6,405.1L976.6,409.0z" fill="#37c897"/><path d="M1001.6,408.8L1018.5,404.9L1006.0,405.1L989.1,409.0z" fill="#3fca8e"/><path d="M1014.0,408.4L1031.0,404.5L1018.5,404.9L1001.6,408.8z" fill="#4acb84"/><path d="M1026.5,407.7L1043.4,403.8L1031.0,404.5L1014.0,408.4z" fill="#57cc7a"/><path d="M399.0,149.4L415.9,144.7L403.5,133.0L386.6,137.7z" fill="#f5e327"/><path d="M411.5,160.8L428.4,156.1L415.9,144.7L399.0,149.4z" fill="#fad62d"/><path d="M423.9,172.0L440.9,167.3L428.4,156.1L411.5,160.8z" fill="#fec934"/><path d="M436.4,182.9L453.3,178.2L440.9,167.3L423.9,172.0z" fill="#febe3c"/><path d="M448.9,193.6L465.8,188.9L453.3,178.2L436.4,182.9z" fill="#f0ba36"/><path d="M461.3,204.0L478.2,199.3L465.8,188.9L448.9,193.6z" fill="#e6bb2d"/><path d="M473.8,214.2L490.7,209.5L478.2,199.3L461.3,204.0z" fill="#d1bf27"/><path d="M486.2,224.1L503.2,219.4L490.7,209.5L473.8,214.2z" fill="#b9c431"/><path d="M498.7,233.7L515.6,229.1L503.2,219.4L486.2,224.1z" fill="#abc739"/><path d="M511.2,243.1L528.1,238.5L515.6,229.1L498.7,233.7z" fill="#8fcb4e"/><path d="M523.6,252.3L540.5,247.7L528.1,238.5L511.2,243.1z" fill="#81cc59"/><path d="M536.1,261.2L553.0,256.6L540.5,247.7L523.6,252.3z" fill="#64cd6f"/><path d="M548.5,269.8L565.5,265.2L553.0,256.6L536.1,261.2z" fill="#57cc7a"/><path d="M561.0,278.2L577.9,273.6L565.5,265.2L548.5,269.8z" fill="#4acb84"/><path d="M573.5,286.3L590.4,281.8L577.9,273.6L561.0,278.2z" fill="#3fca8e"/><path d="M585.9,294.2L602.8,289.7L590.4,281.8L573.5,286.3z" fill="#37c897"/><path d="M598.4,301.8L615.3,297.3L602.8,289.7L585.9,294.2z" fill="#31c69f"/><path d="M610.8,309.2L627.8,304.7L615.3,297.3L598.4,301.8z" fill="#2cc4a7"/><path d="M623.3,316.3L640.2,311.8L627.8,304.7L610.8,309.2z" fill="#24c1ae"/><path d="M635.8,323.2L652.7,318.7L640.2,311.8L623.3,316.3z" fill="#19bfb6"/><path d="M648.2,329.8L665.1,325.4L652.7,318.7L635.8,323.2z" fill="#0bbdbd"/><path d="M660.7,336.2L677.6,331.7L665.1,325.4L648.2,329.8z" fill="#02bac3"/><path d="M673.1,342.3L690.1,337.9L677.6,331.7L660.7,336.2z" fill="#02bac3"/><path d="M685.6,348.2L702.5,343.7L690.1,337.9L673.1,342.3z" fill="#01b8ca"/><path d="M698.1,353.8L715.0,349.4L702.5,343.7L685.6,348.2z" fill="#01b8ca"/><path d="M710.5,359.1L727.4,354.7L715.0,349.4L698.1,353.8z" fill="#08b5d0"/><path d="M723.0,364.2L739.9,359.8L727.4,354.7L710.5,359.1z" fill="#08b5d0"/><path d="M735.4,369.1L752.4,364.7L739.9,359.8L723.0,364.2z" fill="#08b5d0"/><path d="M747.9,373.7L764.8,369.3L752.4,364.7L735.4,369.1z" fill="#08b5d0"/><path d="M760.4,378.0L777.3,373.7L764.8,369.3L747.9,373.7z" fill="#12b1d6"/><path d="M772.8,382.1L789.7,377.8L777.3,373.7L760.4,378.0z" fill="#12b1d6"/><path d="M785.3,386.0L802.2,381.6L789.7,377.8L772.8,382.1z" fill="#12b1d6"/><path d="M797.7,389.5L814.7,385.2L802.2,381.6L785.3,386.0z" fill="#12b1d6"/><path d="M810.2,392.9L827.1,388.6L814.7,385.2L797.7,389.5z" fill="#08b5d0"/><path d="M822.7,395.9L839.6,391.7L827.1,388.6L810.2,392.9z" fill="#08b5d0"/><path d="M835.1,398.8L852.0,394.5L839.6,391.7L822.7,395.9z" fill="#08b5d0"/><path d="M847.6,401.3L864.5,397.1L852.0,394.5L835.1,398.8z" fill="#08b5d0"/><path d="M860.0,403.7L877.0,399.4L864.5,397.1L847.6,401.3z" fill="#01b8ca"/><path d="M872.5,405.7L889.4,401.5L877.0,399.4L860.0,403.7z" fill="#01b8ca"/><path d="M885.0,407.6L901.9,403.3L889.4,401.5L872.5,405.7z" fill="#02bac3"/><path d="M897.4,409.1L914.3,404.9L901.9,403.3L885.0,407.6z" fill="#02bac3"/><path d="M909.9,410.4L926.8,406.2L914.3,404.9L897.4,409.1z" fill="#0bbdbd"/><path d="M922.3,411.5L939.3,407.3L926.8,406.2L909.9,410.4z" fill="#19bfb6"/><path d="M934.8,412.3L951.7,408.1L939.3,407.3L922.3,411.5z" fill="#24c1ae"/><path d="M947.3,412.8L964.2,408.7L951.7,408.1L934.8,412.3z" fill="#2cc4a7"/><path d="M959.7,413.1L976.6,409.0L964.2,408.7L947.3,412.8z" fill="#2cc4a7"/><path d="M972.2,413.2L989.1,409.0L976.6,409.0L959.7,413.1z" fill="#37c897"/><path d="M984.6,413.0L1001.6,408.8L989.1,409.0L972.2,413.2z" fill="#3fca8e"/><path d="M997.1,412.5L1014.0,408.4L1001.6,408.8L984.6,413.0z" fill="#4acb84"/><path d="M1009.6,411.8L1026.5,407.7L1014.0,408.4L997.1,412.5z" fill="#57cc7a"/><path d="M382.1,154.3L399.0,149.4L386.6,137.7L369.6,142.7z" fill="#f5e327"/><path d="M394.5,165.8L411.5,160.8L399.0,149.4L382.1,154.3z" fill="#fad62d"/><path d="M407.0,176.9L423.9,172.0L411.5,160.8L394.5,165.8z" fill="#fec934"/><path d="M419.5,187.8L436.4,182.9L423.9,172.0L407.0,176.9z" fill="#febe3c"/><path d="M431.9,198.5L448.9,193.6L436.4,182.9L419.5,187.8z" fill="#f0ba36"/><path d="M444.4,208.9L461.3,204.0L448.9,193.6L431.9,198.5z" fill="#dcbd29"/><path d="M456.8,219.0L473.8,214.2L461.3,204.0L444.4,208.9z" fill="#c5c22a"/><path d="M469.3,228.9L486.2,224.1L473.8,214.2L456.8,219.0z" fill="#b9c431"/><path d="M481.8,238.6L498.7,233.7L486.2,224.1L469.3,228.9z" fill="#9dc943"/><path d="M494.2,247.9L511.2,243.1L498.7,233.7L481.8,238.6z" fill="#8fcb4e"/><path d="M506.7,257.1L523.6,252.3L511.2,243.1L494.2,247.9z" fill="#72cd64"/><path d="M519.1,266.0L536.1,261.2L523.6,252.3L506.7,257.1z" fill="#64cd6f"/><path d="M531.6,274.6L548.5,269.8L536.1,261.2L519.1,266.0z" fill="#57cc7a"/><path d="M544.1,283.0L561.0,278.2L548.5,269.8L531.6,274.6z" fill="#3fca8e"/><path d="M556.5,291.1L573.5,286.3L561.0,278.2L544.1,283.0z" fill="#37c897"/><path d="M569.0,299.0L585.9,294.2L573.5,286.3L556.5,291.1z" fill="#31c69f"/><path d="M581.4,306.6L598.4,301.8L585.9,294.2L569.0,299.0z" fill="#2cc4a7"/><path d="M593.9,313.9L610.8,309.2L598.4,301.8L581.4,306.6z" fill="#24c1ae"/><path d="M606.4,321.0L623.3,316.3L610.8,309.2L593.9,313.9z" fill="#19bfb6"/><path d="M618.8,327.9L635.8,323.2L623.3,316.3L606.4,321.0z" fill="#0bbdbd"/><path d="M631.3,334.5L648.2,329.8L635.8,323.2L618.8,327.9z" fill="#0bbdbd"/><path d="M643.7,340.9L660.7,336.2L648.2,329.8L631.3,334.5z" fill="#02bac3"/><path d="M656.2,347.0L673.1,342.3L660.7,336.2L643.7,340.9z" fill="#01b8ca"/><path d="M668.7,352.8L685.6,348.2L673.1,342.3L656.2,347.0z" fill="#01b8ca"/><path d="M681.1,358.4L698.1,353.8L685.6,348.2L668.7,352.8z" fill="#08b5d0"/><path d="M693.6,363.8L710.5,359.1L698.1,353.8L681.1,358.4z" fill="#08b5d0"/><path d="M706.0,368.8L723.0,364.2L710.5,359.1L693.6,363.8z" fill="#08b5d0"/><path d="M718.5,373.7L735.4,369.1L723.0,364.2L706.0,368.8z" fill="#12b1d6"/><path d="M731.0,378.3L747.9,373.7L735.4,369.1L718.5,373.7z" fill="#12b1d6"/><path d="M743.4,382.6L760.4,378.0L747.9,373.7L731.0,378.3z" fill="#12b1d6"/><path d="M755.9,386.7L772.8,382.1L760.4,378.0L743.4,382.6z" fill="#12b1d6"/><path d="M768.3,390.5L785.3,386.0L772.8,382.1L755.9,386.7z" fill="#12b1d6"/><path d="M780.8,394.1L797.7,389.5L785.3,386.0L768.3,390.5z" fill="#12b1d6"/><path d="M793.3,397.4L810.2,392.9L797.7,389.5L780.8,394.1z" fill="#12b1d6"/><path d="M805.7,400.5L822.7,395.9L810.2,392.9L793.3,397.4z" fill="#12b1d6"/><path d="M818.2,403.3L835.1,398.8L822.7,395.9L805.7,400.5z" fill="#08b5d0"/><path d="M830.6,405.8L847.6,401.3L835.1,398.8L818.2,403.3z" fill="#08b5d0"/><path d="M843.1,408.1L860.0,403.7L847.6,401.3L830.6,405.8z" fill="#08b5d0"/><path d="M855.6,410.2L872.5,405.7L860.0,403.7L843.1,408.1z" fill="#01b8ca"/><path d="M868.0,412.0L885.0,407.6L872.5,405.7L855.6,410.2z" fill="#01b8ca"/><path d="M880.5,413.5L897.4,409.1L885.0,407.6L868.0,412.0z" fill="#02bac3"/><path d="M892.9,414.8L909.9,410.4L897.4,409.1L880.5,413.5z" fill="#0bbdbd"/><path d="M905.4,415.9L922.3,411.5L909.9,410.4L892.9,414.8z" fill="#0bbdbd"/><path d="M917.9,416.7L934.8,412.3L922.3,411.5L905.4,415.9z" fill="#19bfb6"/><path d="M930.3,417.2L947.3,412.8L934.8,412.3L917.9,416.7z" fill="#24c1ae"/><path d="M942.8,417.5L959.7,413.1L947.3,412.8L930.3,417.2z" fill="#2cc4a7"/><path d="M955.2,417.5L972.2,413.2L959.7,413.1L942.8,417.5z" fill="#31c69f"/><path d="M967.7,417.3L984.6,413.0L972.2,413.2L955.2,417.5z" fill="#37c897"/><path d="M980.2,416.8L997.1,412.5L984.6,413.0L967.7,417.3z" fill="#3fca8e"/><path d="M992.6,416.1L1009.6,411.8L997.1,412.5L980.2,416.8z" fill="#57cc7a"/><path d="M365.1,159.5L382.1,154.3L369.6,142.7L352.7,147.9z" fill="#f7dc2a"/><path d="M377.6,170.9L394.5,165.8L382.1,154.3L365.1,159.5z" fill="#fccf30"/><path d="M390.1,182.0L407.0,176.9L394.5,165.8L377.6,170.9z" fill="#fec338"/><path d="M402.5,192.9L419.5,187.8L407.0,176.9L390.1,182.0z" fill="#f8ba3d"/><path d="M415.0,203.6L431.9,198.5L419.5,187.8L402.5,192.9z" fill="#e6bb2d"/><path d="M427.4,214.0L444.4,208.9L431.9,198.5L415.0,203.6z" fill="#dcbd29"/><path d="M439.9,224.1L456.8,219.0L444.4,208.9L427.4,214.0z" fill="#c5c22a"/><path d="M452.4,234.0L469.3,228.9L456.8,219.0L439.9,224.1z" fill="#abc739"/><path d="M464.8,243.6L481.8,238.6L469.3,228.9L452.4,234.0z" fill="#9dc943"/><path d="M477.3,253.0L494.2,247.9L481.8,238.6L464.8,243.6z" fill="#81cc59"/><path d="M489.7,262.1L506.7,257.1L494.2,247.9L477.3,253.0z" fill="#72cd64"/><path d="M502.2,271.0L519.1,266.0L506.7,257.1L489.7,262.1z" fill="#57cc7a"/><path d="M514.7,279.6L531.6,274.6L519.1,266.0L502.2,271.0z" fill="#4acb84"/><path d="M527.1,288.0L544.1,283.0L531.6,274.6L514.7,279.6z" fill="#3fca8e"/><path d="M539.6,296.1L556.5,291.1L544.1,283.0L527.1,288.0z" fill="#37c897"/><path d="M552.0,303.9L569.0,299.0L556.5,291.1L539.6,296.1z" fill="#31c69f"/><path d="M564.5,311.5L581.4,306.6L569.0,299.0L552.0,303.9z" fill="#2cc4a7"/><path d="M577.0,318.9L593.9,313.9L581.4,306.6L564.5,311.5z" fill="#24c1ae"/><path d="M589.4,326.0L606.4,321.0L593.9,313.9L577.0,318.9z" fill="#19bfb6"/><path d="M601.9,332.8L618.8,327.9L606.4,321.0L589.4,326.0z" fill="#0bbdbd"/><path d="M614.3,339.4L631.3,334.5L618.8,327.9L601.9,332.8z" fill="#02bac3"/><path d="M626.8,345.8L643.7,340.9L631.3,334.5L614.3,339.4z" fill="#02bac3"/><path d="M639.3,351.8L656.2,347.0L643.7,340.9L626.8,345.8z" fill="#01b8ca"/><path d="M651.7,357.7L668.7,352.8L656.2,347.0L639.3,351.8z" fill="#08b5d0"/><path d="M664.2,363.3L681.1,358.4L668.7,352.8L651.7,357.7z" fill="#08b5d0"/><path d="M676.6,368.6L693.6,363.8L681.1,358.4L664.2,363.3z" fill="#12b1d6"/><path d="M689.1,373.7L706.0,368.8L693.6,363.8L676.6,368.6z" fill="#12b1d6"/><path d="M701.6,378.5L718.5,373.7L706.0,368.8L689.1,373.7z" fill="#12b1d6"/><path d="M714.0,383.1L731.0,378.3L718.5,373.7L701.6,378.5z" fill="#12b1d6"/><path d="M726.5,387.4L743.4,382.6L731.0,378.3L714.0,383.1z" fill="#12b1d6"/><path d="M738.9,391.4L755.9,386.7L743.4,382.6L726.5,387.4z" fill="#18addb"/><path d="M751.4,395.2L768.3,390.5L755.9,386.7L738.9,391.4z" fill="#18addb"/><path d="M763.9,398.8L780.8,394.1L768.3,390.5L751.4,395.2z" fill="#12b1d6"/><path d="M776.3,402.1L793.3,397.4L780.8,394.1L763.9,398.8z" fill="#12b1d6"/><path d="M788.8,405.2L805.7,400.5L793.3,397.4L776.3,402.1z" fill="#12b1d6"/><path d="M801.2,408.0L818.2,403.3L805.7,400.5L788.8,405.2z" fill="#12b1d6"/><path d="M813.7,410.5L830.6,405.8L818.2,403.3L801.2,408.0z" fill="#08b5d0"/><path d="M826.2,412.8L843.1,408.1L830.6,405.8L813.7,410.5z" fill="#08b5d0"/><path d="M838.6,414.8L855.6,410.2L843.1,408.1L826.2,412.8z" fill="#08b5d0"/><path d="M851.1,416.6L868.0,412.0L855.6,410.2L838.6,414.8z" fill="#01b8ca"/><path d="M863.5,418.2L880.5,413.5L868.0,412.0L851.1,416.6z" fill="#02bac3"/><path d="M876.0,419.5L892.9,414.8L880.5,413.5L863.5,418.2z" fill="#02bac3"/><path d="M888.5,420.5L905.4,415.9L892.9,414.8L876.0,419.5z" fill="#0bbdbd"/><path d="M900.9,421.3L917.9,416.7L905.4,415.9L888.5,420.5z" fill="#19bfb6"/><path d="M913.4,421.8L930.3,417.2L917.9,416.7L900.9,421.3z" fill="#24c1ae"/><path d="M925.8,422.1L942.8,417.5L930.3,417.2L913.4,421.8z" fill="#2cc4a7"/><path d="M938.3,422.1L955.2,417.5L942.8,417.5L925.8,422.1z" fill="#31c69f"/><path d="M950.8,421.8L967.7,417.3L955.2,417.5L938.3,422.1z" fill="#37c897"/><path d="M963.2,421.4L980.2,416.8L967.7,417.3L950.8,421.8z" fill="#3fca8e"/><path d="M975.7,420.6L992.6,416.1L980.2,416.8L963.2,421.4z" fill="#4acb84"/><path d="M348.2,164.9L365.1,159.5L352.7,147.9L335.7,153.2z" fill="#f7dc2a"/><path d="M360.7,176.3L377.6,170.9L365.1,159.5L348.2,164.9z" fill="#fccf30"/><path d="M373.1,187.4L390.1,182.0L377.6,170.9L360.7,176.3z" fill="#fec338"/><path d="M385.6,198.3L402.5,192.9L390.1,182.0L373.1,187.4z" fill="#f8ba3d"/><path d="M398.0,208.9L415.0,203.6L402.5,192.9L385.6,198.3z" fill="#e6bb2d"/><path d="M410.5,219.3L427.4,214.0L415.0,203.6L398.0,208.9z" fill="#d1bf27"/><path d="M423.0,229.4L439.9,224.1L427.4,214.0L410.5,219.3z" fill="#b9c431"/><path d="M435.4,239.3L452.4,234.0L439.9,224.1L423.0,229.4z" fill="#abc739"/><path d="M447.9,248.9L464.8,243.6L452.4,234.0L435.4,239.3z" fill="#8fcb4e"/><path d="M460.3,258.2L477.3,253.0L464.8,243.6L447.9,248.9z" fill="#81cc59"/><path d="M472.8,267.3L489.7,262.1L477.3,253.0L460.3,258.2z" fill="#64cd6f"/><path d="M485.3,276.2L502.2,271.0L489.7,262.1L472.8,267.3z" fill="#57cc7a"/><path d="M497.7,284.8L514.7,279.6L502.2,271.0L485.3,276.2z" fill="#4acb84"/><path d="M510.2,293.2L527.1,288.0L514.7,279.6L497.7,284.8z" fill="#37c897"/><path d="M522.6,301.3L539.6,296.1L527.1,288.0L510.2,293.2z" fill="#31c69f"/><path d="M535.1,309.1L552.0,303.9L539.6,296.1L522.6,301.3z" fill="#2cc4a7"/><path d="M547.6,316.7L564.5,311.5L552.0,303.9L535.1,309.1z" fill="#24c1ae"/><path d="M560.0,324.0L577.0,318.9L564.5,311.5L547.6,316.7z" fill="#19bfb6"/><path d="M572.5,331.1L589.4,326.0L577.0,318.9L560.0,324.0z" fill="#0bbdbd"/><path d="M584.9,337.9L601.9,332.8L589.4,326.0L572.5,331.1z" fill="#02bac3"/><path d="M597.4,344.5L614.3,339.4L601.9,332.8L584.9,337.9z" fill="#02bac3"/><path d="M609.9,350.9L626.8,345.8L614.3,339.4L597.4,344.5z" fill="#01b8ca"/><path d="M622.3,356.9L639.3,351.8L626.8,345.8L609.9,350.9z" fill="#08b5d0"/><path d="M634.8,362.8L651.7,357.7L639.3,351.8L622.3,356.9z" fill="#08b5d0"/><path d="M647.2,368.3L664.2,363.3L651.7,357.7L634.8,362.8z" fill="#12b1d6"/><path d="M659.7,373.6L676.6,368.6L664.2,363.3L647.2,368.3z" fill="#12b1d6"/><path d="M672.2,378.7L689.1,373.7L676.6,368.6L659.7,373.6z" fill="#12b1d6"/><path d="M684.6,383.5L701.6,378.5L689.1,373.7L672.2,378.7z" fill="#18addb"/><path d="M697.1,388.1L714.0,383.1L701.6,378.5L684.6,383.5z" fill="#18addb"/><path d="M709.5,392.4L726.5,387.4L714.0,383.1L697.1,388.1z" fill="#18addb"/><path d="M722.0,396.4L738.9,391.4L726.5,387.4L709.5,392.4z" fill="#18addb"/><path d="M734.5,400.2L751.4,395.2L738.9,391.4L722.0,396.4z" fill="#18addb"/><path d="M746.9,403.8L763.9,398.8L751.4,395.2L734.5,400.2z" fill="#18addb"/><path d="M759.4,407.1L776.3,402.1L763.9,398.8L746.9,403.8z" fill="#18addb"/><path d="M771.8,410.1L788.8,405.2L776.3,402.1L759.4,407.1z" fill="#18addb"/><path d="M784.3,412.9L801.2,408.0L788.8,405.2L771.8,410.1z" fill="#12b1d6"/><path d="M796.8,415.4L813.7,410.5L801.2,408.0L784.3,412.9z" fill="#12b1d6"/><path d="M809.2,417.7L826.2,412.8L813.7,410.5L796.8,415.4z" fill="#12b1d6"/><path d="M821.7,419.7L838.6,414.8L826.2,412.8L809.2,417.7z" fill="#08b5d0"/><path d="M834.1,421.5L851.1,416.6L838.6,414.8L821.7,419.7z" fill="#08b5d0"/><path d="M846.6,423.0L863.5,418.2L851.1,416.6L834.1,421.5z" fill="#01b8ca"/><path d="M859.1,424.3L876.0,419.5L863.5,418.2L846.6,423.0z" fill="#02bac3"/><path d="M871.5,425.3L888.5,420.5L876.0,419.5L859.1,424.3z" fill="#0bbdbd"/><path d="M884.0,426.1L900.9,421.3L888.5,420.5L871.5,425.3z" fill="#0bbdbd"/><path d="M896.4,426.6L913.4,421.8L900.9,421.3L884.0,426.1z" fill="#19bfb6"/><path d="M908.9,426.8L925.8,422.1L913.4,421.8L896.4,426.6z" fill="#24c1ae"/><path d="M921.4,426.9L938.3,422.1L925.8,422.1L908.9,426.8z" fill="#2cc4a7"/><path d="M933.8,426.6L950.8,421.8L938.3,422.1L921.4,426.9z" fill="#31c69f"/><path d="M946.3,426.1L963.2,421.4L950.8,421.8L933.8,426.6z" fill="#3fca8e"/><path d="M958.7,425.4L975.7,420.6L963.2,421.4L946.3,426.1z" fill="#4acb84"/><path d="M331.3,170.5L348.2,164.9L335.7,153.2L318.8,158.8z" fill="#fad62d"/><path d="M343.7,181.8L360.7,176.3L348.2,164.9L331.3,170.5z" fill="#fec934"/><path d="M356.2,193.0L373.1,187.4L360.7,176.3L343.7,181.8z" fill="#febe3c"/><path d="M368.7,203.8L385.6,198.3L373.1,187.4L356.2,193.0z" fill="#f0ba36"/><path d="M381.1,214.4L398.0,208.9L385.6,198.3L368.7,203.8z" fill="#dcbd29"/><path d="M393.6,224.8L410.5,219.3L398.0,208.9L381.1,214.4z" fill="#c5c22a"/><path d="M406.0,234.9L423.0,229.4L410.5,219.3L393.6,224.8z" fill="#b9c431"/><path d="M418.5,244.8L435.4,239.3L423.0,229.4L406.0,234.9z" fill="#9dc943"/><path d="M431.0,254.4L447.9,248.9L435.4,239.3L418.5,244.8z" fill="#81cc59"/><path d="M443.4,263.7L460.3,258.2L447.9,248.9L431.0,254.4z" fill="#72cd64"/><path d="M455.9,272.8L472.8,267.3L460.3,258.2L443.4,263.7z" fill="#64cd6f"/><path d="M468.3,281.6L485.3,276.2L472.8,267.3L455.9,272.8z" fill="#4acb84"/><path d="M480.8,290.2L497.7,284.8L485.3,276.2L468.3,281.6z" fill="#3fca8e"/><path d="M493.3,298.6L510.2,293.2L497.7,284.8L480.8,290.2z" fill="#37c897"/><path d="M505.7,306.7L522.6,301.3L510.2,293.2L493.3,298.6z" fill="#2cc4a7"/><path d="M518.2,314.5L535.1,309.1L522.6,301.3L505.7,306.7z" fill="#24c1ae"/><path d="M530.6,322.1L547.6,316.7L535.1,309.1L518.2,314.5z" fill="#19bfb6"/><path d="M543.1,329.4L560.0,324.0L547.6,316.7L530.6,322.1z" fill="#0bbdbd"/><path d="M555.6,336.5L572.5,331.1L560.0,324.0L543.1,329.4z" fill="#0bbdbd"/><path d="M568.0,343.3L584.9,337.9L572.5,331.1L555.6,336.5z" fill="#02bac3"/><path d="M580.5,349.9L597.4,344.5L584.9,337.9L568.0,343.3z" fill="#01b8ca"/><path d="M592.9,356.2L609.9,350.9L597.4,344.5L580.5,349.9z" fill="#08b5d0"/><path d="M605.4,362.2L622.3,356.9L609.9,350.9L592.9,356.2z" fill="#08b5d0"/><path d="M617.9,368.0L634.8,362.8L622.3,356.9L605.4,362.2z" fill="#12b1d6"/><path d="M630.3,373.6L647.2,368.3L634.8,362.8L617.9,368.0z" fill="#12b1d6"/><path d="M642.8,378.9L659.7,373.6L647.2,368.3L630.3,373.6z" fill="#18addb"/><path d="M655.2,383.9L672.2,378.7L659.7,373.6L642.8,378.9z" fill="#18addb"/><path d="M667.7,388.7L684.6,383.5L672.2,378.7L655.2,383.9z" fill="#18addb"/><path d="M680.2,393.3L697.1,388.1L684.6,383.5L667.7,388.7z" fill="#18addb"/><path d="M692.6,397.6L709.5,392.4L697.1,388.1L680.2,393.3z" fill="#1ca9df"/><path d="M705.1,401.6L722.0,396.4L709.5,392.4L692.6,397.6z" fill="#1ca9df"/><path d="M717.5,405.4L734.5,400.2L722.0,396.4L705.1,401.6z" fill="#1ca9df"/><path d="M730.0,408.9L746.9,403.8L734.5,400.2L717.5,405.4z" fill="#1ca9df"/><path d="M742.5,412.2L759.4,407.1L746.9,403.8L730.0,408.9z" fill="#18addb"/><path d="M754.9,415.2L771.8,410.1L759.4,407.1L742.5,412.2z" fill="#18addb"/><path d="M767.4,418.0L784.3,412.9L771.8,410.1L754.9,415.2z" fill="#18addb"/><path d="M779.8,420.5L796.8,415.4L784.3,412.9L767.4,418.0z" fill="#18addb"/><path d="M792.3,422.8L809.2,417.7L796.8,415.4L779.8,420.5z" fill="#12b1d6"/><path d="M804.8,424.8L821.7,419.7L809.2,417.7L792.3,422.8z" fill="#12b1d6"/><path d="M817.2,426.6L834.1,421.5L821.7,419.7L804.8,424.8z" fill="#08b5d0"/><path d="M829.7,428.1L846.6,423.0L834.1,421.5L817.2,426.6z" fill="#01b8ca"/><path d="M842.1,429.4L859.1,424.3L846.6,423.0L829.7,428.1z" fill="#01b8ca"/><path d="M854.6,430.4L871.5,425.3L859.1,424.3L842.1,429.4z" fill="#02bac3"/><path d="M867.1,431.1L884.0,426.1L871.5,425.3L854.6,430.4z" fill="#0bbdbd"/><path d="M879.5,431.6L896.4,426.6L884.0,426.1L867.1,431.1z" fill="#19bfb6"/><path d="M892.0,431.9L908.9,426.8L896.4,426.6L879.5,431.6z" fill="#24c1ae"/><path d="M904.4,431.8L921.4,426.9L908.9,426.8L892.0,431.9z" fill="#2cc4a7"/><path d="M916.9,431.6L933.8,426.6L921.4,426.9L904.4,431.8z" fill="#31c69f"/><path d="M929.4,431.1L946.3,426.1L933.8,426.6L916.9,431.6z" fill="#37c897"/><path d="M941.8,430.3L958.7,425.4L946.3,426.1L929.4,431.1z" fill="#3fca8e"/><path d="M314.3,176.3L331.3,170.5L318.8,158.8L301.9,164.7z" fill="#fccf30"/><path d="M326.8,187.6L343.7,181.8L331.3,170.5L314.3,176.3z" fill="#fec338"/><path d="M339.3,198.7L356.2,193.0L343.7,181.8L326.8,187.6z" fill="#f8ba3d"/><path d="M351.7,209.6L368.7,203.8L356.2,193.0L339.3,198.7z" fill="#e6bb2d"/><path d="M364.2,220.2L381.1,214.4L368.7,203.8L351.7,209.6z" fill="#d1bf27"/><path d="M376.6,230.5L393.6,224.8L381.1,214.4L364.2,220.2z" fill="#c5c22a"/><path d="M389.1,240.6L406.0,234.9L393.6,224.8L376.6,230.5z" fill="#abc739"/><path d="M401.6,250.5L418.5,244.8L406.0,234.9L389.1,240.6z" fill="#8fcb4e"/><path d="M414.0,260.1L431.0,254.4L418.5,244.8L401.6,250.5z" fill="#81cc59"/><path d="M426.5,269.4L443.4,263.7L431.0,254.4L414.0,260.1z" fill="#64cd6f"/><path d="M438.9,278.5L455.9,272.8L443.4,263.7L426.5,269.4z" fill="#57cc7a"/><path d="M451.4,287.3L468.3,281.6L455.9,272.8L438.9,278.5z" fill="#3fca8e"/><path d="M463.9,295.9L480.8,290.2L468.3,281.6L451.4,287.3z" fill="#37c897"/><path d="M476.3,304.2L493.3,298.6L480.8,290.2L463.9,295.9z" fill="#31c69f"/><path d="M488.8,312.3L505.7,306.7L493.3,298.6L476.3,304.2z" fill="#2cc4a7"/><path d="M501.2,320.1L518.2,314.5L505.7,306.7L488.8,312.3z" fill="#24c1ae"/><path d="M513.7,327.7L530.6,322.1L518.2,314.5L501.2,320.1z" fill="#19bfb6"/><path d="M526.2,335.0L543.1,329.4L530.6,322.1L513.7,327.7z" fill="#0bbdbd"/><path d="M538.6,342.0L555.6,336.5L543.1,329.4L526.2,335.0z" fill="#02bac3"/><path d="M551.1,348.8L568.0,343.3L555.6,336.5L538.6,342.0z" fill="#01b8ca"/><path d="M563.5,355.4L580.5,349.9L568.0,343.3L551.1,348.8z" fill="#08b5d0"/><path d="M576.0,361.7L592.9,356.2L580.5,349.9L563.5,355.4z" fill="#08b5d0"/><path d="M588.5,367.7L605.4,362.2L592.9,356.2L576.0,361.7z" fill="#12b1d6"/><path d="M600.9,373.5L617.9,368.0L605.4,362.2L588.5,367.7z" fill="#12b1d6"/><path d="M613.4,379.1L630.3,373.6L617.9,368.0L600.9,373.5z" fill="#18addb"/><path d="M625.8,384.4L642.8,378.9L630.3,373.6L613.4,379.1z" fill="#18addb"/><path d="M638.3,389.4L655.2,383.9L642.8,378.9L625.8,384.4z" fill="#1ca9df"/><path d="M650.8,394.2L667.7,388.7L655.2,383.9L638.3,389.4z" fill="#1ca9df"/><path d="M663.2,398.7L680.2,393.3L667.7,388.7L650.8,394.2z" fill="#1ca9df"/><path d="M675.7,403.0L692.6,397.6L680.2,393.3L663.2,398.7z" fill="#1ca9df"/><path d="M688.1,407.0L705.1,401.6L692.6,397.6L675.7,403.0z" fill="#1ca9df"/><path d="M700.6,410.8L717.5,405.4L705.1,401.6L688.1,407.0z" fill="#1ca9df"/><path d="M713.1,414.3L730.0,408.9L717.5,405.4L700.6,410.8z" fill="#1ca9df"/><path d="M725.5,417.6L742.5,412.2L730.0,408.9L713.1,414.3z" fill="#1ca9df"/><path d="M738.0,420.6L754.9,415.2L742.5,412.2L725.5,417.6z" fill="#1ca9df"/><path d="M750.4,423.4L767.4,418.0L754.9,415.2L738.0,420.6z" fill="#1ca9df"/><path d="M762.9,425.9L779.8,420.5L767.4,418.0L750.4,423.4z" fill="#18addb"/><path d="M775.4,428.1L792.3,422.8L779.8,420.5L762.9,425.9z" fill="#18addb"/><path d="M787.8,430.1L804.8,424.8L792.3,422.8L775.4,428.1z" fill="#12b1d6"/><path d="M800.3,431.9L817.2,426.6L804.8,424.8L787.8,430.1z" fill="#12b1d6"/><path d="M812.7,433.4L829.7,428.1L817.2,426.6L800.3,431.9z" fill="#08b5d0"/><path d="M825.2,434.6L842.1,429.4L829.7,428.1L812.7,433.4z" fill="#01b8ca"/><path d="M837.7,435.6L854.6,430.4L842.1,429.4L825.2,434.6z" fill="#01b8ca"/><path d="M850.1,436.4L867.1,431.1L854.6,430.4L837.7,435.6z" fill="#02bac3"/><path d="M862.6,436.8L879.5,431.6L867.1,431.1L850.1,436.4z" fill="#0bbdbd"/><path d="M875.0,437.1L892.0,431.9L879.5,431.6L862.6,436.8z" fill="#19bfb6"/><path d="M887.5,437.0L904.4,431.8L892.0,431.9L875.0,437.1z" fill="#24c1ae"/><path d="M900.0,436.8L916.9,431.6L904.4,431.8L887.5,437.0z" fill="#2cc4a7"/><path d="M912.4,436.2L929.4,431.1L916.9,431.6L900.0,436.8z" fill="#31c69f"/><path d="M924.9,435.5L941.8,430.3L929.4,431.1L912.4,436.2z" fill="#3fca8e"/><path d="M297.4,182.3L314.3,176.3L301.9,164.7L284.9,170.7z" fill="#fec934"/><path d="M309.9,193.6L326.8,187.6L314.3,176.3L297.4,182.3z" fill="#febe3c"/><path d="M322.3,204.7L339.3,198.7L326.8,187.6L309.9,193.6z" fill="#f0ba36"/><path d="M334.8,215.6L351.7,209.6L339.3,198.7L322.3,204.7z" fill="#dcbd29"/><path d="M347.2,226.2L364.2,220.2L351.7,209.6L334.8,215.6z" fill="#d1bf27"/><path d="M359.7,236.5L376.6,230.5L364.2,220.2L347.2,226.2z" fill="#b9c431"/><path d="M372.2,246.6L389.1,240.6L376.6,230.5L359.7,236.5z" fill="#9dc943"/><path d="M384.6,256.4L401.6,250.5L389.1,240.6L372.2,246.6z" fill="#8fcb4e"/><path d="M397.1,266.0L414.0,260.1L401.6,250.5L384.6,256.4z" fill="#72cd64"/><path d="M409.5,275.3L426.5,269.4L414.0,260.1L397.1,266.0z" fill="#57cc7a"/><path d="M422.0,284.4L438.9,278.5L426.5,269.4L409.5,275.3z" fill="#4acb84"/><path d="M434.5,293.2L451.4,287.3L438.9,278.5L422.0,284.4z" fill="#3fca8e"/><path d="M446.9,301.7L463.9,295.9L451.4,287.3L434.5,293.2z" fill="#31c69f"/><path d="M459.4,310.1L476.3,304.2L463.9,295.9L446.9,301.7z" fill="#2cc4a7"/><path d="M471.8,318.1L488.8,312.3L476.3,304.2L459.4,310.1z" fill="#24c1ae"/><path d="M484.3,325.9L501.2,320.1L488.8,312.3L471.8,318.1z" fill="#19bfb6"/><path d="M496.8,333.5L513.7,327.7L501.2,320.1L484.3,325.9z" fill="#0bbdbd"/><path d="M509.2,340.8L526.2,335.0L513.7,327.7L496.8,333.5z" fill="#02bac3"/><path d="M521.7,347.8L538.6,342.0L526.2,335.0L509.2,340.8z" fill="#01b8ca"/><path d="M534.1,354.6L551.1,348.8L538.6,342.0L521.7,347.8z" fill="#08b5d0"/><path d="M546.6,361.2L563.5,355.4L551.1,348.8L534.1,354.6z" fill="#08b5d0"/><path d="M559.1,367.4L576.0,361.7L563.5,355.4L546.6,361.2z" fill="#12b1d6"/><path d="M571.5,373.5L588.5,367.7L576.0,361.7L559.1,367.4z" fill="#18addb"/><path d="M584.0,379.3L600.9,373.5L588.5,367.7L571.5,373.5z" fill="#18addb"/><path d="M596.4,384.8L613.4,379.1L600.9,373.5L584.0,379.3z" fill="#1ca9df"/><path d="M608.9,390.1L625.8,384.4L613.4,379.1L596.4,384.8z" fill="#1ca9df"/><path d="M621.4,395.1L638.3,389.4L625.8,384.4L608.9,390.1z" fill="#1ca9df"/><path d="M633.8,399.9L650.8,394.2L638.3,389.4L621.4,395.1z" fill="#20a5e3"/><path d="M646.3,404.4L663.2,398.7L650.8,394.2L633.8,399.9z" fill="#20a5e3"/><path d="M658.7,408.6L675.7,403.0L663.2,398.7L646.3,404.4z" fill="#20a5e3"/><path d="M671.2,412.7L688.1,407.0L675.7,403.0L658.7,408.6z" fill="#20a5e3"/><path d="M683.7,416.4L700.6,410.8L688.1,407.0L671.2,412.7z" fill="#20a5e3"/><path d="M696.1,419.9L713.1,414.3L700.6,410.8L683.7,416.4z" fill="#20a5e3"/><path d="M708.6,423.2L725.5,417.6L713.1,414.3L696.1,419.9z" fill="#20a5e3"/><path d="M721.0,426.2L738.0,420.6L725.5,417.6L708.6,423.2z" fill="#20a5e3"/><path d="M733.5,428.9L750.4,423.4L738.0,420.6L721.0,426.2z" fill="#1ca9df"/><path d="M746.0,431.4L762.9,425.9L750.4,423.4L733.5,428.9z" fill="#1ca9df"/><path d="M758.4,433.7L775.4,428.1L762.9,425.9L746.0,431.4z" fill="#18addb"/><path d="M770.9,435.7L787.8,430.1L775.4,428.1L758.4,433.7z" fill="#18addb"/><path d="M783.3,437.4L800.3,431.9L787.8,430.1L770.9,435.7z" fill="#12b1d6"/><path d="M795.8,438.9L812.7,433.4L800.3,431.9L783.3,437.4z" fill="#12b1d6"/><path d="M808.3,440.1L825.2,434.6L812.7,433.4L795.8,438.9z" fill="#08b5d0"/><path d="M820.7,441.1L837.7,435.6L825.2,434.6L808.3,440.1z" fill="#01b8ca"/><path d="M833.2,441.8L850.1,436.4L837.7,435.6L820.7,441.1z" fill="#02bac3"/><path d="M845.6,442.3L862.6,436.8L850.1,436.4L833.2,441.8z" fill="#0bbdbd"/><path d="M858.1,442.5L875.0,437.1L862.6,436.8L845.6,442.3z" fill="#0bbdbd"/><path d="M870.6,442.5L887.5,437.0L875.0,437.1L858.1,442.5z" fill="#24c1ae"/><path d="M883.0,442.2L900.0,436.8L887.5,437.0L870.6,442.5z" fill="#2cc4a7"/><path d="M895.5,441.6L912.4,436.2L900.0,436.8L883.0,442.2z" fill="#31c69f"/><path d="M907.9,440.8L924.9,435.5L912.4,436.2L895.5,441.6z" fill="#37c897"/><path d="M280.5,188.5L297.4,182.3L284.9,170.7L268.0,176.9z" fill="#fec338"/><path d="M292.9,199.9L309.9,193.6L297.4,182.3L280.5,188.5z" fill="#f8ba3d"/><path d="M305.4,210.9L322.3,204.7L309.9,193.6L292.9,199.9z" fill="#e6bb2d"/><path d="M317.8,221.8L334.8,215.6L322.3,204.7L305.4,210.9z" fill="#dcbd29"/><path d="M330.3,232.3L347.2,226.2L334.8,215.6L317.8,221.8z" fill="#c5c22a"/><path d="M342.8,242.7L359.7,236.5L347.2,226.2L330.3,232.3z" fill="#abc739"/><path d="M355.2,252.7L372.2,246.6L359.7,236.5L342.8,242.7z" fill="#8fcb4e"/><path d="M367.7,262.5L384.6,256.4L372.2,246.6L355.2,252.7z" fill="#81cc59"/><path d="M380.1,272.1L397.1,266.0L384.6,256.4L367.7,262.5z" fill="#64cd6f"/><path d="M392.6,281.4L409.5,275.3L397.1,266.0L380.1,272.1z" fill="#57cc7a"/><path d="M405.1,290.5L422.0,284.4L409.5,275.3L392.6,281.4z" fill="#3fca8e"/><path d="M417.5,299.3L434.5,293.2L422.0,284.4L405.1,290.5z" fill="#37c897"/><path d="M430.0,307.8L446.9,301.7L434.5,293.2L417.5,299.3z" fill="#31c69f"/><path d="M442.4,316.1L459.4,310.1L446.9,301.7L430.0,307.8z" fill="#24c1ae"/><path d="M454.9,324.2L471.8,318.1L459.4,310.1L442.4,316.1z" fill="#19bfb6"/><path d="M467.4,332.0L484.3,325.9L471.8,318.1L454.9,324.2z" fill="#0bbdbd"/><path d="M479.8,339.5L496.8,333.5L484.3,325.9L467.4,332.0z" fill="#02bac3"/><path d="M492.3,346.8L509.2,340.8L496.8,333.5L479.8,339.5z" fill="#01b8ca"/><path d="M504.7,353.8L521.7,347.8L509.2,340.8L492.3,346.8z" fill="#08b5d0"/><path d="M517.2,360.6L534.1,354.6L521.7,347.8L504.7,353.8z" fill="#08b5d0"/><path d="M529.7,367.1L546.6,361.2L534.1,354.6L517.2,360.6z" fill="#12b1d6"/><path d="M542.1,373.4L559.1,367.4L546.6,361.2L529.7,367.1z" fill="#18addb"/><path d="M554.6,379.4L571.5,373.5L559.1,367.4L542.1,373.4z" fill="#18addb"/><path d="M567.0,385.2L584.0,379.3L571.5,373.5L554.6,379.4z" fill="#1ca9df"/><path d="M579.5,390.7L596.4,384.8L584.0,379.3L567.0,385.2z" fill="#1ca9df"/><path d="M592.0,396.0L608.9,390.1L596.4,384.8L579.5,390.7z" fill="#20a5e3"/><path d="M604.4,401.0L621.4,395.1L608.9,390.1L592.0,396.0z" fill="#20a5e3"/><path d="M616.9,405.7L633.8,399.9L621.4,395.1L604.4,401.0z" fill="#20a5e3"/><path d="M629.3,410.3L646.3,404.4L633.8,399.9L616.9,405.7z" fill="#23a0e5"/><path d="M641.8,414.5L658.7,408.6L646.3,404.4L629.3,410.3z" fill="#23a0e5"/><path d="M654.3,418.5L671.2,412.7L658.7,408.6L641.8,414.5z" fill="#23a0e5"/><path d="M666.7,422.2L683.7,416.4L671.2,412.7L654.3,418.5z" fill="#23a0e5"/><path d="M679.2,425.7L696.1,419.9L683.7,416.4L666.7,422.2z" fill="#23a0e5"/><path d="M691.6,429.0L708.6,423.2L696.1,419.9L679.2,425.7z" fill="#20a5e3"/><path d="M704.1,432.0L721.0,426.2L708.6,423.2L691.6,429.0z" fill="#20a5e3"/><path d="M716.6,434.7L733.5,428.9L721.0,426.2L704.1,432.0z" fill="#20a5e3"/><path d="M729.0,437.2L746.0,431.4L733.5,428.9L716.6,434.7z" fill="#20a5e3"/><path d="M741.5,439.4L758.4,433.7L746.0,431.4L729.0,437.2z" fill="#1ca9df"/><path d="M753.9,441.4L770.9,435.7L758.4,433.7L741.5,439.4z" fill="#1ca9df"/><path d="M766.4,443.1L783.3,437.4L770.9,435.7L753.9,441.4z" fill="#18addb"/><path d="M778.9,444.6L795.8,438.9L783.3,437.4L766.4,443.1z" fill="#12b1d6"/><path d="M791.3,445.8L808.3,440.1L795.8,438.9L778.9,444.6z" fill="#12b1d6"/><path d="M803.8,446.8L820.7,441.1L808.3,440.1L791.3,445.8z" fill="#08b5d0"/><path d="M816.2,447.5L833.2,441.8L820.7,441.1L803.8,446.8z" fill="#01b8ca"/><path d="M828.7,447.9L845.6,442.3L833.2,441.8L816.2,447.5z" fill="#02bac3"/><path d="M841.2,448.1L858.1,442.5L845.6,442.3L828.7,447.9z" fill="#0bbdbd"/><path d="M853.6,448.1L870.6,442.5L858.1,442.5L841.2,448.1z" fill="#19bfb6"/><path d="M866.1,447.8L883.0,442.2L870.6,442.5L853.6,448.1z" fill="#24c1ae"/><path d="M878.5,447.2L895.5,441.6L883.0,442.2L866.1,447.8z" fill="#2cc4a7"/><path d="M891.0,446.4L907.9,440.8L895.5,441.6L878.5,447.2z" fill="#31c69f"/><path d="M263.5,195.0L280.5,188.5L268.0,176.9L251.1,183.4z" fill="#fec338"/><path d="M276.0,206.3L292.9,199.9L280.5,188.5L263.5,195.0z" fill="#f8ba3d"/><path d="M288.5,217.4L305.4,210.9L292.9,199.9L276.0,206.3z" fill="#e6bb2d"/><path d="M300.9,228.2L317.8,221.8L305.4,210.9L288.5,217.4z" fill="#d1bf27"/><path d="M313.4,238.7L330.3,232.3L317.8,221.8L300.9,228.2z" fill="#b9c431"/><path d="M325.8,249.0L342.8,242.7L330.3,232.3L313.4,238.7z" fill="#9dc943"/><path d="M338.3,259.1L355.2,252.7L342.8,242.7L325.8,249.0z" fill="#81cc59"/><path d="M350.8,268.9L367.7,262.5L355.2,252.7L338.3,259.1z" fill="#72cd64"/><path d="M363.2,278.5L380.1,272.1L367.7,262.5L350.8,268.9z" fill="#57cc7a"/><path d="M375.7,287.7L392.6,281.4L380.1,272.1L363.2,278.5z" fill="#4acb84"/><path d="M388.1,296.8L405.1,290.5L392.6,281.4L375.7,287.7z" fill="#37c897"/><path d="M400.6,305.6L417.5,299.3L405.1,290.5L388.1,296.8z" fill="#31c69f"/><path d="M413.1,314.1L430.0,307.8L417.5,299.3L400.6,305.6z" fill="#2cc4a7"/><path d="M425.5,322.4L442.4,316.1L430.0,307.8L413.1,314.1z" fill="#19bfb6"/><path d="M438.0,330.4L454.9,324.2L442.4,316.1L425.5,322.4z" fill="#0bbdbd"/><path d="M450.4,338.2L467.4,332.0L454.9,324.2L438.0,330.4z" fill="#02bac3"/><path d="M462.9,345.7L479.8,339.5L467.4,332.0L450.4,338.2z" fill="#01b8ca"/><path d="M475.4,353.0L492.3,346.8L479.8,339.5L462.9,345.7z" fill="#08b5d0"/><path d="M487.8,360.0L504.7,353.8L492.3,346.8L475.4,353.0z" fill="#12b1d6"/><path d="M500.3,366.8L517.2,360.6L504.7,353.8L487.8,360.0z" fill="#12b1d6"/><path d="M512.7,373.3L529.7,367.1L517.2,360.6L500.3,366.8z" fill="#18addb"/><path d="M525.2,379.6L542.1,373.4L529.7,367.1L512.7,373.3z" fill="#1ca9df"/><path d="M537.7,385.6L554.6,379.4L542.1,373.4L525.2,379.6z" fill="#1ca9df"/><path d="M550.1,391.3L567.0,385.2L554.6,379.4L537.7,385.6z" fill="#20a5e3"/><path d="M562.6,396.8L579.5,390.7L567.0,385.2L550.1,391.3z" fill="#20a5e3"/><path d="M575.0,402.1L592.0,396.0L579.5,390.7L562.6,396.8z" fill="#23a0e5"/><path d="M587.5,407.1L604.4,401.0L592.0,396.0L575.0,402.1z" fill="#23a0e5"/><path d="M600.0,411.8L616.9,405.7L604.4,401.0L587.5,407.1z" fill="#23a0e5"/><path d="M612.4,416.3L629.3,410.3L616.9,405.7L600.0,411.8z" fill="#23a0e5"/><path d="M624.9,420.6L641.8,414.5L629.3,410.3L612.4,416.3z" fill="#259be8"/><path d="M637.3,424.6L654.3,418.5L641.8,414.5L624.9,420.6z" fill="#259be8"/><path d="M649.8,428.3L666.7,422.2L654.3,418.5L637.3,424.6z" fill="#259be8"/><path d="M662.3,431.8L679.2,425.7L666.7,422.2L649.8,428.3z" fill="#23a0e5"/><path d="M674.7,435.0L691.6,429.0L679.2,425.7L662.3,431.8z" fill="#23a0e5"/><path d="M687.2,438.0L704.1,432.0L691.6,429.0L674.7,435.0z" fill="#23a0e5"/><path d="M699.6,440.7L716.6,434.7L704.1,432.0L687.2,438.0z" fill="#23a0e5"/><path d="M712.1,443.2L729.0,437.2L716.6,434.7L699.6,440.7z" fill="#20a5e3"/><path d="M724.6,445.4L741.5,439.4L729.0,437.2L712.1,443.2z" fill="#20a5e3"/><path d="M737.0,447.3L753.9,441.4L741.5,439.4L724.6,445.4z" fill="#1ca9df"/><path d="M749.5,449.1L766.4,443.1L753.9,441.4L737.0,447.3z" fill="#1ca9df"/><path d="M761.9,450.5L778.9,444.6L766.4,443.1L749.5,449.1z" fill="#18addb"/><path d="M774.4,451.7L791.3,445.8L778.9,444.6L761.9,450.5z" fill="#18addb"/><path d="M786.9,452.7L803.8,446.8L791.3,445.8L774.4,451.7z" fill="#12b1d6"/><path d="M799.3,453.4L816.2,447.5L803.8,446.8L786.9,452.7z" fill="#08b5d0"/><path d="M811.8,453.8L828.7,447.9L816.2,447.5L799.3,453.4z" fill="#01b8ca"/><path d="M824.2,454.0L841.2,448.1L828.7,447.9L811.8,453.8z" fill="#02bac3"/><path d="M836.7,453.9L853.6,448.1L841.2,448.1L824.2,454.0z" fill="#0bbdbd"/><path d="M849.2,453.6L866.1,447.8L853.6,448.1L836.7,453.9z" fill="#19bfb6"/><path d="M861.6,453.1L878.5,447.2L866.1,447.8L849.2,453.6z" fill="#24c1ae"/><path d="M874.1,452.3L891.0,446.4L878.5,447.2L861.6,453.1z" fill="#31c69f"/><path d="M246.6,201.6L263.5,195.0L251.1,183.4L234.1,190.1z" fill="#febe3c"/><path d="M259.1,212.9L276.0,206.3L263.5,195.0L246.6,201.6z" fill="#f0ba36"/><path d="M271.5,224.0L288.5,217.4L276.0,206.3L259.1,212.9z" fill="#dcbd29"/><path d="M284.0,234.8L300.9,228.2L288.5,217.4L271.5,224.0z" fill="#c5c22a"/><path d="M296.4,245.3L313.4,238.7L300.9,228.2L284.0,234.8z" fill="#abc739"/><path d="M308.9,255.6L325.8,249.0L313.4,238.7L296.4,245.3z" fill="#8fcb4e"/><path d="M321.4,265.7L338.3,259.1L325.8,249.0L308.9,255.6z" fill="#72cd64"/><path d="M333.8,275.5L350.8,268.9L338.3,259.1L321.4,265.7z" fill="#64cd6f"/><path d="M346.3,285.0L363.2,278.5L350.8,268.9L333.8,275.5z" fill="#4acb84"/><path d="M358.7,294.3L375.7,287.7L363.2,278.5L346.3,285.0z" fill="#3fca8e"/><path d="M371.2,303.3L388.1,296.8L375.7,287.7L358.7,294.3z" fill="#31c69f"/><path d="M383.7,312.1L400.6,305.6L388.1,296.8L371.2,303.3z" fill="#2cc4a7"/><path d="M396.1,320.6L413.1,314.1L400.6,305.6L383.7,312.1z" fill="#24c1ae"/><path d="M408.6,328.9L425.5,322.4L413.1,314.1L396.1,320.6z" fill="#19bfb6"/><path d="M421.0,336.9L438.0,330.4L425.5,322.4L408.6,328.9z" fill="#02bac3"/><path d="M433.5,344.7L450.4,338.2L438.0,330.4L421.0,336.9z" fill="#01b8ca"/><path d="M446.0,352.2L462.9,345.7L450.4,338.2L433.5,344.7z" fill="#08b5d0"/><path d="M458.4,359.5L475.4,353.0L462.9,345.7L446.0,352.2z" fill="#12b1d6"/><path d="M470.9,366.5L487.8,360.0L475.4,353.0L458.4,359.5z" fill="#12b1d6"/><path d="M483.3,373.2L500.3,366.8L487.8,360.0L470.9,366.5z" fill="#18addb"/><path d="M495.8,379.7L512.7,373.3L500.3,366.8L483.3,373.2z" fill="#1ca9df"/><path d="M508.3,386.0L525.2,379.6L512.7,373.3L495.8,379.7z" fill="#20a5e3"/><path d="M520.7,392.0L537.7,385.6L525.2,379.6L508.3,386.0z" fill="#20a5e3"/><path d="M533.2,397.7L550.1,391.3L537.7,385.6L520.7,392.0z" fill="#23a0e5"/><path d="M545.6,403.2L562.6,396.8L550.1,391.3L533.2,397.7z" fill="#23a0e5"/><path d="M558.1,408.4L575.0,402.1L562.6,396.8L545.6,403.2z" fill="#259be8"/><path d="M570.6,413.4L587.5,407.1L575.0,402.1L558.1,408.4z" fill="#259be8"/><path d="M583.0,418.2L600.0,411.8L587.5,407.1L570.6,413.4z" fill="#259be8"/><path d="M595.5,422.6L612.4,416.3L600.0,411.8L583.0,418.2z" fill="#259be8"/><path d="M607.9,426.9L624.9,420.6L612.4,416.3L595.5,422.6z" fill="#259be8"/><path d="M620.4,430.8L637.3,424.6L624.9,420.6L607.9,426.9z" fill="#259be8"/><path d="M632.9,434.6L649.8,428.3L637.3,424.6L620.4,430.8z" fill="#259be8"/><path d="M645.3,438.0L662.3,431.8L649.8,428.3L632.9,434.6z" fill="#259be8"/><path d="M657.8,441.2L674.7,435.0L662.3,431.8L645.3,438.0z" fill="#259be8"/><path d="M670.2,444.2L687.2,438.0L674.7,435.0L657.8,441.2z" fill="#259be8"/><path d="M682.7,446.9L699.6,440.7L687.2,438.0L670.2,444.2z" fill="#259be8"/><path d="M695.2,449.4L712.1,443.2L699.6,440.7L682.7,446.9z" fill="#23a0e5"/><path d="M707.6,451.6L724.6,445.4L712.1,443.2L695.2,449.4z" fill="#23a0e5"/><path d="M720.1,453.5L737.0,447.3L724.6,445.4L707.6,451.6z" fill="#20a5e3"/><path d="M732.5,455.2L749.5,449.1L737.0,447.3L720.1,453.5z" fill="#20a5e3"/><path d="M745.0,456.7L761.9,450.5L749.5,449.1L732.5,455.2z" fill="#1ca9df"/><path d="M757.5,457.8L774.4,451.7L761.9,450.5L745.0,456.7z" fill="#18addb"/><path d="M769.9,458.8L786.9,452.7L774.4,451.7L757.5,457.8z" fill="#18addb"/><path d="M782.4,459.5L799.3,453.4L786.9,452.7L769.9,458.8z" fill="#12b1d6"/><path d="M794.8,459.9L811.8,453.8L799.3,453.4L782.4,459.5z" fill="#08b5d0"/><path d="M807.3,460.1L824.2,454.0L811.8,453.8L794.8,459.9z" fill="#01b8ca"/><path d="M819.8,460.0L836.7,453.9L824.2,454.0L807.3,460.1z" fill="#02bac3"/><path d="M832.2,459.7L849.2,453.6L836.7,453.9L819.8,460.0z" fill="#0bbdbd"/><path d="M844.7,459.1L861.6,453.1L849.2,453.6L832.2,459.7z" fill="#24c1ae"/><path d="M857.1,458.3L874.1,452.3L861.6,453.1L844.7,459.1z" fill="#2cc4a7"/><path d="M229.7,208.5L246.6,201.6L234.1,190.1L217.2,197.0z" fill="#f8ba3d"/><path d="M242.1,219.8L259.1,212.9L246.6,201.6L229.7,208.5z" fill="#e6bb2d"/><path d="M254.6,230.9L271.5,224.0L259.1,212.9L242.1,219.8z" fill="#d1bf27"/><path d="M267.0,241.6L284.0,234.8L271.5,224.0L254.6,230.9z" fill="#b9c431"/><path d="M279.5,252.2L296.4,245.3L284.0,234.8L267.0,241.6z" fill="#9dc943"/><path d="M292.0,262.5L308.9,255.6L296.4,245.3L279.5,252.2z" fill="#81cc59"/><path d="M304.4,272.5L321.4,265.7L308.9,255.6L292.0,262.5z" fill="#64cd6f"/><path d="M316.9,282.3L333.8,275.5L321.4,265.7L304.4,272.5z" fill="#57cc7a"/><path d="M329.3,291.8L346.3,285.0L333.8,275.5L316.9,282.3z" fill="#3fca8e"/><path d="M341.8,301.1L358.7,294.3L346.3,285.0L329.3,291.8z" fill="#37c897"/><path d="M354.3,310.1L371.2,303.3L358.7,294.3L341.8,301.1z" fill="#2cc4a7"/><path d="M366.7,318.8L383.7,312.1L371.2,303.3L354.3,310.1z" fill="#24c1ae"/><path d="M379.2,327.3L396.1,320.6L383.7,312.1L366.7,318.8z" fill="#19bfb6"/><path d="M391.6,335.6L408.6,328.9L396.1,320.6L379.2,327.3z" fill="#0bbdbd"/><path d="M404.1,343.6L421.0,336.9L408.6,328.9L391.6,335.6z" fill="#01b8ca"/><path d="M416.6,351.4L433.5,344.7L421.0,336.9L404.1,343.6z" fill="#08b5d0"/><path d="M429.0,358.9L446.0,352.2L433.5,344.7L416.6,351.4z" fill="#12b1d6"/><path d="M441.5,366.1L458.4,359.5L446.0,352.2L429.0,358.9z" fill="#18addb"/><path d="M453.9,373.1L470.9,366.5L458.4,359.5L441.5,366.1z" fill="#18addb"/><path d="M466.4,379.8L483.3,373.2L470.9,366.5L453.9,373.1z" fill="#1ca9df"/><path d="M478.9,386.3L495.8,379.7L483.3,373.2L466.4,379.8z" fill="#20a5e3"/><path d="M491.3,392.6L508.3,386.0L495.8,379.7L478.9,386.3z" fill="#23a0e5"/><path d="M503.8,398.6L520.7,392.0L508.3,386.0L491.3,392.6z" fill="#23a0e5"/><path d="M516.2,404.3L533.2,397.7L520.7,392.0L503.8,398.6z" fill="#259be8"/><path d="M528.7,409.8L545.6,403.2L533.2,397.7L516.2,404.3z" fill="#259be8"/><path d="M541.2,415.0L558.1,408.4L545.6,403.2L528.7,409.8z" fill="#2797eb"/><path d="M553.6,420.0L570.6,413.4L558.1,408.4L541.2,415.0z" fill="#2797eb"/><path d="M566.1,424.7L583.0,418.2L570.6,413.4L553.6,420.0z" fill="#2797eb"/><path d="M578.5,429.1L595.5,422.6L583.0,418.2L566.1,424.7z" fill="#2797eb"/><path d="M591.0,433.4L607.9,426.9L595.5,422.6L578.5,429.1z" fill="#2797eb"/><path d="M603.5,437.3L620.4,430.8L607.9,426.9L591.0,433.4z" fill="#2797eb"/><path d="M615.9,441.0L632.9,434.6L620.4,430.8L603.5,437.3z" fill="#2797eb"/><path d="M628.4,444.5L645.3,438.0L632.9,434.6L615.9,441.0z" fill="#2797eb"/><path d="M640.8,447.7L657.8,441.2L645.3,438.0L628.4,444.5z" fill="#2797eb"/><path d="M653.3,450.6L670.2,444.2L657.8,441.2L640.8,447.7z" fill="#2797eb"/><path d="M665.8,453.3L682.7,446.9L670.2,444.2L653.3,450.6z" fill="#2797eb"/><path d="M678.2,455.8L695.2,449.4L682.7,446.9L665.8,453.3z" fill="#259be8"/><path d="M690.7,458.0L707.6,451.6L695.2,449.4L678.2,455.8z" fill="#259be8"/><path d="M703.1,459.9L720.1,453.5L707.6,451.6L690.7,458.0z" fill="#23a0e5"/><path d="M715.6,461.6L732.5,455.2L720.1,453.5L703.1,459.9z" fill="#23a0e5"/><path d="M728.1,463.0L745.0,456.7L732.5,455.2L715.6,461.6z" fill="#20a5e3"/><path d="M740.5,464.2L757.5,457.8L745.0,456.7L728.1,463.0z" fill="#1ca9df"/><path d="M753.0,465.1L769.9,458.8L757.5,457.8L740.5,464.2z" fill="#18addb"/><path d="M765.4,465.8L782.4,459.5L769.9,458.8L753.0,465.1z" fill="#18addb"/><path d="M777.9,466.2L794.8,459.9L782.4,459.5L765.4,465.8z" fill="#12b1d6"/><path d="M790.4,466.4L807.3,460.1L794.8,459.9L777.9,466.2z" fill="#08b5d0"/><path d="M802.8,466.3L819.8,460.0L807.3,460.1L790.4,466.4z" fill="#01b8ca"/><path d="M815.3,466.0L832.2,459.7L819.8,460.0L802.8,466.3z" fill="#0bbdbd"/><path d="M827.7,465.4L844.7,459.1L832.2,459.7L815.3,466.0z" fill="#19bfb6"/><path d="M840.2,464.5L857.1,458.3L844.7,459.1L827.7,465.4z" fill="#24c1ae"/></g>
<g fill="#1a1a1a"><circle cx="405.7" cy="186.3" r="5.7"/><circle cx="511.2" cy="149.2" r="5.7"/><circle cx="616.6" cy="124.2" r="5.7"/><circle cx="722.3" cy="110.6" r="5.7"/><circle cx="827.6" cy="112.0" r="5.7"/><circle cx="933.1" cy="116.2" r="5.7"/><circle cx="1020.9" cy="118.9" r="5.7"/><circle cx="1038.3" cy="123.5" r="5.7"/><circle cx="685.0" cy="183.8" r="5.7"/><circle cx="790.6" cy="162.6" r="5.7"/><circle cx="896.2" cy="162.6" r="5.7"/><circle cx="1001.7" cy="165.2" r="5.7"/><circle cx="1107.2" cy="161.6" r="5.7"/><circle cx="859.4" cy="208.6" r="5.7"/><circle cx="964.9" cy="205.8" r="5.7"/><circle cx="1070.4" cy="219.5" r="5.7"/><circle cx="1175.7" cy="248.2" r="5.7"/><circle cx="753.6" cy="238.0" r="5.7"/><circle cx="927.7" cy="260.3" r="5.7"/><circle cx="1033.3" cy="266.5" r="5.7"/><circle cx="822.3" cy="279.9" r="5.7"/><circle cx="1344.8" cy="291.3" r="5.7"/><circle cx="1450.5" cy="265.7" r="5.7"/><circle cx="1239.3" cy="315.4" r="5.7"/><circle cx="1170.7" cy="322.5" r="5.7"/><circle cx="1065.4" cy="324.8" r="5.7"/><circle cx="1133.8" cy="333.7" r="5.7"/><circle cx="959.9" cy="341.0" r="5.7"/><circle cx="1307.8" cy="347.3" r="5.7"/><circle cx="1028.3" cy="350.0" r="5.7"/><circle cx="854.1" cy="352.1" r="5.7"/><circle cx="748.5" cy="357.8" r="5.7"/><circle cx="643.6" cy="357.7" r="5.7"/><circle cx="505.9" cy="356.4" r="5.7"/><circle cx="922.6" cy="363.3" r="5.7"/><circle cx="1202.2" cy="362.3" r="5.7"/><circle cx="817.1" cy="377.3" r="5.7"/><circle cx="574.6" cy="382.5" r="5.7"/><circle cx="711.8" cy="391.5" r="5.7"/><circle cx="885.8" cy="407.4" r="5.7"/><circle cx="780.3" cy="423.2" r="5.7"/><circle cx="1413.5" cy="333.8" r="5.7"/><circle cx="1518.7" cy="331.8" r="5.7"/><circle cx="1588.0" cy="374.9" r="5.7"/><circle cx="1481.6" cy="386.7" r="5.7"/><circle cx="1381.8" cy="390.9" r="5.7"/><circle cx="1376.3" cy="406.6" r="5.7"/><circle cx="1244.4" cy="410.3" r="5.7"/><circle cx="1270.8" cy="424.8" r="5.7"/><circle cx="1165.5" cy="437.6" r="5.7"/><circle cx="1207.3" cy="448.3" r="5.7"/><circle cx="1059.9" cy="453.6" r="5.7"/><circle cx="954.5" cy="471.0" r="5.7"/><circle cx="849.1" cy="490.2" r="5.7"/><circle cx="1312.8" cy="511.1" r="5.7"/><path d="M1090.9,377.6a5.7,5.7 0 0 1 11.4,0z"/><path d="M985.4,393.3a5.7,5.7 0 0 1 11.4,0z"/><circle cx="916.3" cy="112.6" r="4.2"/><path d="M1273.2,346.2l2.2,-2.6l3.6,2.4z"/></g>
<rect x="1293.7" y="34.6" width="332.8" height="42.7" fill="#fff" stroke="#3a3a3a" stroke-width="1.4"/>
<circle cx="1352.9" cy="56.2" r="5.8" fill="#1a1a1a"/>
<text x="1409" y="65.6" font-size="26.4">Coordinate points</text>
<text class="s" x="876" y="878" font-size="46" text-anchor="middle">(a)</text>
</g>
<g id="panel-b">
<rect x="87.2" y="951.7" width="680.6" height="338.7" fill="#3e26a8"/>
<path d="M87.2,1290.4L767.8,1290.4L767.8,1287.6L757.7,1279.1L746.7,1269.2L738.0,1260.8L729.9,1252.3L723.7,1245.2L719.1,1239.6L714.8,1234.0L709.9,1226.9L706.5,1221.2L702.7,1214.2L699.5,1207.1L697.4,1201.5L695.4,1194.4L694.3,1188.8L693.4,1181.7L693.3,1176.1L693.5,1170.4L694.5,1163.4L695.8,1157.7L698.0,1150.7L700.9,1143.6L703.6,1138.0L706.8,1132.3L711.4,1125.3L715.6,1119.6L721.3,1112.6L727.6,1105.5L734.4,1098.5L741.8,1091.4L749.7,1084.4L758.1,1077.3L767.8,1069.6L767.8,951.7L87.2,951.7L87.2,1290.4z" fill="#4852f4" fill-rule="evenodd"/>
<path d="M87.2,1290.4L690.0,1290.4L675.3,1280.5L661.3,1270.6L648.1,1260.8L637.5,1252.3L627.6,1243.8L618.5,1235.4L610.4,1226.9L604.3,1219.8L598.1,1211.4L593.7,1204.3L590.2,1197.3L587.6,1190.2L585.9,1183.1L585.2,1176.1L585.4,1169.0L586.6,1162.0L588.7,1154.9L591.8,1147.9L595.9,1140.8L598.7,1136.6L601.9,1132.3L607.9,1125.3L616.1,1116.8L625.4,1108.3L635.7,1099.9L646.9,1091.4L661.0,1081.5L673.9,1073.1L689.7,1063.2L706.4,1053.3L726.2,1042.0L746.9,1030.7L767.8,1019.6L767.8,951.7L87.2,951.7L87.2,1290.4z" fill="#2b91ef" fill-rule="evenodd"/>
<path d="M87.2,1290.4L586.3,1290.4L502.3,1250.9L446.0,1224.1L408.4,1205.7L383.7,1193.0L373.6,1187.4L366.6,1183.1L360.5,1178.9L357.2,1176.1L354.7,1173.3L353.3,1170.4L353.0,1169.0L353.0,1167.6L353.3,1166.2L354.0,1164.8L354.9,1163.4L356.2,1162.0L359.4,1159.2L363.4,1156.3L370.5,1152.1L378.5,1147.9L390.1,1142.2L418.0,1129.5L463.6,1109.8L530.1,1081.5L767.8,982.0L767.8,951.7L87.2,951.7L87.2,1059.9L151.1,1090.0L198.5,1112.6L233.1,1129.5L255.2,1140.8L270.3,1149.3L277.0,1153.5L280.9,1156.3L284.2,1159.2L286.7,1162.0L287.6,1163.4L288.2,1164.8L288.5,1166.2L288.4,1167.6L288.1,1169.0L287.5,1170.4L285.2,1173.3L282.0,1176.1L278.0,1178.9L273.4,1181.7L265.6,1186.0L257.1,1190.2L236.0,1200.1L204.0,1214.2L154.6,1235.4L87.2,1263.8L87.2,1290.4z" fill="#0bbdbd" fill-rule="evenodd"/>
<path d="M205.2,1290.4L405.1,1290.4L390.6,1288.2L379.3,1286.8L367.9,1285.5L353.8,1284.2L339.6,1283.2L328.2,1282.7L305.6,1282.3L282.9,1282.7L271.5,1283.3L257.3,1284.2L231.8,1286.8L217.6,1288.6L205.2,1290.4zM300.4,1051.9L322.6,1052.8L345.3,1052.8L367.9,1052.0L390.6,1050.4L413.3,1048.0L438.8,1044.4L464.4,1040.0L489.9,1034.8L518.2,1028.3L546.6,1021.1L577.8,1012.6L609.0,1003.4L643.0,992.8L679.9,980.8L722.4,966.4L764.3,951.7L87.2,951.7L87.2,1007.6L118.4,1017.2L146.8,1025.2L175.1,1032.4L200.6,1038.2L226.2,1043.1L251.7,1047.1L263.0,1048.5L277.2,1050.1L300.4,1051.9z" fill="#81cc59" fill-rule="evenodd"/>
<path d="M302.6,1003.9L322.6,1004.6L342.4,1004.8L362.3,1004.6L385.0,1003.7L407.6,1002.3L427.5,1000.5L450.2,998.0L472.9,995.0L495.6,991.6L518.2,987.6L540.9,983.3L566.5,977.9L592.0,972.1L617.5,965.8L643.0,959.3L670.8,951.7L87.2,951.7L87.2,969.0L109.9,974.7L135.4,980.7L160.9,986.0L186.5,990.8L209.1,994.5L231.8,997.7L257.3,1000.6L280.0,1002.6L302.6,1003.9z" fill="#febe3c" fill-rule="evenodd"/>
<path d="M306.8,967.2L333.9,967.9L362.3,967.8L390.6,967.0L419.0,965.4L447.4,963.1L475.7,960.1L504.1,956.5L535.2,951.7L161.1,951.7L180.8,954.9L197.8,957.4L214.8,959.7L234.7,962.0L254.5,963.9L271.5,965.3L288.5,966.4L306.8,967.2z" fill="#f9fb15" fill-rule="evenodd"/>
<path d="M767.8,1287.6L757.7,1279.1L749.8,1272.1L740.8,1263.6L733.9,1256.5L727.3,1249.5L721.3,1242.4L715.8,1235.4L710.9,1228.3L706.5,1221.2L702.7,1214.2L699.5,1207.1L697.4,1201.5L695.4,1194.4L694.3,1188.8L693.4,1181.7L693.3,1176.1L693.5,1170.4L694.5,1163.4L695.8,1157.7L698.0,1150.7L700.9,1143.6L703.6,1138.0L706.8,1132.3L711.4,1125.3L715.6,1119.6L721.3,1112.6L727.6,1105.5L734.4,1098.5L741.8,1091.4L749.7,1084.4L758.1,1077.3L767.8,1069.6M690.0,1290.4L675.3,1280.5L661.3,1270.6L648.1,1260.8L637.5,1252.3L627.6,1243.8L618.5,1235.4L610.4,1226.9L603.2,1218.4L597.1,1210.0L593.0,1202.9L589.6,1195.8L587.2,1188.8L586.2,1184.6L585.5,1180.3L585.1,1173.3L585.7,1166.2L587.3,1159.2L589.9,1152.1L593.3,1145.0L595.9,1140.8L598.7,1136.6L604.2,1129.5L610.5,1122.5L619.1,1114.0L627.1,1106.9L637.5,1098.5L648.9,1090.0L661.0,1081.5L676.1,1071.7L692.1,1061.8L708.8,1051.9L726.2,1042.0L746.9,1030.7L767.8,1019.6M586.3,1290.4L502.3,1250.9L446.0,1224.1L408.4,1205.7L383.7,1193.0L373.6,1187.4L366.6,1183.1L360.5,1178.9L357.2,1176.1L354.7,1173.3L353.3,1170.4L353.0,1169.0L353.0,1167.6L353.3,1166.2L354.0,1164.8L354.9,1163.4L356.2,1162.0L359.4,1159.2L363.4,1156.3L370.5,1152.1L378.5,1147.9L390.1,1142.2L418.0,1129.5L463.6,1109.8L530.1,1081.5L767.8,982.0M87.2,1059.9L151.1,1090.0L198.5,1112.6L233.1,1129.5L255.2,1140.8L270.3,1149.3L277.0,1153.5L280.9,1156.3L284.2,1159.2L286.7,1162.0L287.6,1163.4L288.2,1164.8L288.5,1166.2L288.4,1167.6L288.1,1169.0L287.5,1170.4L285.2,1173.3L282.0,1176.1L278.0,1178.9L273.4,1181.7L265.6,1186.0L257.1,1190.2L236.0,1200.1L204.0,1214.2L154.6,1235.4L87.2,1263.8M405.1,1290.4L390.6,1288.2L379.3,1286.8L367.9,1285.5L353.8,1284.2L339.6,1283.2L328.2,1282.7L305.6,1282.3L282.9,1282.7L271.5,1283.3L257.3,1284.2L231.8,1286.8L217.6,1288.6L205.2,1290.4M87.2,1007.6L109.9,1014.6L132.6,1021.3L152.4,1026.7L172.3,1031.8L189.3,1035.7L209.1,1039.9L229.0,1043.6L246.0,1046.3L263.0,1048.5L282.9,1050.6L299.9,1051.9L316.9,1052.6L333.9,1052.9L350.9,1052.7L367.9,1052.0L385.0,1050.9L402.0,1049.3L421.8,1046.9L438.8,1044.4L458.7,1041.0L478.5,1037.2L498.4,1033.0L521.1,1027.6L543.8,1021.9L566.5,1015.8L592.0,1008.5L617.5,1000.8L643.0,992.8L671.4,983.6L699.7,974.1L730.9,963.4L764.3,951.7M87.2,969.0L107.1,974.0L124.1,978.1L141.1,981.9L160.9,986.0L177.9,989.3L197.8,992.8L214.8,995.4L231.8,997.7L248.8,999.7L265.9,1001.4L282.9,1002.8L299.9,1003.8L316.9,1004.5L333.9,1004.8L350.9,1004.8L367.9,1004.4L385.0,1003.7L402.0,1002.7L419.0,1001.3L436.0,999.7L453.0,997.7L470.0,995.4L487.1,992.9L506.9,989.6L523.9,986.6L543.8,982.7L563.6,978.5L583.5,974.1L603.3,969.4L626.0,963.7L648.7,957.7L670.8,951.7M161.1,951.7L183.6,955.3L209.1,958.9L231.8,961.7L254.5,963.9L277.2,965.7L299.9,966.9L322.6,967.7L345.3,968.0L367.9,967.7L390.6,967.0L416.2,965.6L438.8,963.9L461.5,961.7L487.1,958.7L509.7,955.6L535.2,951.7" fill="none" stroke="#000" stroke-width="1.3" stroke-linejoin="round"/>
<path d="M118.1,951.7V1290.4M206.5,951.7V1290.4M294.9,951.7V1290.4M383.3,951.7V1290.4M471.7,951.7V1290.4M560.1,951.7V1290.4M648.5,951.7V1290.4M736.9,951.7V1290.4M87.2,1275.0H767.8M87.2,1228.4H767.8M87.2,1181.7H767.8M87.2,1135.0H767.8M87.2,1088.4H767.8M87.2,1041.7H767.8M87.2,995.1H767.8" stroke="#000" stroke-opacity="0.17" stroke-width="1.2" fill="none"/>
<path d="M118.1,1290.4v-7M118.1,951.7v7M206.5,1290.4v-7M206.5,951.7v7M294.9,1290.4v-7M294.9,951.7v7M383.3,1290.4v-7M383.3,951.7v7M471.7,1290.4v-7M471.7,951.7v7M560.1,1290.4v-7M560.1,951.7v7M648.5,1290.4v-7M648.5,951.7v7M736.9,1290.4v-7M736.9,951.7v7M87.2,1275.0h7M767.8,1275.0h-7M87.2,1228.4h7M767.8,1228.4h-7M87.2,1181.7h7M767.8,1181.7h-7M87.2,1135.0h7M767.8,1135.0h-7M87.2,1088.4h7M767.8,1088.4h-7M87.2,1041.7h7M767.8,1041.7h-7M87.2,995.1h7M767.8,995.1h-7" stroke="#222" stroke-width="1.3" fill="none"/>
<g fill="#1f1f1f"><circle cx="118.1" cy="1275.0" r="5.1"/><circle cx="118.1" cy="1237.7" r="5.1"/><circle cx="118.1" cy="1200.4" r="5.1"/><circle cx="118.1" cy="1163.0" r="5.1"/><circle cx="118.1" cy="1125.7" r="5.1"/><circle cx="118.1" cy="1088.4" r="5.1"/><circle cx="118.1" cy="1051.1" r="5.1"/><circle cx="118.1" cy="1013.7" r="5.1"/><circle cx="118.1" cy="976.4" r="5.1"/><circle cx="118.1" cy="967.1" r="5.1"/><circle cx="206.5" cy="1275.0" r="5.1"/><circle cx="206.5" cy="1237.7" r="5.1"/><circle cx="206.5" cy="1200.4" r="5.1"/><circle cx="206.5" cy="1163.0" r="5.1"/><circle cx="206.5" cy="1125.7" r="5.1"/><circle cx="206.5" cy="1088.4" r="5.1"/><circle cx="206.5" cy="1051.1" r="5.1"/><circle cx="206.5" cy="1013.7" r="5.1"/><circle cx="206.5" cy="976.4" r="5.1"/><circle cx="206.5" cy="967.1" r="5.1"/><circle cx="294.9" cy="1275.0" r="5.1"/><circle cx="294.9" cy="1237.7" r="5.1"/><circle cx="294.9" cy="1200.4" r="5.1"/><circle cx="294.9" cy="1163.0" r="5.1"/><circle cx="294.9" cy="1125.7" r="5.1"/><circle cx="294.9" cy="1088.4" r="5.1"/><circle cx="294.9" cy="1051.1" r="5.1"/><circle cx="294.9" cy="1013.7" r="5.1"/><circle cx="294.9" cy="976.4" r="5.1"/><circle cx="294.9" cy="967.1" r="5.1"/><circle cx="383.3" cy="1275.0" r="5.1"/><circle cx="383.3" cy="1237.7" r="5.1"/><circle cx="383.3" cy="1200.4" r="5.1"/><circle cx="383.3" cy="1163.0" r="5.1"/><circle cx="383.3" cy="1125.7" r="5.1"/><circle cx="383.3" cy="1088.4" r="5.1"/><circle cx="383.3" cy="1051.1" r="5.1"/><circle cx="383.3" cy="1013.7" r="5.1"/><circle cx="383.3" cy="976.4" r="5.1"/><circle cx="383.3" cy="967.1" r="5.1"/><circle cx="471.7" cy="1275.0" r="5.1"/><circle cx="471.7" cy="1237.7" r="5.1"/><circle cx="471.7" cy="1200.4" r="5.1"/><circle cx="471.7" cy="1163.0" r="5.1"/><circle cx="471.7" cy="1125.7" r="5.1"/><circle cx="471.7" cy="1088.4" r="5.1"/><circle cx="471.7" cy="1051.1" r="5.1"/><circle cx="471.7" cy="1013.7" r="5.1"/><circle cx="471.7" cy="976.4" r="5.1"/><circle cx="471.7" cy="967.1" r="5.1"/><circle cx="560.1" cy="1275.0" r="5.1"/><circle cx="560.1" cy="1237.7" r="5.1"/><circle cx="560.1" cy="1200.4" r="5.1"/><circle cx="560.1" cy="1163.0" r="5.1"/><circle cx="560.1" cy="1125.7" r="5.1"/><circle cx="560.1" cy="1088.4" r="5.1"/><circle cx="560.1" cy="1051.1" r="5.1"/><circle cx="560.1" cy="1013.7" r="5.1"/><circle cx="560.1" cy="976.4" r="5.1"/><circle cx="560.1" cy="967.1" r="5.1"/><circle cx="648.5" cy="1275.0" r="5.1"/><circle cx="648.5" cy="1237.7" r="5.1"/><circle cx="648.5" cy="1200.4" r="5.1"/><circle cx="648.5" cy="1163.0" r="5.1"/><circle cx="648.5" cy="1125.7" r="5.1"/><circle cx="648.5" cy="1088.4" r="5.1"/><circle cx="648.5" cy="1051.1" r="5.1"/><circle cx="648.5" cy="1013.7" r="5.1"/><circle cx="648.5" cy="976.4" r="5.1"/><circle cx="648.5" cy="967.1" r="5.1"/><circle cx="736.9" cy="1275.0" r="5.1"/><circle cx="736.9" cy="1237.7" r="5.1"/><circle cx="736.9" cy="1200.4" r="5.1"/><circle cx="736.9" cy="1163.0" r="5.1"/><circle cx="736.9" cy="1125.7" r="5.1"/><circle cx="736.9" cy="1088.4" r="5.1"/><circle cx="736.9" cy="1051.1" r="5.1"/><circle cx="736.9" cy="1013.7" r="5.1"/><circle cx="736.9" cy="976.4" r="5.1"/><circle cx="736.9" cy="967.1" r="5.1"/></g>
<rect x="87.2" y="951.7" width="680.6" height="338.7" fill="none" stroke="#333" stroke-width="1.5"/>
<g font-size="24.3"><text x="118.1" y="1321.3" text-anchor="middle">0</text><text x="206.5" y="1321.3" text-anchor="middle">100</text><text x="294.9" y="1321.3" text-anchor="middle">200</text><text x="383.3" y="1321.3" text-anchor="middle">300</text><text x="471.7" y="1321.3" text-anchor="middle">400</text><text x="560.1" y="1321.3" text-anchor="middle">500</text><text x="648.5" y="1321.3" text-anchor="middle">600</text><text x="736.9" y="1321.3" text-anchor="middle">700</text><text x="80" y="1285.0" text-anchor="end">0</text><text x="80" y="1238.4" text-anchor="end">500</text><text x="80" y="1191.7" text-anchor="end">1000</text><text x="80" y="1145.0" text-anchor="end">1500</text><text x="80" y="1098.4" text-anchor="end">2000</text><text x="80" y="1051.7" text-anchor="end">2500</text><text x="80" y="1005.1" text-anchor="end">3000</text></g>
<text x="427.5" y="1353.2" font-size="24.5" text-anchor="middle">x</text>
<text transform="translate(17,1120) rotate(-90)" font-size="24" text-anchor="middle">y</text>
<text class="s" x="405.5" y="1434" font-size="46" text-anchor="middle">(b)</text>
</g>
<g id="panel-c">
<path fill="none" stroke="#d7d7d7" stroke-width="1.3" d="M1373.4,1300.4L1078.1,1211.4M1078.1,1211.4L1078.1,1015.7M1473.4,1282.7L1178.1,1193.7M1178.1,1193.7L1178.1,998.0M1573.4,1265.1L1278.1,1176.1M1278.1,1176.1L1278.1,980.4M1673.4,1247.4L1378.1,1158.4M1378.1,1158.4L1378.1,962.7M1342.5,1299.5L1727.5,1231.5M1727.5,1231.5L1727.5,1035.8M1261.1,1274.9L1646.1,1206.9M1646.1,1206.9L1646.1,1011.2M1179.8,1250.4L1564.8,1182.4M1564.8,1182.4L1564.8,986.7M1098.4,1225.9L1483.4,1157.9M1483.4,1157.9L1483.4,962.2M1060.6,1187.7L1445.6,1119.7M1445.6,1119.7L1740.9,1208.7M1060.6,1143.4L1445.6,1075.4M1445.6,1075.4L1740.9,1164.4M1060.6,1099.0L1445.6,1031.0M1445.6,1031.0L1740.9,1120.0M1060.6,1054.7L1445.6,986.7M1445.6,986.7L1740.9,1075.7"/>
<path fill="none" stroke="#3a3a3a" stroke-width="1.3" d="M1060.6,1214.5L1445.6,1146.5L1740.9,1235.5M1445.6,1146.5L1445.6,950.8M1060.6,1018.8L1445.6,950.8L1740.9,1039.8L1740.9,1235.5"/>
<path fill="none" stroke="#1c1c1c" stroke-width="1.5" d="M1740.9,1235.5L1355.9,1303.5L1060.6,1214.5L1060.6,1018.8"/>
<path fill="none" stroke="#1c1c1c" stroke-width="1.3" d="M1373.4,1300.4L1383.0,1303.3M1473.4,1282.7L1483.0,1285.6M1573.4,1265.1L1583.0,1268.0M1673.4,1247.4L1683.0,1250.3M1342.5,1299.5L1333.6,1301.0M1261.1,1274.9L1252.3,1276.5M1179.8,1250.4L1170.9,1252.0M1098.4,1225.9L1089.6,1227.5M1060.6,1187.7L1050.5,1184.7M1060.6,1143.4L1050.5,1140.3M1060.6,1099.0L1050.5,1096.0M1060.6,1054.7L1050.5,1051.7"/>
<g font-size="24.5"><text x="1043.5" y="1194.5" text-anchor="end">-40</text><text x="1043.5" y="1150.2" text-anchor="end">-20</text><text x="1043.5" y="1105.8" text-anchor="end">0</text><text x="1043.5" y="1061.5" text-anchor="end">20</text><text x="1327.0" y="1328.9" text-anchor="end">0</text><text x="1245.6" y="1304.3" text-anchor="end">1000</text><text x="1164.3" y="1279.8" text-anchor="end">2000</text><text x="1082.9" y="1255.3" text-anchor="end">3000</text><text x="1386.9" y="1330.3">0</text><text x="1486.9" y="1312.6">200</text><text x="1586.9" y="1295.0">400</text><text x="1686.9" y="1277.3">600</text></g>
<text x="1539" y="1353" font-size="25" text-anchor="middle">x</text>
<text x="1180" y="1349" font-size="25" text-anchor="middle">y</text>
<text transform="translate(1001,1117) rotate(-90)" font-size="25" text-anchor="middle">z</text>
<path fill="none" stroke="#222" stroke-width="1.4" d="M1391.5,1047.0V1047.6M1341.5,1055.8V1058.3M1291.5,1064.7V1068.3M1547.3,1070.1V1137.1M1241.5,1073.5V1077.9M1497.3,1078.9V1106.0M1579.8,1079.9V1186.3M1191.5,1082.3V1088.4M1529.8,1088.7V1167.3M1612.4,1089.7V1106.9M1141.5,1091.2V1100.4M1232.2,1094.6V1096.6M1479.8,1097.5V1135.0M1562.4,1098.5V1100.9M1091.5,1100.0V1111.1M1099.7,1102.5V1108.3M1182.2,1103.4V1113.3M1264.7,1104.4V1112.9M1429.8,1106.4V1117.7M1132.2,1112.3V1126.3M1214.7,1113.2V1130.8M1297.3,1114.2V1117.7M1379.8,1115.2V1121.9M1164.7,1122.1V1139.1M1247.3,1123.0V1125.3M1329.8,1124.0V1132.5M1660.0,1127.9V1130.4M1279.8,1132.9V1139.1M1610.0,1136.8V1156.9M1477.4,1144.6V1145.7M1560.0,1145.6V1177.6M1427.4,1153.4V1153.6M1510.0,1154.4V1190.0M1460.0,1163.2V1198.5M1410.0,1172.1V1202.6M1360.0,1180.9V1203.3"/><g fill="#222"><circle cx="1391.5" cy="1047.6" r="5"/><circle cx="1341.5" cy="1058.3" r="5"/><circle cx="1291.5" cy="1068.3" r="5"/><circle cx="1547.3" cy="1137.1" r="5"/><circle cx="1241.5" cy="1077.9" r="5"/><circle cx="1497.3" cy="1106.0" r="5"/><circle cx="1579.8" cy="1186.3" r="5"/><circle cx="1191.5" cy="1088.4" r="5"/><circle cx="1529.8" cy="1167.3" r="5"/><circle cx="1612.4" cy="1106.9" r="5"/><circle cx="1141.5" cy="1100.4" r="5"/><circle cx="1232.2" cy="1096.6" r="5"/><circle cx="1479.8" cy="1135.0" r="5"/><circle cx="1562.4" cy="1100.9" r="5"/><circle cx="1091.5" cy="1111.1" r="5"/><circle cx="1099.7" cy="1108.3" r="5"/><circle cx="1182.2" cy="1113.3" r="5"/><circle cx="1264.7" cy="1112.9" r="5"/><circle cx="1429.8" cy="1117.7" r="5"/><circle cx="1132.2" cy="1126.3" r="5"/><circle cx="1214.7" cy="1130.8" r="5"/><circle cx="1297.3" cy="1117.7" r="5"/><circle cx="1379.8" cy="1121.9" r="5"/><circle cx="1164.7" cy="1139.1" r="5"/><circle cx="1247.3" cy="1125.3" r="5"/><circle cx="1329.8" cy="1132.5" r="5"/><circle cx="1660.0" cy="1130.4" r="5"/><circle cx="1279.8" cy="1139.1" r="5"/><circle cx="1610.0" cy="1156.9" r="5"/><circle cx="1477.4" cy="1145.7" r="5"/><circle cx="1560.0" cy="1177.6" r="5"/><circle cx="1427.4" cy="1153.6" r="5"/><circle cx="1510.0" cy="1190.0" r="5"/><circle cx="1460.0" cy="1198.5" r="5"/><circle cx="1410.0" cy="1202.6" r="5"/><circle cx="1360.0" cy="1203.3" r="5"/></g>
<path d="M1355.9,1188.0L1740.9,1120.0L1445.6,1031.0L1060.6,1099.0z" fill="#808080" fill-opacity="0.33" stroke="#111" stroke-width="1.4" stroke-linejoin="round"/>
<path fill="none" stroke="#222" stroke-width="1.4" d="M1441.5,1038.2V1031.8M1449.7,1040.6V1027.3M1399.7,1049.5V1040.4M1482.2,1050.4V1024.2M1349.7,1058.3V1050.0M1432.2,1059.3V1044.2M1514.7,1060.2V1056.1M1299.7,1067.1V1056.3M1382.2,1068.1V1055.3M1464.7,1069.1V1057.0M1249.7,1076.0V1066.6M1332.2,1076.9V1062.5M1414.7,1077.9V1061.4M1199.7,1084.8V1079.0M1282.2,1085.8V1078.4M1364.7,1086.7V1070.5M1447.3,1087.7V1081.8M1149.7,1093.6V1093.3M1314.7,1095.6V1090.4M1397.3,1096.5V1085.9M1644.9,1099.5V1029.1M1347.3,1105.4V1100.4M1512.4,1107.3V1098.3M1594.9,1108.3V1063.2M1677.4,1109.3V1071.2M1462.4,1116.2V1107.8M1544.9,1117.1V1092.3M1627.4,1118.1V1091.8M1710.0,1119.1V1104.0M1412.4,1125.0V1120.9M1494.9,1126.0V1112.0M1577.4,1126.9V1114.0M1197.3,1131.9V1125.3M1362.4,1133.8V1126.7M1444.9,1134.8V1125.7M1527.4,1135.8V1132.3M1229.8,1141.7V1131.5M1312.4,1142.7V1123.0M1394.9,1143.6V1131.9M1262.4,1151.5V1110.8M1344.9,1152.5V1133.9M1294.9,1161.3V1131.1M1377.4,1162.3V1156.1M1327.4,1171.1V1154.3"/><g fill="#222"><circle cx="1441.5" cy="1031.8" r="5"/><circle cx="1449.7" cy="1027.3" r="5"/><circle cx="1399.7" cy="1040.4" r="5"/><circle cx="1482.2" cy="1024.2" r="5"/><circle cx="1349.7" cy="1050.0" r="5"/><circle cx="1432.2" cy="1044.2" r="5"/><circle cx="1514.7" cy="1056.1" r="5"/><circle cx="1299.7" cy="1056.3" r="5"/><circle cx="1382.2" cy="1055.3" r="5"/><circle cx="1464.7" cy="1057.0" r="5"/><circle cx="1249.7" cy="1066.6" r="5"/><circle cx="1332.2" cy="1062.5" r="5"/><circle cx="1414.7" cy="1061.4" r="5"/><circle cx="1199.7" cy="1079.0" r="5"/><circle cx="1282.2" cy="1078.4" r="5"/><circle cx="1364.7" cy="1070.5" r="5"/><circle cx="1447.3" cy="1081.8" r="5"/><circle cx="1149.7" cy="1093.3" r="5"/><circle cx="1314.7" cy="1090.4" r="5"/><circle cx="1397.3" cy="1085.9" r="5"/><circle cx="1644.9" cy="1029.1" r="5"/><circle cx="1347.3" cy="1100.4" r="5"/><circle cx="1512.4" cy="1098.3" r="5"/><circle cx="1594.9" cy="1063.2" r="5"/><circle cx="1677.4" cy="1071.2" r="5"/><circle cx="1462.4" cy="1107.8" r="5"/><circle cx="1544.9" cy="1092.3" r="5"/><circle cx="1627.4" cy="1091.8" r="5"/><circle cx="1710.0" cy="1104.0" r="5"/><circle cx="1412.4" cy="1120.9" r="5"/><circle cx="1494.9" cy="1112.0" r="5"/><circle cx="1577.4" cy="1114.0" r="5"/><circle cx="1197.3" cy="1125.3" r="5"/><circle cx="1362.4" cy="1126.7" r="5"/><circle cx="1444.9" cy="1125.7" r="5"/><circle cx="1527.4" cy="1132.3" r="5"/><circle cx="1229.8" cy="1131.5" r="5"/><circle cx="1312.4" cy="1123.0" r="5"/><circle cx="1394.9" cy="1131.9" r="5"/><circle cx="1262.4" cy="1110.8" r="5"/><circle cx="1344.9" cy="1133.9" r="5"/><circle cx="1294.9" cy="1131.1" r="5"/><circle cx="1377.4" cy="1156.1" r="5"/><circle cx="1327.4" cy="1154.3" r="5"/></g>
<rect x="1414.4" y="941.1" width="346.7" height="40.2" fill="#fff" stroke="#3a3a3a" stroke-width="1.4"/>
<path d="M1424.8,961.7H1489" stroke="#222" stroke-width="1.4"/><circle cx="1489.1" cy="961.7" r="5.1" fill="#222"/>
<text x="1525" y="970.3" font-size="24.6">Seam floor-residuals</text>
<text class="s" x="1344" y="1434" font-size="46" text-anchor="middle">(c)</text>
</g>
</svg></body></html>
